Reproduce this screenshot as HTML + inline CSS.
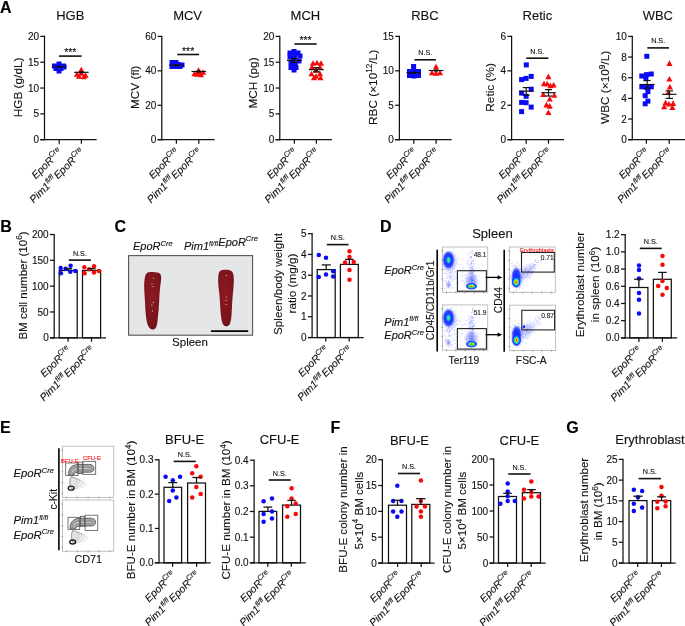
<!DOCTYPE html>
<html><head><meta charset="utf-8"><style>
html,body{margin:0;padding:0;background:#fff;width:685px;height:626px;overflow:hidden}
text{font-family:"Liberation Sans", sans-serif;stroke-width:0.12px}
svg{will-change:transform}
</style></head><body>
<svg width="685" height="626" viewBox="0 0 685 626" style="display:block" font-family='"Liberation Sans", sans-serif'>
<defs>
<radialGradient id="blob" cx="50%" cy="50%" r="50%">
<stop offset="0" stop-color="#e00000"/><stop offset="0.14" stop-color="#ff7000"/><stop offset="0.26" stop-color="#e8e800"/>
<stop offset="0.4" stop-color="#30e050"/><stop offset="0.55" stop-color="#10c8f0"/><stop offset="0.72" stop-color="#1038ff"/>
<stop offset="0.88" stop-color="#2838ff" stop-opacity="0.75"/><stop offset="1" stop-color="#4050ff" stop-opacity="0"/></radialGradient>
<radialGradient id="blobB" cx="50%" cy="50%" r="50%">
<stop offset="0" stop-color="#b8f030"/><stop offset="0.12" stop-color="#30e070"/><stop offset="0.26" stop-color="#10c8f0"/><stop offset="0.42" stop-color="#1038ff"/>
<stop offset="0.75" stop-color="#2030ff" stop-opacity="0.85"/><stop offset="1" stop-color="#4050ff" stop-opacity="0"/></radialGradient>
<radialGradient id="blueblob" cx="50%" cy="50%" r="50%">
<stop offset="0" stop-color="#1030ff"/><stop offset="0.6" stop-color="#1a30ff" stop-opacity="0.95"/><stop offset="0.85" stop-color="#3040ff" stop-opacity="0.55"/><stop offset="1" stop-color="#5060ff" stop-opacity="0"/></radialGradient>
<radialGradient id="haze" cx="50%" cy="50%" r="50%">
<stop offset="0" stop-color="#3040ff" stop-opacity="0.6"/><stop offset="0.6" stop-color="#5060ff" stop-opacity="0.3"/><stop offset="1" stop-color="#7080ff" stop-opacity="0"/></radialGradient>
<radialGradient id="spl" cx="45%" cy="40%" r="70%">
<stop offset="0" stop-color="#8c1a22"/><stop offset="0.7" stop-color="#7c141c"/><stop offset="1" stop-color="#621016"/></radialGradient>
</defs>
<rect width="685" height="626" fill="#fff"/>
<text x="0.00" y="12.80" font-size="16" text-anchor="start" font-weight="bold" font-style="normal" fill="#000" stroke="#000" >A</text>
<line x1="44.50" y1="35.78" x2="44.50" y2="140.32" stroke="#111" stroke-width="1.25"/>
<line x1="40.30" y1="139.70" x2="44.50" y2="139.70" stroke="#111" stroke-width="1.25"/>
<text x="39.00" y="143.28" font-size="10" text-anchor="end" font-weight="normal" font-style="normal" fill="#111" stroke="#111" >0</text>
<line x1="40.30" y1="113.88" x2="44.50" y2="113.88" stroke="#111" stroke-width="1.25"/>
<text x="39.00" y="117.45" font-size="10" text-anchor="end" font-weight="normal" font-style="normal" fill="#111" stroke="#111" >5</text>
<line x1="40.30" y1="88.05" x2="44.50" y2="88.05" stroke="#111" stroke-width="1.25"/>
<text x="39.00" y="91.63" font-size="10" text-anchor="end" font-weight="normal" font-style="normal" fill="#111" stroke="#111" >10</text>
<line x1="40.30" y1="62.22" x2="44.50" y2="62.22" stroke="#111" stroke-width="1.25"/>
<text x="39.00" y="65.80" font-size="10" text-anchor="end" font-weight="normal" font-style="normal" fill="#111" stroke="#111" >15</text>
<line x1="40.30" y1="36.40" x2="44.50" y2="36.40" stroke="#111" stroke-width="1.25"/>
<text x="39.00" y="39.98" font-size="10" text-anchor="end" font-weight="normal" font-style="normal" fill="#111" stroke="#111" >20</text>
<line x1="40.30" y1="139.70" x2="96.70" y2="139.70" stroke="#111" stroke-width="1.25"/>
<line x1="59.20" y1="139.70" x2="59.20" y2="143.70" stroke="#111" stroke-width="1.25"/>
<line x1="81.40" y1="139.70" x2="81.40" y2="143.70" stroke="#111" stroke-width="1.25"/>
<text x="70.30" y="19.70" font-size="13" text-anchor="middle" font-weight="normal" font-style="normal" fill="#111" stroke="#111" >HGB</text>
<text transform="translate(21.60,87.40) rotate(-90)" font-size="11.8" text-anchor="middle" fill="#111" stroke="#111">HGB (g/dL)</text>
<text transform="translate(62.80,152.50) rotate(-45)" font-size="10.5" font-style="italic" text-anchor="end" fill="#111" stroke="#111">EpoR<tspan dy="-4.20" font-size="7.5">Cre</tspan></text>
<text transform="translate(85.00,152.50) rotate(-45)" font-size="10.5" font-style="italic" text-anchor="end" fill="#111" stroke="#111">Pim1<tspan dy="-4.20" font-size="7.0">fl/fl</tspan><tspan dy="4.20" dx="1.2">EpoR</tspan><tspan dy="-4.20" font-size="7.5">Cre</tspan></text>
<line x1="161.80" y1="35.78" x2="161.80" y2="140.32" stroke="#111" stroke-width="1.25"/>
<line x1="157.60" y1="139.70" x2="161.80" y2="139.70" stroke="#111" stroke-width="1.25"/>
<text x="156.30" y="143.28" font-size="10" text-anchor="end" font-weight="normal" font-style="normal" fill="#111" stroke="#111" >0</text>
<line x1="157.60" y1="105.27" x2="161.80" y2="105.27" stroke="#111" stroke-width="1.25"/>
<text x="156.30" y="108.85" font-size="10" text-anchor="end" font-weight="normal" font-style="normal" fill="#111" stroke="#111" >20</text>
<line x1="157.60" y1="70.83" x2="161.80" y2="70.83" stroke="#111" stroke-width="1.25"/>
<text x="156.30" y="74.41" font-size="10" text-anchor="end" font-weight="normal" font-style="normal" fill="#111" stroke="#111" >40</text>
<line x1="157.60" y1="36.40" x2="161.80" y2="36.40" stroke="#111" stroke-width="1.25"/>
<text x="156.30" y="39.98" font-size="10" text-anchor="end" font-weight="normal" font-style="normal" fill="#111" stroke="#111" >60</text>
<line x1="157.60" y1="139.70" x2="214.60" y2="139.70" stroke="#111" stroke-width="1.25"/>
<line x1="176.40" y1="139.70" x2="176.40" y2="143.70" stroke="#111" stroke-width="1.25"/>
<line x1="198.80" y1="139.70" x2="198.80" y2="143.70" stroke="#111" stroke-width="1.25"/>
<text x="187.60" y="19.70" font-size="13" text-anchor="middle" font-weight="normal" font-style="normal" fill="#111" stroke="#111" >MCV</text>
<text transform="translate(138.90,87.40) rotate(-90)" font-size="11.8" text-anchor="middle" fill="#111" stroke="#111">MCV (fl)</text>
<text transform="translate(180.00,152.50) rotate(-45)" font-size="10.5" font-style="italic" text-anchor="end" fill="#111" stroke="#111">EpoR<tspan dy="-4.20" font-size="7.5">Cre</tspan></text>
<text transform="translate(202.40,152.50) rotate(-45)" font-size="10.5" font-style="italic" text-anchor="end" fill="#111" stroke="#111">Pim1<tspan dy="-4.20" font-size="7.0">fl/fl</tspan><tspan dy="4.20" dx="1.2">EpoR</tspan><tspan dy="-4.20" font-size="7.5">Cre</tspan></text>
<line x1="279.80" y1="35.78" x2="279.80" y2="140.32" stroke="#111" stroke-width="1.25"/>
<line x1="275.60" y1="139.70" x2="279.80" y2="139.70" stroke="#111" stroke-width="1.25"/>
<text x="274.30" y="143.28" font-size="10" text-anchor="end" font-weight="normal" font-style="normal" fill="#111" stroke="#111" >0</text>
<line x1="275.60" y1="113.88" x2="279.80" y2="113.88" stroke="#111" stroke-width="1.25"/>
<text x="274.30" y="117.45" font-size="10" text-anchor="end" font-weight="normal" font-style="normal" fill="#111" stroke="#111" >5</text>
<line x1="275.60" y1="88.05" x2="279.80" y2="88.05" stroke="#111" stroke-width="1.25"/>
<text x="274.30" y="91.63" font-size="10" text-anchor="end" font-weight="normal" font-style="normal" fill="#111" stroke="#111" >10</text>
<line x1="275.60" y1="62.22" x2="279.80" y2="62.22" stroke="#111" stroke-width="1.25"/>
<text x="274.30" y="65.80" font-size="10" text-anchor="end" font-weight="normal" font-style="normal" fill="#111" stroke="#111" >15</text>
<line x1="275.60" y1="36.40" x2="279.80" y2="36.40" stroke="#111" stroke-width="1.25"/>
<text x="274.30" y="39.98" font-size="10" text-anchor="end" font-weight="normal" font-style="normal" fill="#111" stroke="#111" >20</text>
<line x1="275.60" y1="139.70" x2="331.90" y2="139.70" stroke="#111" stroke-width="1.25"/>
<line x1="294.40" y1="139.70" x2="294.40" y2="143.70" stroke="#111" stroke-width="1.25"/>
<line x1="316.40" y1="139.70" x2="316.40" y2="143.70" stroke="#111" stroke-width="1.25"/>
<text x="305.40" y="19.70" font-size="13" text-anchor="middle" font-weight="normal" font-style="normal" fill="#111" stroke="#111" >MCH</text>
<text transform="translate(256.90,83.00) rotate(-90)" font-size="11.8" text-anchor="middle" fill="#111" stroke="#111">MCH (pg)</text>
<text transform="translate(298.00,152.50) rotate(-45)" font-size="10.5" font-style="italic" text-anchor="end" fill="#111" stroke="#111">EpoR<tspan dy="-4.20" font-size="7.5">Cre</tspan></text>
<text transform="translate(320.00,152.50) rotate(-45)" font-size="10.5" font-style="italic" text-anchor="end" fill="#111" stroke="#111">Pim1<tspan dy="-4.20" font-size="7.0">fl/fl</tspan><tspan dy="4.20" dx="1.2">EpoR</tspan><tspan dy="-4.20" font-size="7.5">Cre</tspan></text>
<line x1="399.40" y1="35.78" x2="399.40" y2="140.32" stroke="#111" stroke-width="1.25"/>
<line x1="395.20" y1="139.70" x2="399.40" y2="139.70" stroke="#111" stroke-width="1.25"/>
<text x="393.90" y="143.28" font-size="10" text-anchor="end" font-weight="normal" font-style="normal" fill="#111" stroke="#111" >0</text>
<line x1="395.20" y1="105.27" x2="399.40" y2="105.27" stroke="#111" stroke-width="1.25"/>
<text x="393.90" y="108.85" font-size="10" text-anchor="end" font-weight="normal" font-style="normal" fill="#111" stroke="#111" >5</text>
<line x1="395.20" y1="70.83" x2="399.40" y2="70.83" stroke="#111" stroke-width="1.25"/>
<text x="393.90" y="74.41" font-size="10" text-anchor="end" font-weight="normal" font-style="normal" fill="#111" stroke="#111" >10</text>
<line x1="395.20" y1="36.40" x2="399.40" y2="36.40" stroke="#111" stroke-width="1.25"/>
<text x="393.90" y="39.98" font-size="10" text-anchor="end" font-weight="normal" font-style="normal" fill="#111" stroke="#111" >15</text>
<line x1="395.20" y1="139.70" x2="451.60" y2="139.70" stroke="#111" stroke-width="1.25"/>
<line x1="413.80" y1="139.70" x2="413.80" y2="143.70" stroke="#111" stroke-width="1.25"/>
<line x1="436.10" y1="139.70" x2="436.10" y2="143.70" stroke="#111" stroke-width="1.25"/>
<text x="424.95" y="19.70" font-size="13" text-anchor="middle" font-weight="normal" font-style="normal" fill="#111" stroke="#111" >RBC</text>
<text transform="translate(376.50,87.40) rotate(-90)" font-size="11.8" text-anchor="middle" fill="#111" stroke="#111">RBC (×10<tspan dy="-4.2" font-size="8.2">12</tspan><tspan dy="4.2">/L)</tspan></text>
<text transform="translate(417.40,152.50) rotate(-45)" font-size="10.5" font-style="italic" text-anchor="end" fill="#111" stroke="#111">EpoR<tspan dy="-4.20" font-size="7.5">Cre</tspan></text>
<text transform="translate(439.70,152.50) rotate(-45)" font-size="10.5" font-style="italic" text-anchor="end" fill="#111" stroke="#111">Pim1<tspan dy="-4.20" font-size="7.0">fl/fl</tspan><tspan dy="4.20" dx="1.2">EpoR</tspan><tspan dy="-4.20" font-size="7.5">Cre</tspan></text>
<line x1="511.60" y1="35.77" x2="511.60" y2="140.32" stroke="#111" stroke-width="1.25"/>
<line x1="507.40" y1="139.70" x2="511.60" y2="139.70" stroke="#111" stroke-width="1.25"/>
<text x="506.10" y="143.28" font-size="10" text-anchor="end" font-weight="normal" font-style="normal" fill="#111" stroke="#111" >0</text>
<line x1="507.40" y1="105.27" x2="511.60" y2="105.27" stroke="#111" stroke-width="1.25"/>
<text x="506.10" y="108.85" font-size="10" text-anchor="end" font-weight="normal" font-style="normal" fill="#111" stroke="#111" >2</text>
<line x1="507.40" y1="70.83" x2="511.60" y2="70.83" stroke="#111" stroke-width="1.25"/>
<text x="506.10" y="74.41" font-size="10" text-anchor="end" font-weight="normal" font-style="normal" fill="#111" stroke="#111" >4</text>
<line x1="507.40" y1="36.40" x2="511.60" y2="36.40" stroke="#111" stroke-width="1.25"/>
<text x="506.10" y="39.98" font-size="10" text-anchor="end" font-weight="normal" font-style="normal" fill="#111" stroke="#111" >6</text>
<line x1="507.40" y1="139.70" x2="564.00" y2="139.70" stroke="#111" stroke-width="1.25"/>
<line x1="526.20" y1="139.70" x2="526.20" y2="143.70" stroke="#111" stroke-width="1.25"/>
<line x1="548.50" y1="139.70" x2="548.50" y2="143.70" stroke="#111" stroke-width="1.25"/>
<text x="537.35" y="19.70" font-size="13" text-anchor="middle" font-weight="normal" font-style="normal" fill="#111" stroke="#111" >Retic</text>
<text transform="translate(494.30,87.40) rotate(-90)" font-size="11.8" text-anchor="middle" fill="#111" stroke="#111">Retic (%)</text>
<text transform="translate(529.80,152.50) rotate(-45)" font-size="10.5" font-style="italic" text-anchor="end" fill="#111" stroke="#111">EpoR<tspan dy="-4.20" font-size="7.5">Cre</tspan></text>
<text transform="translate(552.10,152.50) rotate(-45)" font-size="10.5" font-style="italic" text-anchor="end" fill="#111" stroke="#111">Pim1<tspan dy="-4.20" font-size="7.0">fl/fl</tspan><tspan dy="4.20" dx="1.2">EpoR</tspan><tspan dy="-4.20" font-size="7.5">Cre</tspan></text>
<line x1="632.30" y1="35.78" x2="632.30" y2="140.32" stroke="#111" stroke-width="1.25"/>
<line x1="628.10" y1="139.70" x2="632.30" y2="139.70" stroke="#111" stroke-width="1.25"/>
<text x="626.80" y="143.28" font-size="10" text-anchor="end" font-weight="normal" font-style="normal" fill="#111" stroke="#111" >0</text>
<line x1="628.10" y1="119.04" x2="632.30" y2="119.04" stroke="#111" stroke-width="1.25"/>
<text x="626.80" y="122.62" font-size="10" text-anchor="end" font-weight="normal" font-style="normal" fill="#111" stroke="#111" >2</text>
<line x1="628.10" y1="98.38" x2="632.30" y2="98.38" stroke="#111" stroke-width="1.25"/>
<text x="626.80" y="101.96" font-size="10" text-anchor="end" font-weight="normal" font-style="normal" fill="#111" stroke="#111" >4</text>
<line x1="628.10" y1="77.72" x2="632.30" y2="77.72" stroke="#111" stroke-width="1.25"/>
<text x="626.80" y="81.30" font-size="10" text-anchor="end" font-weight="normal" font-style="normal" fill="#111" stroke="#111" >6</text>
<line x1="628.10" y1="57.06" x2="632.30" y2="57.06" stroke="#111" stroke-width="1.25"/>
<text x="626.80" y="60.64" font-size="10" text-anchor="end" font-weight="normal" font-style="normal" fill="#111" stroke="#111" >8</text>
<line x1="628.10" y1="36.40" x2="632.30" y2="36.40" stroke="#111" stroke-width="1.25"/>
<text x="626.80" y="39.98" font-size="10" text-anchor="end" font-weight="normal" font-style="normal" fill="#111" stroke="#111" >10</text>
<line x1="628.10" y1="139.70" x2="686.00" y2="139.70" stroke="#111" stroke-width="1.25"/>
<line x1="646.40" y1="139.70" x2="646.40" y2="143.70" stroke="#111" stroke-width="1.25"/>
<line x1="669.20" y1="139.70" x2="669.20" y2="143.70" stroke="#111" stroke-width="1.25"/>
<text x="657.80" y="19.70" font-size="13" text-anchor="middle" font-weight="normal" font-style="normal" fill="#111" stroke="#111" >WBC</text>
<text transform="translate(609.40,87.40) rotate(-90)" font-size="11.8" text-anchor="middle" fill="#111" stroke="#111">WBC (×10<tspan dy="-4.2" font-size="8.2">9</tspan><tspan dy="4.2">/L)</tspan></text>
<text transform="translate(650.00,152.50) rotate(-45)" font-size="10.5" font-style="italic" text-anchor="end" fill="#111" stroke="#111">EpoR<tspan dy="-4.20" font-size="7.5">Cre</tspan></text>
<text transform="translate(672.80,152.50) rotate(-45)" font-size="10.5" font-style="italic" text-anchor="end" fill="#111" stroke="#111">Pim1<tspan dy="-4.20" font-size="7.0">fl/fl</tspan><tspan dy="4.20" dx="1.2">EpoR</tspan><tspan dy="-4.20" font-size="7.5">Cre</tspan></text>
<rect x="52.00" y="63.50" width="5" height="5" fill="#0a0af5"/>
<rect x="56.50" y="61.50" width="5" height="5" fill="#0a0af5"/>
<rect x="61.00" y="63.50" width="5" height="5" fill="#0a0af5"/>
<rect x="53.50" y="66.00" width="5" height="5" fill="#0a0af5"/>
<rect x="58.50" y="66.00" width="5" height="5" fill="#0a0af5"/>
<rect x="61.50" y="64.50" width="5" height="5" fill="#0a0af5"/>
<rect x="56.50" y="68.50" width="5" height="5" fill="#0a0af5"/>
<path d="M77.00 71.20 L80.10 76.80 L73.90 76.80Z" fill="#f50a0a"/>
<path d="M81.30 66.70 L84.40 72.30 L78.20 72.30Z" fill="#f50a0a"/>
<path d="M85.50 72.20 L88.60 77.80 L82.40 77.80Z" fill="#f50a0a"/>
<path d="M79.00 73.20 L82.10 78.80 L75.90 78.80Z" fill="#f50a0a"/>
<path d="M84.00 73.70 L87.10 79.30 L80.90 79.30Z" fill="#f50a0a"/>
<path d="M81.30 70.20 L84.40 75.80 L78.20 75.80Z" fill="#f50a0a"/>
<line x1="51.90" y1="66.80" x2="66.50" y2="66.80" stroke="#111" stroke-width="1.15"/>
<line x1="59.20" y1="66.30" x2="59.20" y2="67.30" stroke="#111" stroke-width="1.15"/>
<line x1="57.20" y1="66.30" x2="61.20" y2="66.30" stroke="#111" stroke-width="1.15"/>
<line x1="57.20" y1="67.30" x2="61.20" y2="67.30" stroke="#111" stroke-width="1.15"/>
<line x1="74.10" y1="72.30" x2="88.70" y2="72.30" stroke="#111" stroke-width="1.15"/>
<line x1="81.40" y1="71.80" x2="81.40" y2="72.80" stroke="#111" stroke-width="1.15"/>
<line x1="79.40" y1="71.80" x2="83.40" y2="71.80" stroke="#111" stroke-width="1.15"/>
<line x1="79.40" y1="72.80" x2="83.40" y2="72.80" stroke="#111" stroke-width="1.15"/>
<line x1="59.00" y1="56.10" x2="81.60" y2="56.10" stroke="#111" stroke-width="1.6"/>
<text x="70.30" y="56.20" font-size="10.5" text-anchor="middle" font-weight="normal" font-style="normal" fill="#111" stroke="#111" >***</text>
<rect x="169.50" y="60.00" width="5" height="5" fill="#0a0af5"/>
<rect x="173.50" y="60.00" width="5" height="5" fill="#0a0af5"/>
<rect x="169.50" y="64.00" width="5" height="5" fill="#0a0af5"/>
<rect x="173.50" y="64.00" width="5" height="5" fill="#0a0af5"/>
<rect x="177.50" y="64.00" width="5" height="5" fill="#0a0af5"/>
<rect x="179.50" y="62.50" width="5" height="5" fill="#0a0af5"/>
<rect x="175.50" y="62.00" width="5" height="5" fill="#0a0af5"/>
<path d="M194.50 70.70 L197.60 76.30 L191.40 76.30Z" fill="#f50a0a"/>
<path d="M198.50 67.20 L201.60 72.80 L195.40 72.80Z" fill="#f50a0a"/>
<path d="M203.00 69.20 L206.10 74.80 L199.90 74.80Z" fill="#f50a0a"/>
<path d="M197.00 71.20 L200.10 76.80 L193.90 76.80Z" fill="#f50a0a"/>
<path d="M201.00 71.70 L204.10 77.30 L197.90 77.30Z" fill="#f50a0a"/>
<path d="M198.50 69.20 L201.60 74.80 L195.40 74.80Z" fill="#f50a0a"/>
<line x1="169.10" y1="65.20" x2="183.70" y2="65.20" stroke="#111" stroke-width="1.15"/>
<line x1="176.40" y1="64.70" x2="176.40" y2="65.70" stroke="#111" stroke-width="1.15"/>
<line x1="174.40" y1="64.70" x2="178.40" y2="64.70" stroke="#111" stroke-width="1.15"/>
<line x1="174.40" y1="65.70" x2="178.40" y2="65.70" stroke="#111" stroke-width="1.15"/>
<line x1="191.50" y1="71.50" x2="206.10" y2="71.50" stroke="#111" stroke-width="1.15"/>
<line x1="198.80" y1="71.00" x2="198.80" y2="72.00" stroke="#111" stroke-width="1.15"/>
<line x1="196.80" y1="71.00" x2="200.80" y2="71.00" stroke="#111" stroke-width="1.15"/>
<line x1="196.80" y1="72.00" x2="200.80" y2="72.00" stroke="#111" stroke-width="1.15"/>
<line x1="177.20" y1="54.50" x2="199.10" y2="54.50" stroke="#111" stroke-width="1.6"/>
<text x="188.15" y="54.60" font-size="10.5" text-anchor="middle" font-weight="normal" font-style="normal" fill="#111" stroke="#111" >***</text>
<rect x="291.50" y="49.00" width="5" height="5" fill="#0a0af5"/>
<rect x="287.50" y="50.50" width="5" height="5" fill="#0a0af5"/>
<rect x="295.50" y="50.50" width="5" height="5" fill="#0a0af5"/>
<rect x="297.50" y="53.50" width="5" height="5" fill="#0a0af5"/>
<rect x="287.50" y="54.50" width="5" height="5" fill="#0a0af5"/>
<rect x="291.50" y="55.50" width="5" height="5" fill="#0a0af5"/>
<rect x="292.50" y="52.50" width="5" height="5" fill="#0a0af5"/>
<rect x="290.50" y="57.50" width="5" height="5" fill="#0a0af5"/>
<rect x="292.50" y="63.50" width="5" height="5" fill="#0a0af5"/>
<rect x="296.50" y="58.50" width="5" height="5" fill="#0a0af5"/>
<rect x="288.50" y="60.50" width="5" height="5" fill="#0a0af5"/>
<rect x="292.50" y="61.50" width="5" height="5" fill="#0a0af5"/>
<rect x="288.50" y="65.00" width="5" height="5" fill="#0a0af5"/>
<rect x="293.50" y="65.00" width="5" height="5" fill="#0a0af5"/>
<rect x="291.50" y="67.50" width="5" height="5" fill="#0a0af5"/>
<path d="M313.00 60.20 L316.10 65.80 L309.90 65.80Z" fill="#f50a0a"/>
<path d="M317.00 59.70 L320.10 65.30 L313.90 65.30Z" fill="#f50a0a"/>
<path d="M321.00 60.20 L324.10 65.80 L317.90 65.80Z" fill="#f50a0a"/>
<path d="M312.00 64.20 L315.10 69.80 L308.90 69.80Z" fill="#f50a0a"/>
<path d="M320.00 64.20 L323.10 69.80 L316.90 69.80Z" fill="#f50a0a"/>
<path d="M316.00 67.20 L319.10 72.80 L312.90 72.80Z" fill="#f50a0a"/>
<path d="M311.50 70.70 L314.60 76.30 L308.40 76.30Z" fill="#f50a0a"/>
<path d="M320.00 70.70 L323.10 76.30 L316.90 76.30Z" fill="#f50a0a"/>
<path d="M314.00 74.70 L317.10 80.30 L310.90 80.30Z" fill="#f50a0a"/>
<path d="M320.50 74.70 L323.60 80.30 L317.40 80.30Z" fill="#f50a0a"/>
<path d="M316.00 73.20 L319.10 78.80 L312.90 78.80Z" fill="#f50a0a"/>
<line x1="286.90" y1="60.40" x2="301.90" y2="60.40" stroke="#111" stroke-width="1.15"/>
<line x1="294.40" y1="58.40" x2="294.40" y2="62.40" stroke="#111" stroke-width="1.15"/>
<line x1="291.10" y1="58.40" x2="297.70" y2="58.40" stroke="#111" stroke-width="1.15"/>
<line x1="291.10" y1="62.40" x2="297.70" y2="62.40" stroke="#111" stroke-width="1.15"/>
<line x1="308.90" y1="69.70" x2="323.90" y2="69.70" stroke="#111" stroke-width="1.15"/>
<line x1="316.40" y1="67.60" x2="316.40" y2="71.80" stroke="#111" stroke-width="1.15"/>
<line x1="313.10" y1="67.60" x2="319.70" y2="67.60" stroke="#111" stroke-width="1.15"/>
<line x1="313.10" y1="71.80" x2="319.70" y2="71.80" stroke="#111" stroke-width="1.15"/>
<line x1="294.40" y1="44.00" x2="316.70" y2="44.00" stroke="#111" stroke-width="1.6"/>
<text x="305.55" y="44.10" font-size="10.5" text-anchor="middle" font-weight="normal" font-style="normal" fill="#111" stroke="#111" >***</text>
<rect x="411.10" y="64.00" width="5" height="5" fill="#0a0af5"/>
<rect x="407.00" y="69.00" width="5" height="5" fill="#0a0af5"/>
<rect x="411.50" y="69.00" width="5" height="5" fill="#0a0af5"/>
<rect x="416.00" y="69.00" width="5" height="5" fill="#0a0af5"/>
<rect x="407.00" y="73.00" width="5" height="5" fill="#0a0af5"/>
<rect x="411.50" y="73.50" width="5" height="5" fill="#0a0af5"/>
<rect x="416.00" y="73.00" width="5" height="5" fill="#0a0af5"/>
<path d="M436.00 63.70 L439.10 69.30 L432.90 69.30Z" fill="#f50a0a"/>
<path d="M432.00 69.70 L435.10 75.30 L428.90 75.30Z" fill="#f50a0a"/>
<path d="M440.00 69.70 L443.10 75.30 L436.90 75.30Z" fill="#f50a0a"/>
<path d="M436.00 70.20 L439.10 75.80 L432.90 75.80Z" fill="#f50a0a"/>
<line x1="406.50" y1="72.70" x2="421.10" y2="72.70" stroke="#111" stroke-width="1.15"/>
<line x1="413.80" y1="72.20" x2="413.80" y2="73.20" stroke="#111" stroke-width="1.15"/>
<line x1="411.80" y1="72.20" x2="415.80" y2="72.20" stroke="#111" stroke-width="1.15"/>
<line x1="411.80" y1="73.20" x2="415.80" y2="73.20" stroke="#111" stroke-width="1.15"/>
<line x1="428.80" y1="70.50" x2="443.40" y2="70.50" stroke="#111" stroke-width="1.15"/>
<line x1="436.10" y1="70.00" x2="436.10" y2="71.00" stroke="#111" stroke-width="1.15"/>
<line x1="434.10" y1="70.00" x2="438.10" y2="70.00" stroke="#111" stroke-width="1.15"/>
<line x1="434.10" y1="71.00" x2="438.10" y2="71.00" stroke="#111" stroke-width="1.15"/>
<line x1="414.50" y1="59.80" x2="435.90" y2="59.80" stroke="#111" stroke-width="1.6"/>
<text x="425.20" y="55.20" font-size="7.2" text-anchor="middle" font-weight="normal" font-style="normal" fill="#111" stroke="#111" >N.S.</text>
<rect x="523.80" y="62.40" width="5" height="5" fill="#0a0af5"/>
<rect x="528.70" y="73.90" width="5" height="5" fill="#0a0af5"/>
<rect x="523.60" y="75.90" width="5" height="5" fill="#0a0af5"/>
<rect x="519.10" y="77.10" width="5" height="5" fill="#0a0af5"/>
<rect x="528.70" y="86.70" width="5" height="5" fill="#0a0af5"/>
<rect x="519.10" y="90.60" width="5" height="5" fill="#0a0af5"/>
<rect x="523.60" y="93.80" width="5" height="5" fill="#0a0af5"/>
<rect x="519.10" y="99.90" width="5" height="5" fill="#0a0af5"/>
<rect x="523.60" y="100.20" width="5" height="5" fill="#0a0af5"/>
<rect x="528.70" y="104.60" width="5" height="5" fill="#0a0af5"/>
<rect x="519.10" y="109.10" width="5" height="5" fill="#0a0af5"/>
<path d="M548.40 73.60 L551.50 79.20 L545.30 79.20Z" fill="#f50a0a"/>
<path d="M544.00 80.70 L547.10 86.30 L540.90 86.30Z" fill="#f50a0a"/>
<path d="M547.20 80.70 L550.30 86.30 L544.10 86.30Z" fill="#f50a0a"/>
<path d="M550.40 82.60 L553.50 88.20 L547.30 88.20Z" fill="#f50a0a"/>
<path d="M553.60 82.00 L556.70 87.60 L550.50 87.60Z" fill="#f50a0a"/>
<path d="M543.30 91.50 L546.40 97.10 L540.20 97.10Z" fill="#f50a0a"/>
<path d="M554.20 92.20 L557.30 97.80 L551.10 97.80Z" fill="#f50a0a"/>
<path d="M549.70 96.00 L552.80 101.60 L546.60 101.60Z" fill="#f50a0a"/>
<path d="M546.50 101.80 L549.60 107.40 L543.40 107.40Z" fill="#f50a0a"/>
<path d="M549.70 103.10 L552.80 108.70 L546.60 108.70Z" fill="#f50a0a"/>
<path d="M548.40 109.50 L551.50 115.10 L545.30 115.10Z" fill="#f50a0a"/>
<line x1="518.90" y1="91.20" x2="533.50" y2="91.20" stroke="#111" stroke-width="1.15"/>
<line x1="526.20" y1="87.60" x2="526.20" y2="95.20" stroke="#111" stroke-width="1.15"/>
<line x1="522.70" y1="87.60" x2="529.70" y2="87.60" stroke="#111" stroke-width="1.15"/>
<line x1="522.70" y1="95.20" x2="529.70" y2="95.20" stroke="#111" stroke-width="1.15"/>
<line x1="541.20" y1="92.70" x2="555.80" y2="92.70" stroke="#111" stroke-width="1.15"/>
<line x1="548.50" y1="89.60" x2="548.50" y2="96.00" stroke="#111" stroke-width="1.15"/>
<line x1="545.00" y1="89.60" x2="552.00" y2="89.60" stroke="#111" stroke-width="1.15"/>
<line x1="545.00" y1="96.00" x2="552.00" y2="96.00" stroke="#111" stroke-width="1.15"/>
<line x1="526.30" y1="58.20" x2="548.40" y2="58.20" stroke="#111" stroke-width="1.6"/>
<text x="537.35" y="53.80" font-size="7.2" text-anchor="middle" font-weight="normal" font-style="normal" fill="#111" stroke="#111" >N.S.</text>
<rect x="644.30" y="53.80" width="5" height="5" fill="#0a0af5"/>
<rect x="648.80" y="71.50" width="5" height="5" fill="#0a0af5"/>
<rect x="644.10" y="72.10" width="5" height="5" fill="#0a0af5"/>
<rect x="639.30" y="73.50" width="5" height="5" fill="#0a0af5"/>
<rect x="643.40" y="76.20" width="5" height="5" fill="#0a0af5"/>
<rect x="639.30" y="84.30" width="5" height="5" fill="#0a0af5"/>
<rect x="648.80" y="84.30" width="5" height="5" fill="#0a0af5"/>
<rect x="644.10" y="85.00" width="5" height="5" fill="#0a0af5"/>
<rect x="645.40" y="89.10" width="5" height="5" fill="#0a0af5"/>
<rect x="642.70" y="93.20" width="5" height="5" fill="#0a0af5"/>
<rect x="645.40" y="98.60" width="5" height="5" fill="#0a0af5"/>
<rect x="642.70" y="101.30" width="5" height="5" fill="#0a0af5"/>
<path d="M669.40 60.30 L672.50 65.90 L666.30 65.90Z" fill="#f50a0a"/>
<path d="M669.40 75.90 L672.50 81.50 L666.30 81.50Z" fill="#f50a0a"/>
<path d="M669.90 84.00 L673.00 89.60 L666.80 89.60Z" fill="#f50a0a"/>
<path d="M668.30 89.50 L671.40 95.10 L665.20 95.10Z" fill="#f50a0a"/>
<path d="M665.60 99.70 L668.70 105.30 L662.50 105.30Z" fill="#f50a0a"/>
<path d="M673.10 100.30 L676.20 105.90 L670.00 105.90Z" fill="#f50a0a"/>
<path d="M669.00 101.00 L672.10 106.60 L665.90 106.60Z" fill="#f50a0a"/>
<path d="M664.20 103.70 L667.30 109.30 L661.10 109.30Z" fill="#f50a0a"/>
<path d="M672.40 104.40 L675.50 110.00 L669.30 110.00Z" fill="#f50a0a"/>
<line x1="639.80" y1="84.50" x2="654.60" y2="84.50" stroke="#111" stroke-width="1.15"/>
<line x1="647.20" y1="80.50" x2="647.20" y2="88.20" stroke="#111" stroke-width="1.15"/>
<line x1="643.80" y1="80.50" x2="650.60" y2="80.50" stroke="#111" stroke-width="1.15"/>
<line x1="643.80" y1="88.20" x2="650.60" y2="88.20" stroke="#111" stroke-width="1.15"/>
<line x1="662.10" y1="94.30" x2="676.50" y2="94.30" stroke="#111" stroke-width="1.15"/>
<line x1="669.30" y1="90.90" x2="669.30" y2="98.40" stroke="#111" stroke-width="1.15"/>
<line x1="665.60" y1="90.90" x2="673.00" y2="90.90" stroke="#111" stroke-width="1.15"/>
<line x1="665.60" y1="98.40" x2="673.00" y2="98.40" stroke="#111" stroke-width="1.15"/>
<line x1="647.30" y1="47.90" x2="669.00" y2="47.90" stroke="#111" stroke-width="1.6"/>
<text x="658.15" y="43.00" font-size="7.2" text-anchor="middle" font-weight="normal" font-style="normal" fill="#111" stroke="#111" >N.S.</text>
<text x="0.30" y="231.90" font-size="16" text-anchor="start" font-weight="bold" font-style="normal" fill="#000" stroke="#000" >B</text>
<rect x="59.20" y="270.50" width="18.00" height="67.30" fill="#fff" stroke="#111" stroke-width="1.25" />
<rect x="82.50" y="270.50" width="18.10" height="67.30" fill="#fff" stroke="#111" stroke-width="1.25" />
<circle cx="60.70" cy="267.90" r="2.25" fill="#0a0af5"/>
<circle cx="65.60" cy="268.80" r="2.25" fill="#0a0af5"/>
<circle cx="70.60" cy="265.80" r="2.25" fill="#0a0af5"/>
<circle cx="70.30" cy="271.70" r="2.25" fill="#0a0af5"/>
<circle cx="75.40" cy="271.10" r="2.25" fill="#0a0af5"/>
<circle cx="60.90" cy="273.20" r="2.25" fill="#0a0af5"/>
<circle cx="84.30" cy="267.30" r="2.25" fill="#f50a0a"/>
<circle cx="89.20" cy="269.30" r="2.25" fill="#f50a0a"/>
<circle cx="94.00" cy="266.20" r="2.25" fill="#f50a0a"/>
<circle cx="94.00" cy="272.60" r="2.25" fill="#f50a0a"/>
<circle cx="99.00" cy="271.10" r="2.25" fill="#f50a0a"/>
<circle cx="84.60" cy="273.20" r="2.25" fill="#f50a0a"/>
<line x1="68.20" y1="268.70" x2="68.20" y2="270.50" stroke="#111" stroke-width="1.25"/>
<line x1="64.20" y1="268.70" x2="72.20" y2="268.70" stroke="#111" stroke-width="1.25"/>
<line x1="91.55" y1="268.70" x2="91.55" y2="270.50" stroke="#111" stroke-width="1.25"/>
<line x1="87.55" y1="268.70" x2="95.55" y2="268.70" stroke="#111" stroke-width="1.25"/>
<line x1="54.20" y1="233.88" x2="54.20" y2="338.43" stroke="#111" stroke-width="1.25"/>
<line x1="50.00" y1="337.80" x2="54.20" y2="337.80" stroke="#111" stroke-width="1.25"/>
<text x="48.70" y="341.38" font-size="10" text-anchor="end" font-weight="normal" font-style="normal" fill="#111" stroke="#111" >0</text>
<line x1="50.00" y1="311.98" x2="54.20" y2="311.98" stroke="#111" stroke-width="1.25"/>
<text x="48.70" y="315.56" font-size="10" text-anchor="end" font-weight="normal" font-style="normal" fill="#111" stroke="#111" >50</text>
<line x1="50.00" y1="286.15" x2="54.20" y2="286.15" stroke="#111" stroke-width="1.25"/>
<text x="48.70" y="289.73" font-size="10" text-anchor="end" font-weight="normal" font-style="normal" fill="#111" stroke="#111" >100</text>
<line x1="50.00" y1="260.32" x2="54.20" y2="260.32" stroke="#111" stroke-width="1.25"/>
<text x="48.70" y="263.90" font-size="10" text-anchor="end" font-weight="normal" font-style="normal" fill="#111" stroke="#111" >150</text>
<line x1="50.00" y1="234.50" x2="54.20" y2="234.50" stroke="#111" stroke-width="1.25"/>
<text x="48.70" y="238.08" font-size="10" text-anchor="end" font-weight="normal" font-style="normal" fill="#111" stroke="#111" >200</text>
<line x1="50.00" y1="337.80" x2="106.00" y2="337.80" stroke="#111" stroke-width="1.25"/>
<line x1="68.10" y1="337.80" x2="68.10" y2="341.80" stroke="#111" stroke-width="1.25"/>
<line x1="91.50" y1="337.80" x2="91.50" y2="341.80" stroke="#111" stroke-width="1.25"/>
<line x1="68.80" y1="260.10" x2="91.00" y2="260.10" stroke="#111" stroke-width="1.6"/>
<text x="79.90" y="256.00" font-size="7.2" text-anchor="middle" font-weight="normal" font-style="normal" fill="#111" stroke="#111" >N.S.</text>
<text transform="translate(71.70,350.60) rotate(-45)" font-size="10.5" font-style="italic" text-anchor="end" fill="#111" stroke="#111">EpoR<tspan dy="-4.20" font-size="7.5">Cre</tspan></text>
<text transform="translate(95.10,350.60) rotate(-45)" font-size="10.5" font-style="italic" text-anchor="end" fill="#111" stroke="#111">Pim1<tspan dy="-4.20" font-size="7.0">fl/fl</tspan><tspan dy="4.20" dx="1.2">EpoR</tspan><tspan dy="-4.20" font-size="7.5">Cre</tspan></text>
<text transform="translate(26.60,285.50) rotate(-90)" font-size="11.5" text-anchor="middle" fill="#111" stroke="#111">BM cell number (10<tspan dy="-4.2" font-size="8.2">6</tspan><tspan dy="4.2">)</tspan></text>
<text x="114.50" y="231.90" font-size="16" text-anchor="start" font-weight="bold" font-style="normal" fill="#000" stroke="#000" >C</text>
<text x="133.00" y="249.70" font-size="11" text-anchor="start" font-weight="normal" font-style="italic" fill="#111" stroke="#111" >EpoR<tspan dy="-4.2" font-size="7.6">Cre</tspan><tspan dy="4.2"></tspan></text>
<text x="184.00" y="249.70" font-size="11" text-anchor="start" font-weight="normal" font-style="italic" fill="#111" stroke="#111" >Pim1<tspan dy="-4.2" font-size="7.0">fl/fl</tspan><tspan dy="4.2"></tspan><tspan dx="0.3">EpoR</tspan><tspan dy="-4.2" font-size="7.6">Cre</tspan><tspan dy="4.2"></tspan></text>
<rect x="128.60" y="255.60" width="124.00" height="79.60" fill="#e5e6e8" stroke="#555" stroke-width="1.1" />
<path d="M146.80 273.20 C147.72 272.38 149.13 272.27 150.50 272.10 C151.87 271.93 153.45 271.97 155.00 272.20 C156.55 272.43 158.77 272.53 159.80 273.50 C160.83 274.47 161.10 276.08 161.20 278.00 C161.30 279.92 160.67 282.50 160.40 285.00 C160.13 287.50 159.80 290.33 159.60 293.00 C159.40 295.67 159.37 298.17 159.20 301.00 C159.03 303.83 158.83 307.17 158.60 310.00 C158.37 312.83 158.07 315.58 157.80 318.00 C157.53 320.42 157.47 322.70 157.00 324.50 C156.53 326.30 155.92 328.00 155.00 328.80 C154.08 329.60 152.58 329.68 151.50 329.30 C150.42 328.92 149.33 328.05 148.50 326.50 C147.67 324.95 147.00 322.58 146.50 320.00 C146.00 317.42 145.75 314.00 145.50 311.00 C145.25 308.00 145.18 305.17 145.00 302.00 C144.82 298.83 144.53 295.00 144.40 292.00 C144.27 289.00 144.10 286.50 144.20 284.00 C144.30 281.50 144.57 278.80 145.00 277.00 C145.43 275.20 145.88 274.02 146.80 273.20 Z" fill="url(#spl)"/>
<path d="M220.80 270.60 C221.78 270.07 223.30 269.85 224.80 269.80 C226.30 269.75 228.43 269.72 229.80 270.30 C231.17 270.88 232.33 271.68 233.00 273.30 C233.67 274.92 233.73 277.55 233.80 280.00 C233.87 282.45 233.60 285.17 233.40 288.00 C233.20 290.83 232.83 294.00 232.60 297.00 C232.37 300.00 232.17 303.17 232.00 306.00 C231.83 308.83 231.80 311.58 231.60 314.00 C231.40 316.42 231.20 318.67 230.80 320.50 C230.40 322.33 230.00 324.03 229.20 325.00 C228.40 325.97 227.00 326.38 226.00 326.30 C225.00 326.22 223.93 325.55 223.20 324.50 C222.47 323.45 222.03 322.08 221.60 320.00 C221.17 317.92 220.87 314.83 220.60 312.00 C220.33 309.17 220.20 306.00 220.00 303.00 C219.80 300.00 219.67 296.83 219.40 294.00 C219.13 291.17 218.60 288.58 218.40 286.00 C218.20 283.42 218.12 280.67 218.20 278.50 C218.28 276.33 218.47 274.32 218.90 273.00 C219.33 271.68 219.82 271.13 220.80 270.60 Z" fill="url(#spl)"/>
<circle cx="153.5" cy="278" r="0.6" fill="#f4d8dc"/>
<circle cx="152" cy="284" r="0.6" fill="#f4d8dc"/>
<circle cx="153" cy="286.5" r="0.6" fill="#f4d8dc"/>
<circle cx="151.8" cy="305" r="0.6" fill="#f4d8dc"/>
<circle cx="153.2" cy="302.5" r="0.6" fill="#f4d8dc"/>
<circle cx="152.5" cy="311" r="0.6" fill="#f4d8dc"/>
<circle cx="226.5" cy="275.5" r="0.6" fill="#f4d8dc"/>
<circle cx="226.5" cy="297" r="0.6" fill="#f4d8dc"/>
<circle cx="226" cy="300.5" r="0.6" fill="#f4d8dc"/>
<circle cx="226.2" cy="304.5" r="0.6" fill="#f4d8dc"/>
<line x1="210.90" y1="331.20" x2="248.20" y2="331.20" stroke="#000" stroke-width="1.7"/>
<text x="190.00" y="345.60" font-size="11.5" text-anchor="middle" font-weight="normal" font-style="normal" fill="#111" stroke="#111" >Spleen</text>
<rect x="317.20" y="269.60" width="18.00" height="67.90" fill="#fff" stroke="#111" stroke-width="1.25" />
<rect x="340.40" y="264.40" width="17.90" height="73.10" fill="#fff" stroke="#111" stroke-width="1.25" />
<circle cx="318.80" cy="255.00" r="2.25" fill="#0a0af5"/>
<circle cx="326.00" cy="257.70" r="2.25" fill="#0a0af5"/>
<circle cx="333.20" cy="271.30" r="2.25" fill="#0a0af5"/>
<circle cx="326.00" cy="274.50" r="2.25" fill="#0a0af5"/>
<circle cx="318.80" cy="277.10" r="2.25" fill="#0a0af5"/>
<circle cx="333.20" cy="276.60" r="2.25" fill="#0a0af5"/>
<circle cx="349.50" cy="251.20" r="2.25" fill="#f50a0a"/>
<circle cx="349.50" cy="256.90" r="2.25" fill="#f50a0a"/>
<circle cx="345.10" cy="262.50" r="2.25" fill="#f50a0a"/>
<circle cx="353.70" cy="262.00" r="2.25" fill="#f50a0a"/>
<circle cx="349.50" cy="270.00" r="2.25" fill="#f50a0a"/>
<circle cx="349.50" cy="279.80" r="2.25" fill="#f50a0a"/>
<line x1="326.20" y1="264.90" x2="326.20" y2="269.60" stroke="#111" stroke-width="1.25"/>
<line x1="321.70" y1="264.90" x2="330.70" y2="264.90" stroke="#111" stroke-width="1.25"/>
<line x1="349.35" y1="259.40" x2="349.35" y2="264.40" stroke="#111" stroke-width="1.25"/>
<line x1="345.15" y1="259.40" x2="353.55" y2="259.40" stroke="#111" stroke-width="1.25"/>
<line x1="312.10" y1="233.07" x2="312.10" y2="338.12" stroke="#111" stroke-width="1.25"/>
<line x1="307.90" y1="337.50" x2="312.10" y2="337.50" stroke="#111" stroke-width="1.25"/>
<text x="306.60" y="341.08" font-size="10" text-anchor="end" font-weight="normal" font-style="normal" fill="#111" stroke="#111" >0</text>
<line x1="307.90" y1="316.74" x2="312.10" y2="316.74" stroke="#111" stroke-width="1.25"/>
<text x="306.60" y="320.32" font-size="10" text-anchor="end" font-weight="normal" font-style="normal" fill="#111" stroke="#111" >1</text>
<line x1="307.90" y1="295.98" x2="312.10" y2="295.98" stroke="#111" stroke-width="1.25"/>
<text x="306.60" y="299.56" font-size="10" text-anchor="end" font-weight="normal" font-style="normal" fill="#111" stroke="#111" >2</text>
<line x1="307.90" y1="275.22" x2="312.10" y2="275.22" stroke="#111" stroke-width="1.25"/>
<text x="306.60" y="278.80" font-size="10" text-anchor="end" font-weight="normal" font-style="normal" fill="#111" stroke="#111" >3</text>
<line x1="307.90" y1="254.46" x2="312.10" y2="254.46" stroke="#111" stroke-width="1.25"/>
<text x="306.60" y="258.04" font-size="10" text-anchor="end" font-weight="normal" font-style="normal" fill="#111" stroke="#111" >4</text>
<line x1="307.90" y1="233.70" x2="312.10" y2="233.70" stroke="#111" stroke-width="1.25"/>
<text x="306.60" y="237.28" font-size="10" text-anchor="end" font-weight="normal" font-style="normal" fill="#111" stroke="#111" >5</text>
<line x1="307.90" y1="337.50" x2="363.60" y2="337.50" stroke="#111" stroke-width="1.25"/>
<line x1="325.80" y1="337.50" x2="325.80" y2="341.50" stroke="#111" stroke-width="1.25"/>
<line x1="349.20" y1="337.50" x2="349.20" y2="341.50" stroke="#111" stroke-width="1.25"/>
<line x1="326.80" y1="244.60" x2="348.60" y2="244.60" stroke="#111" stroke-width="1.6"/>
<text x="337.70" y="240.30" font-size="7.2" text-anchor="middle" font-weight="normal" font-style="normal" fill="#111" stroke="#111" >N.S.</text>
<text transform="translate(329.40,350.30) rotate(-45)" font-size="10.5" font-style="italic" text-anchor="end" fill="#111" stroke="#111">EpoR<tspan dy="-4.20" font-size="7.5">Cre</tspan></text>
<text transform="translate(352.80,350.30) rotate(-45)" font-size="10.5" font-style="italic" text-anchor="end" fill="#111" stroke="#111">Pim1<tspan dy="-4.20" font-size="7.0">fl/fl</tspan><tspan dy="4.20" dx="1.2">EpoR</tspan><tspan dy="-4.20" font-size="7.5">Cre</tspan></text>
<text transform="translate(282.30,284.00) rotate(-90)" font-size="11.7" text-anchor="middle" fill="#111" stroke="#111">Spleen/body weight</text>
<text transform="translate(295.60,283.50) rotate(-90)" font-size="11.7" text-anchor="middle" fill="#111" stroke="#111">ratio (mg/g)</text>
<text x="380.00" y="231.90" font-size="16" text-anchor="start" font-weight="bold" font-style="normal" fill="#000" stroke="#000" >D</text>
<text x="492.40" y="237.60" font-size="13" text-anchor="middle" font-weight="normal" font-style="normal" fill="#111" stroke="#111" >Spleen</text>
<rect x="442.50" y="247.00" width="45.20" height="45.30" fill="#fff" stroke="#b8b8b8" stroke-width="0.9" />
<line x1="441.30" y1="251.00" x2="443.10" y2="251.00" stroke="#777" stroke-width="0.6"/>
<line x1="441.30" y1="260.32" x2="443.10" y2="260.32" stroke="#777" stroke-width="0.6"/>
<line x1="441.30" y1="269.65" x2="443.10" y2="269.65" stroke="#777" stroke-width="0.6"/>
<line x1="441.30" y1="278.98" x2="443.10" y2="278.98" stroke="#777" stroke-width="0.6"/>
<line x1="441.30" y1="288.30" x2="443.10" y2="288.30" stroke="#777" stroke-width="0.6"/>
<line x1="446.50" y1="291.70" x2="446.50" y2="293.50" stroke="#777" stroke-width="0.6"/>
<line x1="455.80" y1="291.70" x2="455.80" y2="293.50" stroke="#777" stroke-width="0.6"/>
<line x1="465.10" y1="291.70" x2="465.10" y2="293.50" stroke="#777" stroke-width="0.6"/>
<line x1="474.40" y1="291.70" x2="474.40" y2="293.50" stroke="#777" stroke-width="0.6"/>
<line x1="483.70" y1="291.70" x2="483.70" y2="293.50" stroke="#777" stroke-width="0.6"/>
<ellipse cx="449.5" cy="261.0" rx="9" ry="12" fill="url(#haze)"/>
<ellipse cx="471.5" cy="281.0" rx="8" ry="10" fill="url(#haze)"/>
<ellipse cx="448.5" cy="285.0" rx="3" ry="4" fill="url(#haze)"/>
<circle cx="448.1" cy="276.6" r="0.45" fill="#3545ff" fill-opacity="0.45"/>
<circle cx="448.2" cy="267.5" r="0.45" fill="#3545ff" fill-opacity="0.45"/>
<circle cx="445.7" cy="268.7" r="0.45" fill="#3545ff" fill-opacity="0.45"/>
<circle cx="452.9" cy="275.7" r="0.45" fill="#3545ff" fill-opacity="0.45"/>
<circle cx="452.6" cy="273.7" r="0.45" fill="#3545ff" fill-opacity="0.45"/>
<circle cx="450.4" cy="273.0" r="0.45" fill="#3545ff" fill-opacity="0.45"/>
<circle cx="443.2" cy="280.4" r="0.45" fill="#3545ff" fill-opacity="0.45"/>
<circle cx="450.8" cy="276.5" r="0.45" fill="#3545ff" fill-opacity="0.45"/>
<circle cx="443.1" cy="251.8" r="0.45" fill="#3545ff" fill-opacity="0.45"/>
<circle cx="445.9" cy="265.8" r="0.45" fill="#3545ff" fill-opacity="0.45"/>
<circle cx="450.1" cy="270.5" r="0.45" fill="#3545ff" fill-opacity="0.45"/>
<circle cx="450.8" cy="263.9" r="0.45" fill="#3545ff" fill-opacity="0.45"/>
<circle cx="450.1" cy="275.3" r="0.45" fill="#3545ff" fill-opacity="0.45"/>
<circle cx="446.7" cy="289.9" r="0.45" fill="#3545ff" fill-opacity="0.45"/>
<circle cx="450.9" cy="284.2" r="0.45" fill="#3545ff" fill-opacity="0.45"/>
<circle cx="446.8" cy="262.9" r="0.45" fill="#3545ff" fill-opacity="0.45"/>
<circle cx="447.8" cy="269.8" r="0.45" fill="#3545ff" fill-opacity="0.45"/>
<circle cx="451.2" cy="273.7" r="0.45" fill="#3545ff" fill-opacity="0.45"/>
<circle cx="447.4" cy="260.5" r="0.45" fill="#3545ff" fill-opacity="0.45"/>
<circle cx="447.2" cy="284.4" r="0.45" fill="#3545ff" fill-opacity="0.45"/>
<circle cx="446.2" cy="273.7" r="0.45" fill="#3545ff" fill-opacity="0.45"/>
<circle cx="450.5" cy="254.6" r="0.45" fill="#3545ff" fill-opacity="0.45"/>
<circle cx="449.2" cy="285.4" r="0.45" fill="#3545ff" fill-opacity="0.45"/>
<circle cx="448.6" cy="262.0" r="0.45" fill="#3545ff" fill-opacity="0.45"/>
<circle cx="450.7" cy="270.3" r="0.45" fill="#3545ff" fill-opacity="0.45"/>
<circle cx="443.9" cy="280.1" r="0.45" fill="#3545ff" fill-opacity="0.45"/>
<circle cx="451.3" cy="281.4" r="0.45" fill="#3545ff" fill-opacity="0.45"/>
<circle cx="454.0" cy="275.0" r="0.45" fill="#3545ff" fill-opacity="0.45"/>
<circle cx="449.4" cy="256.7" r="0.45" fill="#3545ff" fill-opacity="0.45"/>
<circle cx="451.2" cy="264.3" r="0.45" fill="#3545ff" fill-opacity="0.45"/>
<circle cx="447.4" cy="257.1" r="0.45" fill="#3545ff" fill-opacity="0.45"/>
<circle cx="445.6" cy="265.2" r="0.45" fill="#3545ff" fill-opacity="0.45"/>
<circle cx="453.5" cy="248.7" r="0.45" fill="#3545ff" fill-opacity="0.45"/>
<circle cx="443.9" cy="273.6" r="0.45" fill="#3545ff" fill-opacity="0.45"/>
<circle cx="454.1" cy="277.4" r="0.45" fill="#3545ff" fill-opacity="0.45"/>
<circle cx="450.3" cy="262.9" r="0.45" fill="#3545ff" fill-opacity="0.45"/>
<circle cx="445.1" cy="281.8" r="0.45" fill="#3545ff" fill-opacity="0.45"/>
<circle cx="452.9" cy="272.7" r="0.45" fill="#3545ff" fill-opacity="0.45"/>
<circle cx="449.9" cy="275.8" r="0.45" fill="#3545ff" fill-opacity="0.45"/>
<circle cx="454.6" cy="277.8" r="0.45" fill="#3545ff" fill-opacity="0.45"/>
<circle cx="450.8" cy="277.0" r="0.45" fill="#3545ff" fill-opacity="0.45"/>
<circle cx="443.5" cy="285.1" r="0.45" fill="#3545ff" fill-opacity="0.45"/>
<circle cx="452.3" cy="276.8" r="0.45" fill="#3545ff" fill-opacity="0.45"/>
<circle cx="451.9" cy="251.1" r="0.45" fill="#3545ff" fill-opacity="0.45"/>
<circle cx="448.4" cy="282.2" r="0.45" fill="#3545ff" fill-opacity="0.45"/>
<circle cx="444.4" cy="288.7" r="0.45" fill="#3545ff" fill-opacity="0.45"/>
<circle cx="450.9" cy="269.3" r="0.45" fill="#3545ff" fill-opacity="0.45"/>
<circle cx="450.1" cy="278.1" r="0.45" fill="#3545ff" fill-opacity="0.45"/>
<circle cx="449.4" cy="283.6" r="0.45" fill="#3545ff" fill-opacity="0.45"/>
<circle cx="446.7" cy="266.4" r="0.45" fill="#3545ff" fill-opacity="0.45"/>
<circle cx="452.6" cy="271.3" r="0.45" fill="#3545ff" fill-opacity="0.45"/>
<circle cx="445.9" cy="281.4" r="0.45" fill="#3545ff" fill-opacity="0.45"/>
<circle cx="454.1" cy="266.1" r="0.45" fill="#3545ff" fill-opacity="0.45"/>
<circle cx="444.2" cy="269.5" r="0.45" fill="#3545ff" fill-opacity="0.45"/>
<circle cx="448.5" cy="267.7" r="0.45" fill="#3545ff" fill-opacity="0.45"/>
<circle cx="453.9" cy="259.7" r="0.45" fill="#3545ff" fill-opacity="0.45"/>
<circle cx="453.4" cy="257.0" r="0.45" fill="#3545ff" fill-opacity="0.45"/>
<circle cx="446.2" cy="277.9" r="0.45" fill="#3545ff" fill-opacity="0.45"/>
<circle cx="453.0" cy="280.4" r="0.45" fill="#3545ff" fill-opacity="0.45"/>
<circle cx="450.2" cy="272.6" r="0.45" fill="#3545ff" fill-opacity="0.45"/>
<circle cx="449.5" cy="277.3" r="0.45" fill="#3545ff" fill-opacity="0.45"/>
<circle cx="448.4" cy="274.1" r="0.45" fill="#3545ff" fill-opacity="0.45"/>
<circle cx="451.0" cy="271.0" r="0.45" fill="#3545ff" fill-opacity="0.45"/>
<circle cx="451.7" cy="277.2" r="0.45" fill="#3545ff" fill-opacity="0.45"/>
<circle cx="456.0" cy="274.6" r="0.45" fill="#3545ff" fill-opacity="0.45"/>
<circle cx="447.5" cy="266.9" r="0.45" fill="#3545ff" fill-opacity="0.45"/>
<circle cx="449.0" cy="281.2" r="0.45" fill="#3545ff" fill-opacity="0.45"/>
<circle cx="447.8" cy="275.2" r="0.45" fill="#3545ff" fill-opacity="0.45"/>
<circle cx="445.1" cy="273.7" r="0.45" fill="#3545ff" fill-opacity="0.45"/>
<circle cx="450.4" cy="273.6" r="0.45" fill="#3545ff" fill-opacity="0.45"/>
<circle cx="447.5" cy="278.2" r="0.45" fill="#3545ff" fill-opacity="0.45"/>
<circle cx="450.0" cy="265.3" r="0.45" fill="#3545ff" fill-opacity="0.45"/>
<circle cx="457.5" cy="274.9" r="0.45" fill="#3545ff" fill-opacity="0.45"/>
<circle cx="447.1" cy="269.9" r="0.45" fill="#3545ff" fill-opacity="0.45"/>
<circle cx="448.2" cy="270.3" r="0.45" fill="#3545ff" fill-opacity="0.45"/>
<circle cx="452.5" cy="258.1" r="0.45" fill="#3545ff" fill-opacity="0.45"/>
<circle cx="448.8" cy="281.5" r="0.45" fill="#3545ff" fill-opacity="0.45"/>
<circle cx="452.0" cy="287.4" r="0.45" fill="#3545ff" fill-opacity="0.45"/>
<circle cx="443.0" cy="267.1" r="0.45" fill="#3545ff" fill-opacity="0.45"/>
<circle cx="447.8" cy="277.9" r="0.45" fill="#3545ff" fill-opacity="0.45"/>
<circle cx="452.8" cy="255.1" r="0.45" fill="#3545ff" fill-opacity="0.45"/>
<circle cx="451.4" cy="254.6" r="0.45" fill="#3545ff" fill-opacity="0.45"/>
<circle cx="449.6" cy="284.1" r="0.45" fill="#3545ff" fill-opacity="0.45"/>
<circle cx="448.5" cy="273.1" r="0.45" fill="#3545ff" fill-opacity="0.45"/>
<circle cx="451.8" cy="272.6" r="0.45" fill="#3545ff" fill-opacity="0.45"/>
<circle cx="448.7" cy="287.9" r="0.45" fill="#3545ff" fill-opacity="0.45"/>
<circle cx="452.7" cy="267.8" r="0.45" fill="#3545ff" fill-opacity="0.45"/>
<circle cx="458.6" cy="258.4" r="0.45" fill="#3545ff" fill-opacity="0.45"/>
<circle cx="452.2" cy="268.1" r="0.45" fill="#3545ff" fill-opacity="0.45"/>
<circle cx="449.5" cy="278.8" r="0.45" fill="#3545ff" fill-opacity="0.45"/>
<circle cx="449.8" cy="278.0" r="0.45" fill="#3545ff" fill-opacity="0.45"/>
<circle cx="443.7" cy="254.4" r="0.45" fill="#3545ff" fill-opacity="0.45"/>
<circle cx="451.2" cy="260.4" r="0.45" fill="#3545ff" fill-opacity="0.45"/>
<circle cx="445.4" cy="254.8" r="0.45" fill="#3545ff" fill-opacity="0.45"/>
<circle cx="453.4" cy="279.2" r="0.45" fill="#3545ff" fill-opacity="0.45"/>
<circle cx="454.2" cy="260.7" r="0.45" fill="#3545ff" fill-opacity="0.45"/>
<circle cx="449.0" cy="258.5" r="0.45" fill="#3545ff" fill-opacity="0.45"/>
<circle cx="451.7" cy="288.5" r="0.45" fill="#3545ff" fill-opacity="0.45"/>
<circle cx="445.9" cy="288.2" r="0.45" fill="#3545ff" fill-opacity="0.45"/>
<circle cx="452.5" cy="269.0" r="0.45" fill="#3545ff" fill-opacity="0.45"/>
<circle cx="448.7" cy="264.4" r="0.45" fill="#3545ff" fill-opacity="0.45"/>
<circle cx="450.4" cy="275.5" r="0.45" fill="#3545ff" fill-opacity="0.45"/>
<circle cx="454.2" cy="259.8" r="0.45" fill="#3545ff" fill-opacity="0.45"/>
<circle cx="453.0" cy="287.4" r="0.45" fill="#3545ff" fill-opacity="0.45"/>
<circle cx="454.1" cy="269.0" r="0.45" fill="#3545ff" fill-opacity="0.45"/>
<circle cx="446.4" cy="282.2" r="0.45" fill="#3545ff" fill-opacity="0.45"/>
<circle cx="449.4" cy="272.4" r="0.45" fill="#3545ff" fill-opacity="0.45"/>
<circle cx="454.0" cy="268.1" r="0.45" fill="#3545ff" fill-opacity="0.45"/>
<circle cx="450.1" cy="264.3" r="0.45" fill="#3545ff" fill-opacity="0.45"/>
<circle cx="449.0" cy="280.2" r="0.45" fill="#3545ff" fill-opacity="0.45"/>
<circle cx="449.3" cy="285.6" r="0.45" fill="#3545ff" fill-opacity="0.45"/>
<circle cx="448.8" cy="282.4" r="0.45" fill="#3545ff" fill-opacity="0.45"/>
<circle cx="454.2" cy="288.7" r="0.45" fill="#3545ff" fill-opacity="0.45"/>
<circle cx="446.6" cy="280.7" r="0.45" fill="#3545ff" fill-opacity="0.45"/>
<circle cx="444.7" cy="270.9" r="0.45" fill="#3545ff" fill-opacity="0.45"/>
<circle cx="448.3" cy="270.7" r="0.45" fill="#3545ff" fill-opacity="0.45"/>
<circle cx="446.9" cy="273.6" r="0.45" fill="#3545ff" fill-opacity="0.45"/>
<circle cx="455.3" cy="271.5" r="0.45" fill="#3545ff" fill-opacity="0.45"/>
<circle cx="450.9" cy="282.0" r="0.45" fill="#3545ff" fill-opacity="0.45"/>
<circle cx="448.3" cy="257.1" r="0.45" fill="#3545ff" fill-opacity="0.45"/>
<circle cx="447.1" cy="282.8" r="0.45" fill="#3545ff" fill-opacity="0.45"/>
<circle cx="443.2" cy="264.4" r="0.45" fill="#3545ff" fill-opacity="0.45"/>
<circle cx="452.5" cy="279.7" r="0.45" fill="#3545ff" fill-opacity="0.45"/>
<circle cx="449.0" cy="279.9" r="0.45" fill="#3545ff" fill-opacity="0.45"/>
<circle cx="449.6" cy="258.0" r="0.45" fill="#3545ff" fill-opacity="0.45"/>
<circle cx="443.5" cy="264.0" r="0.45" fill="#3545ff" fill-opacity="0.45"/>
<circle cx="452.2" cy="264.8" r="0.45" fill="#3545ff" fill-opacity="0.45"/>
<circle cx="445.8" cy="262.5" r="0.45" fill="#3545ff" fill-opacity="0.45"/>
<circle cx="443.6" cy="269.7" r="0.45" fill="#3545ff" fill-opacity="0.45"/>
<circle cx="469.4" cy="274.6" r="0.45" fill="#3545ff" fill-opacity="0.45"/>
<circle cx="467.3" cy="274.3" r="0.45" fill="#3545ff" fill-opacity="0.45"/>
<circle cx="470.3" cy="251.6" r="0.45" fill="#3545ff" fill-opacity="0.45"/>
<circle cx="472.8" cy="268.2" r="0.45" fill="#3545ff" fill-opacity="0.45"/>
<circle cx="467.5" cy="262.2" r="0.45" fill="#3545ff" fill-opacity="0.45"/>
<circle cx="472.0" cy="266.4" r="0.45" fill="#3545ff" fill-opacity="0.45"/>
<circle cx="472.9" cy="278.5" r="0.45" fill="#3545ff" fill-opacity="0.45"/>
<circle cx="472.7" cy="274.3" r="0.45" fill="#3545ff" fill-opacity="0.45"/>
<circle cx="473.9" cy="277.6" r="0.45" fill="#3545ff" fill-opacity="0.45"/>
<circle cx="472.3" cy="250.2" r="0.45" fill="#3545ff" fill-opacity="0.45"/>
<circle cx="473.1" cy="284.1" r="0.45" fill="#3545ff" fill-opacity="0.45"/>
<circle cx="471.0" cy="266.3" r="0.45" fill="#3545ff" fill-opacity="0.45"/>
<circle cx="475.0" cy="253.4" r="0.45" fill="#3545ff" fill-opacity="0.45"/>
<circle cx="469.8" cy="277.9" r="0.45" fill="#3545ff" fill-opacity="0.45"/>
<circle cx="474.9" cy="269.8" r="0.45" fill="#3545ff" fill-opacity="0.45"/>
<circle cx="472.5" cy="280.0" r="0.45" fill="#3545ff" fill-opacity="0.45"/>
<circle cx="469.9" cy="270.1" r="0.45" fill="#3545ff" fill-opacity="0.45"/>
<circle cx="472.0" cy="279.3" r="0.45" fill="#3545ff" fill-opacity="0.45"/>
<circle cx="471.4" cy="269.0" r="0.45" fill="#3545ff" fill-opacity="0.45"/>
<circle cx="469.7" cy="267.4" r="0.45" fill="#3545ff" fill-opacity="0.45"/>
<circle cx="473.1" cy="272.0" r="0.45" fill="#3545ff" fill-opacity="0.45"/>
<circle cx="470.0" cy="262.6" r="0.45" fill="#3545ff" fill-opacity="0.45"/>
<circle cx="476.3" cy="282.4" r="0.45" fill="#3545ff" fill-opacity="0.45"/>
<circle cx="472.6" cy="275.8" r="0.45" fill="#3545ff" fill-opacity="0.45"/>
<circle cx="474.5" cy="275.3" r="0.45" fill="#3545ff" fill-opacity="0.45"/>
<circle cx="471.4" cy="276.2" r="0.45" fill="#3545ff" fill-opacity="0.45"/>
<circle cx="468.0" cy="281.3" r="0.45" fill="#3545ff" fill-opacity="0.45"/>
<circle cx="472.1" cy="264.0" r="0.45" fill="#3545ff" fill-opacity="0.45"/>
<circle cx="473.9" cy="289.1" r="0.45" fill="#3545ff" fill-opacity="0.45"/>
<circle cx="469.0" cy="264.3" r="0.45" fill="#3545ff" fill-opacity="0.45"/>
<circle cx="472.0" cy="272.8" r="0.45" fill="#3545ff" fill-opacity="0.45"/>
<circle cx="470.8" cy="261.3" r="0.45" fill="#3545ff" fill-opacity="0.45"/>
<circle cx="475.3" cy="281.4" r="0.45" fill="#3545ff" fill-opacity="0.45"/>
<circle cx="469.4" cy="257.5" r="0.45" fill="#3545ff" fill-opacity="0.45"/>
<circle cx="474.6" cy="280.9" r="0.45" fill="#3545ff" fill-opacity="0.45"/>
<circle cx="474.8" cy="279.1" r="0.45" fill="#3545ff" fill-opacity="0.45"/>
<circle cx="469.9" cy="273.6" r="0.45" fill="#3545ff" fill-opacity="0.45"/>
<circle cx="467.6" cy="263.5" r="0.45" fill="#3545ff" fill-opacity="0.45"/>
<circle cx="471.4" cy="276.2" r="0.45" fill="#3545ff" fill-opacity="0.45"/>
<circle cx="470.2" cy="269.8" r="0.45" fill="#3545ff" fill-opacity="0.45"/>
<circle cx="472.3" cy="274.8" r="0.45" fill="#3545ff" fill-opacity="0.45"/>
<circle cx="472.6" cy="273.1" r="0.45" fill="#3545ff" fill-opacity="0.45"/>
<circle cx="470.9" cy="278.9" r="0.45" fill="#3545ff" fill-opacity="0.45"/>
<circle cx="471.6" cy="262.7" r="0.45" fill="#3545ff" fill-opacity="0.45"/>
<circle cx="470.4" cy="271.0" r="0.45" fill="#3545ff" fill-opacity="0.45"/>
<circle cx="471.3" cy="272.6" r="0.45" fill="#3545ff" fill-opacity="0.45"/>
<circle cx="471.5" cy="272.8" r="0.45" fill="#3545ff" fill-opacity="0.45"/>
<circle cx="471.3" cy="258.4" r="0.45" fill="#3545ff" fill-opacity="0.45"/>
<circle cx="472.3" cy="281.5" r="0.45" fill="#3545ff" fill-opacity="0.45"/>
<circle cx="472.3" cy="269.1" r="0.45" fill="#3545ff" fill-opacity="0.45"/>
<circle cx="472.3" cy="261.3" r="0.45" fill="#3545ff" fill-opacity="0.45"/>
<circle cx="468.1" cy="271.6" r="0.45" fill="#3545ff" fill-opacity="0.45"/>
<circle cx="469.8" cy="278.4" r="0.45" fill="#3545ff" fill-opacity="0.45"/>
<circle cx="469.6" cy="286.8" r="0.45" fill="#3545ff" fill-opacity="0.45"/>
<circle cx="470.8" cy="257.3" r="0.45" fill="#3545ff" fill-opacity="0.45"/>
<circle cx="470.1" cy="276.2" r="0.45" fill="#3545ff" fill-opacity="0.45"/>
<circle cx="472.4" cy="272.8" r="0.45" fill="#3545ff" fill-opacity="0.45"/>
<circle cx="474.2" cy="278.1" r="0.45" fill="#3545ff" fill-opacity="0.45"/>
<circle cx="471.5" cy="277.0" r="0.45" fill="#3545ff" fill-opacity="0.45"/>
<circle cx="474.5" cy="280.7" r="0.45" fill="#3545ff" fill-opacity="0.45"/>
<circle cx="473.3" cy="260.2" r="0.45" fill="#3545ff" fill-opacity="0.45"/>
<circle cx="471.2" cy="278.3" r="0.45" fill="#3545ff" fill-opacity="0.45"/>
<circle cx="471.0" cy="281.7" r="0.45" fill="#3545ff" fill-opacity="0.45"/>
<circle cx="472.6" cy="280.1" r="0.45" fill="#3545ff" fill-opacity="0.45"/>
<circle cx="473.7" cy="268.8" r="0.45" fill="#3545ff" fill-opacity="0.45"/>
<circle cx="470.9" cy="279.7" r="0.45" fill="#3545ff" fill-opacity="0.45"/>
<circle cx="473.3" cy="271.1" r="0.45" fill="#3545ff" fill-opacity="0.45"/>
<circle cx="469.4" cy="272.9" r="0.45" fill="#3545ff" fill-opacity="0.45"/>
<circle cx="472.1" cy="282.3" r="0.45" fill="#3545ff" fill-opacity="0.45"/>
<circle cx="472.9" cy="271.2" r="0.45" fill="#3545ff" fill-opacity="0.45"/>
<circle cx="473.0" cy="276.4" r="0.45" fill="#3545ff" fill-opacity="0.45"/>
<circle cx="471.9" cy="271.6" r="0.45" fill="#3545ff" fill-opacity="0.45"/>
<circle cx="471.1" cy="277.9" r="0.45" fill="#3545ff" fill-opacity="0.45"/>
<circle cx="469.6" cy="264.7" r="0.45" fill="#3545ff" fill-opacity="0.45"/>
<circle cx="471.5" cy="256.4" r="0.45" fill="#3545ff" fill-opacity="0.45"/>
<circle cx="470.7" cy="250.9" r="0.45" fill="#3545ff" fill-opacity="0.45"/>
<circle cx="470.3" cy="276.7" r="0.45" fill="#3545ff" fill-opacity="0.45"/>
<circle cx="472.5" cy="270.5" r="0.45" fill="#3545ff" fill-opacity="0.45"/>
<circle cx="471.1" cy="256.8" r="0.45" fill="#3545ff" fill-opacity="0.45"/>
<circle cx="474.8" cy="276.2" r="0.45" fill="#3545ff" fill-opacity="0.45"/>
<circle cx="473.5" cy="262.2" r="0.45" fill="#3545ff" fill-opacity="0.45"/>
<circle cx="471.2" cy="252.8" r="0.45" fill="#3545ff" fill-opacity="0.45"/>
<circle cx="472.9" cy="280.4" r="0.45" fill="#3545ff" fill-opacity="0.45"/>
<circle cx="468.1" cy="270.5" r="0.45" fill="#3545ff" fill-opacity="0.45"/>
<circle cx="472.6" cy="253.4" r="0.45" fill="#3545ff" fill-opacity="0.45"/>
<circle cx="468.2" cy="260.3" r="0.45" fill="#3545ff" fill-opacity="0.45"/>
<circle cx="470.4" cy="257.0" r="0.45" fill="#3545ff" fill-opacity="0.45"/>
<circle cx="471.6" cy="273.5" r="0.45" fill="#3545ff" fill-opacity="0.45"/>
<circle cx="472.6" cy="278.0" r="0.45" fill="#3545ff" fill-opacity="0.45"/>
<circle cx="474.2" cy="282.6" r="0.45" fill="#3545ff" fill-opacity="0.45"/>
<circle cx="469.1" cy="265.9" r="0.45" fill="#3545ff" fill-opacity="0.45"/>
<circle cx="469.6" cy="260.2" r="0.45" fill="#3545ff" fill-opacity="0.45"/>
<circle cx="471.4" cy="271.1" r="0.45" fill="#3545ff" fill-opacity="0.45"/>
<circle cx="472.4" cy="255.1" r="0.45" fill="#3545ff" fill-opacity="0.45"/>
<circle cx="469.3" cy="270.8" r="0.45" fill="#3545ff" fill-opacity="0.45"/>
<circle cx="471.1" cy="267.9" r="0.45" fill="#3545ff" fill-opacity="0.45"/>
<circle cx="471.4" cy="263.4" r="0.45" fill="#3545ff" fill-opacity="0.45"/>
<circle cx="472.8" cy="274.5" r="0.45" fill="#3545ff" fill-opacity="0.45"/>
<circle cx="471.3" cy="264.3" r="0.45" fill="#3545ff" fill-opacity="0.45"/>
<circle cx="469.7" cy="271.4" r="0.45" fill="#3545ff" fill-opacity="0.45"/>
<circle cx="468.8" cy="273.0" r="0.45" fill="#3545ff" fill-opacity="0.45"/>
<circle cx="471.8" cy="257.2" r="0.45" fill="#3545ff" fill-opacity="0.45"/>
<circle cx="471.0" cy="267.9" r="0.45" fill="#3545ff" fill-opacity="0.45"/>
<circle cx="472.3" cy="277.1" r="0.45" fill="#3545ff" fill-opacity="0.45"/>
<circle cx="471.4" cy="262.5" r="0.45" fill="#3545ff" fill-opacity="0.45"/>
<circle cx="471.2" cy="270.3" r="0.45" fill="#3545ff" fill-opacity="0.45"/>
<circle cx="472.8" cy="273.9" r="0.45" fill="#3545ff" fill-opacity="0.45"/>
<circle cx="470.2" cy="257.5" r="0.45" fill="#3545ff" fill-opacity="0.45"/>
<circle cx="470.8" cy="263.6" r="0.45" fill="#3545ff" fill-opacity="0.45"/>
<circle cx="469.5" cy="269.8" r="0.45" fill="#3545ff" fill-opacity="0.45"/>
<circle cx="470.6" cy="272.1" r="0.45" fill="#3545ff" fill-opacity="0.45"/>
<circle cx="472.4" cy="266.9" r="0.45" fill="#3545ff" fill-opacity="0.45"/>
<circle cx="475.7" cy="267.8" r="0.45" fill="#3545ff" fill-opacity="0.45"/>
<circle cx="473.5" cy="272.2" r="0.45" fill="#3545ff" fill-opacity="0.45"/>
<circle cx="470.1" cy="273.5" r="0.45" fill="#3545ff" fill-opacity="0.45"/>
<circle cx="472.1" cy="283.8" r="0.45" fill="#3545ff" fill-opacity="0.45"/>
<circle cx="472.9" cy="280.5" r="0.45" fill="#3545ff" fill-opacity="0.45"/>
<circle cx="472.4" cy="269.4" r="0.45" fill="#3545ff" fill-opacity="0.45"/>
<circle cx="472.4" cy="260.2" r="0.45" fill="#3545ff" fill-opacity="0.45"/>
<circle cx="473.6" cy="260.8" r="0.45" fill="#3545ff" fill-opacity="0.45"/>
<circle cx="471.1" cy="271.2" r="0.45" fill="#3545ff" fill-opacity="0.45"/>
<circle cx="473.6" cy="271.3" r="0.45" fill="#3545ff" fill-opacity="0.45"/>
<circle cx="470.0" cy="273.6" r="0.45" fill="#3545ff" fill-opacity="0.45"/>
<circle cx="472.5" cy="278.1" r="0.45" fill="#3545ff" fill-opacity="0.45"/>
<circle cx="470.1" cy="288.5" r="0.45" fill="#3545ff" fill-opacity="0.45"/>
<circle cx="474.5" cy="271.2" r="0.45" fill="#3545ff" fill-opacity="0.45"/>
<circle cx="472.0" cy="266.7" r="0.45" fill="#3545ff" fill-opacity="0.45"/>
<circle cx="474.0" cy="264.0" r="0.45" fill="#3545ff" fill-opacity="0.45"/>
<circle cx="472.7" cy="266.2" r="0.45" fill="#3545ff" fill-opacity="0.45"/>
<circle cx="470.3" cy="278.2" r="0.45" fill="#3545ff" fill-opacity="0.45"/>
<circle cx="473.9" cy="270.9" r="0.45" fill="#3545ff" fill-opacity="0.45"/>
<circle cx="470.3" cy="279.1" r="0.45" fill="#3545ff" fill-opacity="0.45"/>
<circle cx="471.4" cy="274.1" r="0.45" fill="#3545ff" fill-opacity="0.45"/>
<circle cx="474.2" cy="282.3" r="0.45" fill="#3545ff" fill-opacity="0.45"/>
<circle cx="471.5" cy="278.9" r="0.45" fill="#3545ff" fill-opacity="0.45"/>
<circle cx="470.3" cy="270.6" r="0.45" fill="#3545ff" fill-opacity="0.45"/>
<circle cx="468.4" cy="288.9" r="0.45" fill="#3545ff" fill-opacity="0.45"/>
<circle cx="474.0" cy="258.8" r="0.45" fill="#3545ff" fill-opacity="0.45"/>
<circle cx="468.8" cy="254.8" r="0.45" fill="#3545ff" fill-opacity="0.45"/>
<circle cx="473.6" cy="266.4" r="0.45" fill="#3545ff" fill-opacity="0.45"/>
<circle cx="471.4" cy="267.9" r="0.45" fill="#3545ff" fill-opacity="0.45"/>
<circle cx="471.3" cy="260.1" r="0.45" fill="#3545ff" fill-opacity="0.45"/>
<circle cx="471.5" cy="256.6" r="0.45" fill="#3545ff" fill-opacity="0.45"/>
<circle cx="471.4" cy="274.1" r="0.45" fill="#3545ff" fill-opacity="0.45"/>
<circle cx="472.3" cy="268.7" r="0.45" fill="#3545ff" fill-opacity="0.45"/>
<circle cx="469.9" cy="272.6" r="0.45" fill="#3545ff" fill-opacity="0.45"/>
<circle cx="470.6" cy="286.7" r="0.45" fill="#3545ff" fill-opacity="0.45"/>
<circle cx="472.9" cy="269.8" r="0.45" fill="#3545ff" fill-opacity="0.45"/>
<circle cx="470.7" cy="264.0" r="0.45" fill="#3545ff" fill-opacity="0.45"/>
<circle cx="469.8" cy="267.5" r="0.45" fill="#3545ff" fill-opacity="0.45"/>
<circle cx="465.7" cy="278.2" r="0.45" fill="#3545ff" fill-opacity="0.3"/>
<circle cx="454.7" cy="272.2" r="0.45" fill="#3545ff" fill-opacity="0.3"/>
<circle cx="456.8" cy="274.0" r="0.45" fill="#3545ff" fill-opacity="0.3"/>
<circle cx="464.2" cy="276.9" r="0.45" fill="#3545ff" fill-opacity="0.3"/>
<circle cx="459.9" cy="276.4" r="0.45" fill="#3545ff" fill-opacity="0.3"/>
<circle cx="463.1" cy="281.3" r="0.45" fill="#3545ff" fill-opacity="0.3"/>
<circle cx="462.5" cy="259.6" r="0.45" fill="#3545ff" fill-opacity="0.3"/>
<circle cx="451.0" cy="279.5" r="0.45" fill="#3545ff" fill-opacity="0.3"/>
<circle cx="455.4" cy="279.6" r="0.45" fill="#3545ff" fill-opacity="0.3"/>
<circle cx="470.7" cy="275.7" r="0.45" fill="#3545ff" fill-opacity="0.3"/>
<circle cx="468.1" cy="270.7" r="0.45" fill="#3545ff" fill-opacity="0.3"/>
<circle cx="447.0" cy="271.6" r="0.45" fill="#3545ff" fill-opacity="0.3"/>
<circle cx="467.5" cy="265.6" r="0.45" fill="#3545ff" fill-opacity="0.3"/>
<circle cx="461.4" cy="281.0" r="0.45" fill="#3545ff" fill-opacity="0.3"/>
<circle cx="452.8" cy="279.7" r="0.45" fill="#3545ff" fill-opacity="0.3"/>
<circle cx="483.0" cy="265.3" r="0.45" fill="#3545ff" fill-opacity="0.3"/>
<circle cx="464.1" cy="270.2" r="0.45" fill="#3545ff" fill-opacity="0.3"/>
<circle cx="479.4" cy="275.8" r="0.45" fill="#3545ff" fill-opacity="0.3"/>
<circle cx="472.4" cy="263.7" r="0.45" fill="#3545ff" fill-opacity="0.3"/>
<circle cx="462.3" cy="271.9" r="0.45" fill="#3545ff" fill-opacity="0.3"/>
<circle cx="472.4" cy="251.0" r="0.45" fill="#3545ff" fill-opacity="0.3"/>
<circle cx="470.7" cy="270.4" r="0.45" fill="#3545ff" fill-opacity="0.3"/>
<circle cx="467.4" cy="276.4" r="0.45" fill="#3545ff" fill-opacity="0.3"/>
<circle cx="446.0" cy="269.5" r="0.45" fill="#3545ff" fill-opacity="0.3"/>
<circle cx="478.9" cy="265.1" r="0.45" fill="#3545ff" fill-opacity="0.3"/>
<circle cx="451.2" cy="255.7" r="0.45" fill="#3545ff" fill-opacity="0.3"/>
<circle cx="449.1" cy="276.0" r="0.45" fill="#3545ff" fill-opacity="0.3"/>
<circle cx="481.1" cy="277.2" r="0.45" fill="#3545ff" fill-opacity="0.3"/>
<circle cx="456.8" cy="263.9" r="0.45" fill="#3545ff" fill-opacity="0.3"/>
<circle cx="468.3" cy="278.6" r="0.45" fill="#3545ff" fill-opacity="0.3"/>
<circle cx="451.3" cy="258.0" r="0.45" fill="#3545ff" fill-opacity="0.3"/>
<circle cx="465.7" cy="275.0" r="0.45" fill="#3545ff" fill-opacity="0.3"/>
<circle cx="448.1" cy="269.6" r="0.45" fill="#3545ff" fill-opacity="0.3"/>
<circle cx="456.5" cy="277.5" r="0.45" fill="#3545ff" fill-opacity="0.3"/>
<circle cx="461.2" cy="271.0" r="0.45" fill="#3545ff" fill-opacity="0.3"/>
<circle cx="458.6" cy="284.6" r="0.45" fill="#3545ff" fill-opacity="0.3"/>
<circle cx="477.8" cy="267.6" r="0.45" fill="#3545ff" fill-opacity="0.3"/>
<circle cx="471.8" cy="262.9" r="0.45" fill="#3545ff" fill-opacity="0.3"/>
<circle cx="463.3" cy="281.0" r="0.45" fill="#3545ff" fill-opacity="0.3"/>
<circle cx="479.2" cy="267.4" r="0.45" fill="#3545ff" fill-opacity="0.3"/>
<circle cx="461.7" cy="274.4" r="0.45" fill="#3545ff" fill-opacity="0.3"/>
<circle cx="446.0" cy="272.2" r="0.45" fill="#3545ff" fill-opacity="0.3"/>
<circle cx="455.1" cy="276.5" r="0.45" fill="#3545ff" fill-opacity="0.3"/>
<circle cx="450.1" cy="248.3" r="0.45" fill="#3545ff" fill-opacity="0.3"/>
<circle cx="462.9" cy="275.1" r="0.45" fill="#3545ff" fill-opacity="0.3"/>
<circle cx="456.5" cy="282.7" r="0.45" fill="#3545ff" fill-opacity="0.3"/>
<circle cx="459.5" cy="264.7" r="0.45" fill="#3545ff" fill-opacity="0.3"/>
<circle cx="467.8" cy="253.2" r="0.45" fill="#3545ff" fill-opacity="0.3"/>
<circle cx="455.0" cy="271.8" r="0.45" fill="#3545ff" fill-opacity="0.3"/>
<circle cx="471.8" cy="270.0" r="0.45" fill="#3545ff" fill-opacity="0.3"/>
<circle cx="465.9" cy="264.1" r="0.45" fill="#3545ff" fill-opacity="0.3"/>
<circle cx="455.4" cy="272.2" r="0.45" fill="#3545ff" fill-opacity="0.3"/>
<circle cx="464.4" cy="284.3" r="0.45" fill="#3545ff" fill-opacity="0.3"/>
<circle cx="469.2" cy="281.5" r="0.45" fill="#3545ff" fill-opacity="0.3"/>
<circle cx="464.8" cy="275.0" r="0.45" fill="#3545ff" fill-opacity="0.3"/>
<circle cx="472.7" cy="276.4" r="0.45" fill="#3545ff" fill-opacity="0.3"/>
<circle cx="480.8" cy="257.1" r="0.45" fill="#3545ff" fill-opacity="0.3"/>
<circle cx="471.4" cy="267.5" r="0.45" fill="#3545ff" fill-opacity="0.3"/>
<circle cx="462.4" cy="268.9" r="0.45" fill="#3545ff" fill-opacity="0.3"/>
<circle cx="457.0" cy="261.9" r="0.45" fill="#3545ff" fill-opacity="0.3"/>
<circle cx="455.6" cy="279.7" r="0.45" fill="#3545ff" fill-opacity="0.3"/>
<circle cx="462.9" cy="272.8" r="0.45" fill="#3545ff" fill-opacity="0.3"/>
<circle cx="460.6" cy="283.0" r="0.45" fill="#3545ff" fill-opacity="0.3"/>
<circle cx="467.9" cy="270.3" r="0.45" fill="#3545ff" fill-opacity="0.3"/>
<circle cx="469.8" cy="270.2" r="0.45" fill="#3545ff" fill-opacity="0.3"/>
<circle cx="449.8" cy="289.5" r="0.45" fill="#3545ff" fill-opacity="0.3"/>
<circle cx="467.6" cy="260.5" r="0.45" fill="#3545ff" fill-opacity="0.3"/>
<circle cx="474.4" cy="276.1" r="0.45" fill="#3545ff" fill-opacity="0.3"/>
<circle cx="445.3" cy="291.3" r="0.45" fill="#3545ff" fill-opacity="0.3"/>
<circle cx="466.2" cy="282.7" r="0.45" fill="#3545ff" fill-opacity="0.3"/>
<circle cx="464.7" cy="270.2" r="0.45" fill="#3545ff" fill-opacity="0.3"/>
<circle cx="445.5" cy="283.7" r="0.45" fill="#3545ff" fill-opacity="0.3"/>
<circle cx="462.8" cy="268.6" r="0.45" fill="#3545ff" fill-opacity="0.3"/>
<circle cx="466.4" cy="272.9" r="0.45" fill="#3545ff" fill-opacity="0.3"/>
<circle cx="469.9" cy="267.5" r="0.45" fill="#3545ff" fill-opacity="0.3"/>
<circle cx="457.8" cy="280.1" r="0.45" fill="#3545ff" fill-opacity="0.3"/>
<circle cx="477.2" cy="267.6" r="0.45" fill="#3545ff" fill-opacity="0.3"/>
<circle cx="461.2" cy="291.0" r="0.45" fill="#3545ff" fill-opacity="0.3"/>
<circle cx="458.9" cy="280.8" r="0.45" fill="#3545ff" fill-opacity="0.3"/>
<circle cx="481.0" cy="272.5" r="0.45" fill="#3545ff" fill-opacity="0.3"/>
<circle cx="476.0" cy="263.5" r="0.45" fill="#3545ff" fill-opacity="0.3"/>
<circle cx="464.8" cy="271.1" r="0.45" fill="#3545ff" fill-opacity="0.3"/>
<circle cx="463.8" cy="285.6" r="0.45" fill="#3545ff" fill-opacity="0.3"/>
<circle cx="456.2" cy="278.0" r="0.45" fill="#3545ff" fill-opacity="0.3"/>
<circle cx="450.9" cy="278.0" r="0.45" fill="#3545ff" fill-opacity="0.3"/>
<circle cx="468.8" cy="268.7" r="0.45" fill="#3545ff" fill-opacity="0.3"/>
<circle cx="468.3" cy="253.4" r="0.45" fill="#3545ff" fill-opacity="0.3"/>
<circle cx="470.9" cy="253.5" r="0.45" fill="#3545ff" fill-opacity="0.3"/>
<circle cx="454.8" cy="265.3" r="0.45" fill="#3545ff" fill-opacity="0.3"/>
<circle cx="458.1" cy="282.3" r="0.45" fill="#3545ff" fill-opacity="0.3"/>
<circle cx="463.4" cy="267.2" r="0.45" fill="#3545ff" fill-opacity="0.3"/>
<circle cx="468.5" cy="291.0" r="0.45" fill="#3545ff" fill-opacity="0.3"/>
<circle cx="462.6" cy="276.4" r="0.45" fill="#3545ff" fill-opacity="0.3"/>
<circle cx="476.1" cy="275.2" r="0.45" fill="#3545ff" fill-opacity="0.3"/>
<circle cx="486.8" cy="248.2" r="0.45" fill="#3545ff" fill-opacity="0.3"/>
<circle cx="462.1" cy="277.0" r="0.45" fill="#3545ff" fill-opacity="0.3"/>
<circle cx="473.1" cy="280.0" r="0.45" fill="#3545ff" fill-opacity="0.3"/>
<circle cx="459.5" cy="259.4" r="0.45" fill="#3545ff" fill-opacity="0.3"/>
<circle cx="463.6" cy="284.4" r="0.45" fill="#3545ff" fill-opacity="0.3"/>
<circle cx="450.5" cy="259.7" r="0.45" fill="#3545ff" fill-opacity="0.3"/>
<circle cx="462.2" cy="248.8" r="0.45" fill="#3545ff" fill-opacity="0.3"/>
<circle cx="459.6" cy="266.8" r="0.45" fill="#3545ff" fill-opacity="0.3"/>
<circle cx="467.5" cy="263.6" r="0.45" fill="#3545ff" fill-opacity="0.3"/>
<circle cx="452.8" cy="267.3" r="0.45" fill="#3545ff" fill-opacity="0.3"/>
<circle cx="462.0" cy="264.0" r="0.45" fill="#3545ff" fill-opacity="0.3"/>
<circle cx="462.6" cy="281.0" r="0.45" fill="#3545ff" fill-opacity="0.3"/>
<ellipse cx="448.5" cy="260.0" rx="6.2" ry="9.5" fill="url(#blobB)"/>
<ellipse cx="471.5" cy="286.2" rx="6.0" ry="3.6" fill="url(#blob)"/>
<rect x="457.40" y="270.70" width="29.00" height="20.50" fill="none" stroke="#222" stroke-width="1.1" />
<text x="486.50" y="257.00" font-size="6.6" text-anchor="end" font-weight="normal" font-style="normal" fill="#222" stroke="#222" >48.1</text>
<rect x="509.40" y="247.00" width="45.90" height="45.30" fill="#fff" stroke="#b8b8b8" stroke-width="0.9" />
<line x1="508.20" y1="251.00" x2="510.00" y2="251.00" stroke="#777" stroke-width="0.6"/>
<line x1="508.20" y1="260.32" x2="510.00" y2="260.32" stroke="#777" stroke-width="0.6"/>
<line x1="508.20" y1="269.65" x2="510.00" y2="269.65" stroke="#777" stroke-width="0.6"/>
<line x1="508.20" y1="278.98" x2="510.00" y2="278.98" stroke="#777" stroke-width="0.6"/>
<line x1="508.20" y1="288.30" x2="510.00" y2="288.30" stroke="#777" stroke-width="0.6"/>
<line x1="513.40" y1="291.70" x2="513.40" y2="293.50" stroke="#777" stroke-width="0.6"/>
<line x1="522.88" y1="291.70" x2="522.88" y2="293.50" stroke="#777" stroke-width="0.6"/>
<line x1="532.35" y1="291.70" x2="532.35" y2="293.50" stroke="#777" stroke-width="0.6"/>
<line x1="541.82" y1="291.70" x2="541.82" y2="293.50" stroke="#777" stroke-width="0.6"/>
<line x1="551.30" y1="291.70" x2="551.30" y2="293.50" stroke="#777" stroke-width="0.6"/>
<ellipse cx="516.9" cy="278.0" rx="7.5" ry="12" fill="url(#haze)"/>
<ellipse cx="526.4" cy="272.0" rx="12" ry="8" fill="url(#haze)" fill-opacity="0.6" transform="rotate(-40 526.4 272.0)"/>
<circle cx="519.3" cy="287.2" r="0.45" fill="#3545ff" fill-opacity="0.45"/>
<circle cx="514.2" cy="274.5" r="0.45" fill="#3545ff" fill-opacity="0.45"/>
<circle cx="514.3" cy="276.8" r="0.45" fill="#3545ff" fill-opacity="0.45"/>
<circle cx="517.6" cy="268.8" r="0.45" fill="#3545ff" fill-opacity="0.45"/>
<circle cx="517.4" cy="276.8" r="0.45" fill="#3545ff" fill-opacity="0.45"/>
<circle cx="511.5" cy="278.8" r="0.45" fill="#3545ff" fill-opacity="0.45"/>
<circle cx="519.3" cy="265.8" r="0.45" fill="#3545ff" fill-opacity="0.45"/>
<circle cx="518.3" cy="278.3" r="0.45" fill="#3545ff" fill-opacity="0.45"/>
<circle cx="517.4" cy="279.6" r="0.45" fill="#3545ff" fill-opacity="0.45"/>
<circle cx="519.6" cy="275.7" r="0.45" fill="#3545ff" fill-opacity="0.45"/>
<circle cx="518.5" cy="274.5" r="0.45" fill="#3545ff" fill-opacity="0.45"/>
<circle cx="518.1" cy="272.1" r="0.45" fill="#3545ff" fill-opacity="0.45"/>
<circle cx="515.9" cy="287.4" r="0.45" fill="#3545ff" fill-opacity="0.45"/>
<circle cx="517.4" cy="276.1" r="0.45" fill="#3545ff" fill-opacity="0.45"/>
<circle cx="513.2" cy="272.3" r="0.45" fill="#3545ff" fill-opacity="0.45"/>
<circle cx="516.7" cy="282.6" r="0.45" fill="#3545ff" fill-opacity="0.45"/>
<circle cx="517.3" cy="280.1" r="0.45" fill="#3545ff" fill-opacity="0.45"/>
<circle cx="516.1" cy="285.1" r="0.45" fill="#3545ff" fill-opacity="0.45"/>
<circle cx="515.2" cy="273.7" r="0.45" fill="#3545ff" fill-opacity="0.45"/>
<circle cx="518.5" cy="277.4" r="0.45" fill="#3545ff" fill-opacity="0.45"/>
<circle cx="515.5" cy="273.5" r="0.45" fill="#3545ff" fill-opacity="0.45"/>
<circle cx="515.5" cy="280.7" r="0.45" fill="#3545ff" fill-opacity="0.45"/>
<circle cx="517.1" cy="269.7" r="0.45" fill="#3545ff" fill-opacity="0.45"/>
<circle cx="517.3" cy="278.1" r="0.45" fill="#3545ff" fill-opacity="0.45"/>
<circle cx="513.6" cy="281.6" r="0.45" fill="#3545ff" fill-opacity="0.45"/>
<circle cx="515.5" cy="275.0" r="0.45" fill="#3545ff" fill-opacity="0.45"/>
<circle cx="518.3" cy="284.9" r="0.45" fill="#3545ff" fill-opacity="0.45"/>
<circle cx="514.4" cy="279.6" r="0.45" fill="#3545ff" fill-opacity="0.45"/>
<circle cx="513.9" cy="290.9" r="0.45" fill="#3545ff" fill-opacity="0.45"/>
<circle cx="514.9" cy="284.2" r="0.45" fill="#3545ff" fill-opacity="0.45"/>
<circle cx="514.5" cy="281.9" r="0.45" fill="#3545ff" fill-opacity="0.45"/>
<circle cx="522.0" cy="261.8" r="0.45" fill="#3545ff" fill-opacity="0.45"/>
<circle cx="515.1" cy="280.0" r="0.45" fill="#3545ff" fill-opacity="0.45"/>
<circle cx="516.0" cy="273.0" r="0.45" fill="#3545ff" fill-opacity="0.45"/>
<circle cx="521.8" cy="277.5" r="0.45" fill="#3545ff" fill-opacity="0.45"/>
<circle cx="511.9" cy="282.1" r="0.45" fill="#3545ff" fill-opacity="0.45"/>
<circle cx="511.7" cy="283.9" r="0.45" fill="#3545ff" fill-opacity="0.45"/>
<circle cx="514.7" cy="277.9" r="0.45" fill="#3545ff" fill-opacity="0.45"/>
<circle cx="519.5" cy="277.7" r="0.45" fill="#3545ff" fill-opacity="0.45"/>
<circle cx="512.6" cy="266.8" r="0.45" fill="#3545ff" fill-opacity="0.45"/>
<circle cx="519.3" cy="281.4" r="0.45" fill="#3545ff" fill-opacity="0.45"/>
<circle cx="514.1" cy="282.2" r="0.45" fill="#3545ff" fill-opacity="0.45"/>
<circle cx="517.5" cy="280.9" r="0.45" fill="#3545ff" fill-opacity="0.45"/>
<circle cx="510.3" cy="275.2" r="0.45" fill="#3545ff" fill-opacity="0.45"/>
<circle cx="518.5" cy="281.4" r="0.45" fill="#3545ff" fill-opacity="0.45"/>
<circle cx="518.5" cy="262.3" r="0.45" fill="#3545ff" fill-opacity="0.45"/>
<circle cx="516.6" cy="280.0" r="0.45" fill="#3545ff" fill-opacity="0.45"/>
<circle cx="522.8" cy="271.3" r="0.45" fill="#3545ff" fill-opacity="0.45"/>
<circle cx="515.3" cy="277.2" r="0.45" fill="#3545ff" fill-opacity="0.45"/>
<circle cx="518.5" cy="274.3" r="0.45" fill="#3545ff" fill-opacity="0.45"/>
<circle cx="519.2" cy="272.3" r="0.45" fill="#3545ff" fill-opacity="0.45"/>
<circle cx="516.9" cy="273.8" r="0.45" fill="#3545ff" fill-opacity="0.45"/>
<circle cx="516.6" cy="272.9" r="0.45" fill="#3545ff" fill-opacity="0.45"/>
<circle cx="512.0" cy="283.6" r="0.45" fill="#3545ff" fill-opacity="0.45"/>
<circle cx="517.0" cy="273.6" r="0.45" fill="#3545ff" fill-opacity="0.45"/>
<circle cx="516.7" cy="282.9" r="0.45" fill="#3545ff" fill-opacity="0.45"/>
<circle cx="513.7" cy="276.3" r="0.45" fill="#3545ff" fill-opacity="0.45"/>
<circle cx="517.6" cy="280.2" r="0.45" fill="#3545ff" fill-opacity="0.45"/>
<circle cx="515.3" cy="264.4" r="0.45" fill="#3545ff" fill-opacity="0.45"/>
<circle cx="519.4" cy="279.0" r="0.45" fill="#3545ff" fill-opacity="0.45"/>
<circle cx="516.2" cy="275.3" r="0.45" fill="#3545ff" fill-opacity="0.45"/>
<circle cx="516.9" cy="274.4" r="0.45" fill="#3545ff" fill-opacity="0.45"/>
<circle cx="513.5" cy="272.6" r="0.45" fill="#3545ff" fill-opacity="0.45"/>
<circle cx="514.6" cy="273.3" r="0.45" fill="#3545ff" fill-opacity="0.45"/>
<circle cx="513.2" cy="280.8" r="0.45" fill="#3545ff" fill-opacity="0.45"/>
<circle cx="512.8" cy="281.0" r="0.45" fill="#3545ff" fill-opacity="0.45"/>
<circle cx="513.6" cy="279.1" r="0.45" fill="#3545ff" fill-opacity="0.45"/>
<circle cx="519.8" cy="278.2" r="0.45" fill="#3545ff" fill-opacity="0.45"/>
<circle cx="514.3" cy="277.3" r="0.45" fill="#3545ff" fill-opacity="0.45"/>
<circle cx="516.6" cy="266.6" r="0.45" fill="#3545ff" fill-opacity="0.45"/>
<circle cx="514.6" cy="278.0" r="0.45" fill="#3545ff" fill-opacity="0.45"/>
<circle cx="515.0" cy="277.5" r="0.45" fill="#3545ff" fill-opacity="0.45"/>
<circle cx="518.1" cy="281.6" r="0.45" fill="#3545ff" fill-opacity="0.45"/>
<circle cx="518.6" cy="280.5" r="0.45" fill="#3545ff" fill-opacity="0.45"/>
<circle cx="515.5" cy="276.9" r="0.45" fill="#3545ff" fill-opacity="0.45"/>
<circle cx="515.5" cy="275.1" r="0.45" fill="#3545ff" fill-opacity="0.45"/>
<circle cx="515.7" cy="266.7" r="0.45" fill="#3545ff" fill-opacity="0.45"/>
<circle cx="515.3" cy="276.9" r="0.45" fill="#3545ff" fill-opacity="0.45"/>
<circle cx="513.7" cy="276.9" r="0.45" fill="#3545ff" fill-opacity="0.45"/>
<circle cx="517.5" cy="276.0" r="0.45" fill="#3545ff" fill-opacity="0.45"/>
<circle cx="521.6" cy="261.4" r="0.45" fill="#3545ff" fill-opacity="0.45"/>
<circle cx="515.7" cy="266.0" r="0.45" fill="#3545ff" fill-opacity="0.45"/>
<circle cx="517.5" cy="275.2" r="0.45" fill="#3545ff" fill-opacity="0.45"/>
<circle cx="517.6" cy="263.5" r="0.45" fill="#3545ff" fill-opacity="0.45"/>
<circle cx="518.4" cy="279.2" r="0.45" fill="#3545ff" fill-opacity="0.45"/>
<circle cx="516.3" cy="273.5" r="0.45" fill="#3545ff" fill-opacity="0.45"/>
<circle cx="517.9" cy="274.1" r="0.45" fill="#3545ff" fill-opacity="0.45"/>
<circle cx="516.8" cy="273.9" r="0.45" fill="#3545ff" fill-opacity="0.45"/>
<circle cx="510.4" cy="276.8" r="0.45" fill="#3545ff" fill-opacity="0.45"/>
<circle cx="516.7" cy="281.5" r="0.45" fill="#3545ff" fill-opacity="0.45"/>
<circle cx="513.9" cy="276.8" r="0.45" fill="#3545ff" fill-opacity="0.45"/>
<circle cx="517.8" cy="277.9" r="0.45" fill="#3545ff" fill-opacity="0.45"/>
<circle cx="519.4" cy="288.9" r="0.45" fill="#3545ff" fill-opacity="0.45"/>
<circle cx="513.8" cy="265.5" r="0.45" fill="#3545ff" fill-opacity="0.45"/>
<circle cx="518.4" cy="286.2" r="0.45" fill="#3545ff" fill-opacity="0.45"/>
<circle cx="518.6" cy="281.9" r="0.45" fill="#3545ff" fill-opacity="0.45"/>
<circle cx="514.6" cy="272.7" r="0.45" fill="#3545ff" fill-opacity="0.45"/>
<circle cx="518.5" cy="271.5" r="0.45" fill="#3545ff" fill-opacity="0.45"/>
<circle cx="511.5" cy="271.0" r="0.45" fill="#3545ff" fill-opacity="0.45"/>
<circle cx="522.7" cy="288.5" r="0.45" fill="#3545ff" fill-opacity="0.45"/>
<circle cx="514.4" cy="272.6" r="0.45" fill="#3545ff" fill-opacity="0.45"/>
<circle cx="516.8" cy="272.5" r="0.45" fill="#3545ff" fill-opacity="0.45"/>
<circle cx="519.6" cy="276.5" r="0.45" fill="#3545ff" fill-opacity="0.45"/>
<circle cx="513.4" cy="284.9" r="0.45" fill="#3545ff" fill-opacity="0.45"/>
<circle cx="514.7" cy="278.3" r="0.45" fill="#3545ff" fill-opacity="0.45"/>
<circle cx="516.2" cy="275.1" r="0.45" fill="#3545ff" fill-opacity="0.45"/>
<circle cx="517.0" cy="272.8" r="0.45" fill="#3545ff" fill-opacity="0.45"/>
<circle cx="511.4" cy="263.8" r="0.45" fill="#3545ff" fill-opacity="0.45"/>
<circle cx="512.9" cy="272.4" r="0.45" fill="#3545ff" fill-opacity="0.45"/>
<circle cx="516.1" cy="277.3" r="0.45" fill="#3545ff" fill-opacity="0.45"/>
<circle cx="517.6" cy="277.7" r="0.45" fill="#3545ff" fill-opacity="0.45"/>
<circle cx="514.1" cy="272.7" r="0.45" fill="#3545ff" fill-opacity="0.45"/>
<circle cx="510.7" cy="276.0" r="0.45" fill="#3545ff" fill-opacity="0.45"/>
<circle cx="517.5" cy="280.2" r="0.45" fill="#3545ff" fill-opacity="0.45"/>
<circle cx="515.9" cy="276.0" r="0.45" fill="#3545ff" fill-opacity="0.45"/>
<circle cx="518.6" cy="277.1" r="0.45" fill="#3545ff" fill-opacity="0.45"/>
<circle cx="518.1" cy="280.5" r="0.45" fill="#3545ff" fill-opacity="0.45"/>
<circle cx="516.8" cy="284.8" r="0.45" fill="#3545ff" fill-opacity="0.45"/>
<circle cx="514.7" cy="274.8" r="0.45" fill="#3545ff" fill-opacity="0.45"/>
<circle cx="514.1" cy="272.2" r="0.45" fill="#3545ff" fill-opacity="0.45"/>
<circle cx="520.2" cy="287.6" r="0.45" fill="#3545ff" fill-opacity="0.45"/>
<circle cx="516.3" cy="280.4" r="0.45" fill="#3545ff" fill-opacity="0.45"/>
<circle cx="519.3" cy="281.8" r="0.45" fill="#3545ff" fill-opacity="0.45"/>
<circle cx="519.3" cy="269.4" r="0.45" fill="#3545ff" fill-opacity="0.45"/>
<circle cx="514.5" cy="279.7" r="0.45" fill="#3545ff" fill-opacity="0.45"/>
<circle cx="519.9" cy="277.6" r="0.45" fill="#3545ff" fill-opacity="0.45"/>
<circle cx="514.0" cy="274.9" r="0.45" fill="#3545ff" fill-opacity="0.45"/>
<circle cx="514.5" cy="271.9" r="0.45" fill="#3545ff" fill-opacity="0.45"/>
<circle cx="520.1" cy="273.2" r="0.45" fill="#3545ff" fill-opacity="0.45"/>
<circle cx="516.3" cy="290.0" r="0.45" fill="#3545ff" fill-opacity="0.45"/>
<circle cx="519.3" cy="279.0" r="0.45" fill="#3545ff" fill-opacity="0.45"/>
<circle cx="514.6" cy="279.5" r="0.45" fill="#3545ff" fill-opacity="0.45"/>
<circle cx="520.4" cy="280.7" r="0.45" fill="#3545ff" fill-opacity="0.45"/>
<circle cx="519.5" cy="277.6" r="0.45" fill="#3545ff" fill-opacity="0.45"/>
<circle cx="517.5" cy="275.8" r="0.45" fill="#3545ff" fill-opacity="0.45"/>
<circle cx="517.3" cy="284.8" r="0.45" fill="#3545ff" fill-opacity="0.45"/>
<circle cx="512.5" cy="276.6" r="0.45" fill="#3545ff" fill-opacity="0.45"/>
<circle cx="516.8" cy="273.6" r="0.45" fill="#3545ff" fill-opacity="0.45"/>
<circle cx="515.4" cy="281.7" r="0.45" fill="#3545ff" fill-opacity="0.45"/>
<circle cx="521.4" cy="280.8" r="0.45" fill="#3545ff" fill-opacity="0.45"/>
<circle cx="517.0" cy="267.7" r="0.45" fill="#3545ff" fill-opacity="0.45"/>
<circle cx="521.2" cy="277.5" r="0.45" fill="#3545ff" fill-opacity="0.45"/>
<circle cx="516.1" cy="270.3" r="0.45" fill="#3545ff" fill-opacity="0.45"/>
<circle cx="516.1" cy="270.4" r="0.45" fill="#3545ff" fill-opacity="0.45"/>
<circle cx="516.4" cy="279.8" r="0.45" fill="#3545ff" fill-opacity="0.45"/>
<circle cx="516.3" cy="278.7" r="0.45" fill="#3545ff" fill-opacity="0.45"/>
<circle cx="514.0" cy="285.6" r="0.45" fill="#3545ff" fill-opacity="0.45"/>
<circle cx="514.5" cy="266.1" r="0.45" fill="#3545ff" fill-opacity="0.45"/>
<circle cx="515.7" cy="272.4" r="0.45" fill="#3545ff" fill-opacity="0.45"/>
<circle cx="513.6" cy="274.9" r="0.45" fill="#3545ff" fill-opacity="0.45"/>
<circle cx="517.0" cy="269.9" r="0.45" fill="#3545ff" fill-opacity="0.45"/>
<circle cx="515.8" cy="285.6" r="0.45" fill="#3545ff" fill-opacity="0.45"/>
<circle cx="518.0" cy="276.1" r="0.45" fill="#3545ff" fill-opacity="0.45"/>
<circle cx="516.5" cy="276.3" r="0.45" fill="#3545ff" fill-opacity="0.45"/>
<circle cx="516.1" cy="281.4" r="0.45" fill="#3545ff" fill-opacity="0.45"/>
<circle cx="516.0" cy="262.6" r="0.45" fill="#3545ff" fill-opacity="0.45"/>
<circle cx="516.1" cy="271.7" r="0.45" fill="#3545ff" fill-opacity="0.45"/>
<circle cx="517.9" cy="273.3" r="0.45" fill="#3545ff" fill-opacity="0.45"/>
<circle cx="516.6" cy="290.1" r="0.45" fill="#3545ff" fill-opacity="0.45"/>
<circle cx="513.5" cy="270.3" r="0.45" fill="#3545ff" fill-opacity="0.45"/>
<circle cx="512.5" cy="262.6" r="0.45" fill="#3545ff" fill-opacity="0.45"/>
<circle cx="511.3" cy="279.2" r="0.45" fill="#3545ff" fill-opacity="0.45"/>
<circle cx="514.5" cy="265.8" r="0.45" fill="#3545ff" fill-opacity="0.45"/>
<circle cx="512.3" cy="280.7" r="0.45" fill="#3545ff" fill-opacity="0.45"/>
<circle cx="514.2" cy="274.8" r="0.45" fill="#3545ff" fill-opacity="0.45"/>
<circle cx="517.1" cy="285.1" r="0.45" fill="#3545ff" fill-opacity="0.45"/>
<circle cx="521.2" cy="283.2" r="0.45" fill="#3545ff" fill-opacity="0.45"/>
<circle cx="516.6" cy="278.1" r="0.45" fill="#3545ff" fill-opacity="0.45"/>
<circle cx="520.9" cy="285.6" r="0.45" fill="#3545ff" fill-opacity="0.45"/>
<circle cx="515.4" cy="279.7" r="0.45" fill="#3545ff" fill-opacity="0.45"/>
<circle cx="516.9" cy="277.3" r="0.45" fill="#3545ff" fill-opacity="0.45"/>
<circle cx="514.9" cy="269.0" r="0.45" fill="#3545ff" fill-opacity="0.45"/>
<circle cx="514.8" cy="267.7" r="0.45" fill="#3545ff" fill-opacity="0.45"/>
<circle cx="519.4" cy="280.2" r="0.45" fill="#3545ff" fill-opacity="0.45"/>
<circle cx="513.1" cy="285.4" r="0.45" fill="#3545ff" fill-opacity="0.45"/>
<circle cx="518.5" cy="265.5" r="0.45" fill="#3545ff" fill-opacity="0.45"/>
<circle cx="521.0" cy="281.9" r="0.45" fill="#3545ff" fill-opacity="0.45"/>
<circle cx="521.6" cy="269.6" r="0.45" fill="#3545ff" fill-opacity="0.45"/>
<circle cx="517.6" cy="279.5" r="0.45" fill="#3545ff" fill-opacity="0.45"/>
<circle cx="516.7" cy="278.0" r="0.45" fill="#3545ff" fill-opacity="0.45"/>
<circle cx="518.9" cy="268.0" r="0.45" fill="#3545ff" fill-opacity="0.45"/>
<circle cx="513.0" cy="268.6" r="0.45" fill="#3545ff" fill-opacity="0.45"/>
<circle cx="514.8" cy="273.4" r="0.45" fill="#3545ff" fill-opacity="0.45"/>
<circle cx="517.2" cy="278.6" r="0.45" fill="#3545ff" fill-opacity="0.45"/>
<circle cx="516.3" cy="272.9" r="0.45" fill="#3545ff" fill-opacity="0.45"/>
<circle cx="515.1" cy="282.7" r="0.45" fill="#3545ff" fill-opacity="0.45"/>
<circle cx="518.2" cy="277.6" r="0.45" fill="#3545ff" fill-opacity="0.45"/>
<circle cx="515.4" cy="286.3" r="0.45" fill="#3545ff" fill-opacity="0.45"/>
<circle cx="514.7" cy="280.9" r="0.45" fill="#3545ff" fill-opacity="0.45"/>
<circle cx="519.2" cy="275.4" r="0.45" fill="#3545ff" fill-opacity="0.45"/>
<circle cx="518.3" cy="270.3" r="0.45" fill="#3545ff" fill-opacity="0.45"/>
<circle cx="518.8" cy="278.2" r="0.45" fill="#3545ff" fill-opacity="0.45"/>
<circle cx="512.1" cy="281.0" r="0.45" fill="#3545ff" fill-opacity="0.45"/>
<circle cx="513.9" cy="284.7" r="0.45" fill="#3545ff" fill-opacity="0.45"/>
<circle cx="514.4" cy="276.0" r="0.45" fill="#3545ff" fill-opacity="0.45"/>
<circle cx="516.9" cy="275.0" r="0.45" fill="#3545ff" fill-opacity="0.45"/>
<circle cx="516.9" cy="273.7" r="0.45" fill="#3545ff" fill-opacity="0.45"/>
<circle cx="520.7" cy="285.0" r="0.45" fill="#3545ff" fill-opacity="0.4"/>
<circle cx="543.8" cy="259.6" r="0.45" fill="#3545ff" fill-opacity="0.4"/>
<circle cx="530.7" cy="268.7" r="0.45" fill="#3545ff" fill-opacity="0.4"/>
<circle cx="527.6" cy="274.0" r="0.45" fill="#3545ff" fill-opacity="0.4"/>
<circle cx="527.0" cy="274.6" r="0.45" fill="#3545ff" fill-opacity="0.4"/>
<circle cx="523.2" cy="273.5" r="0.45" fill="#3545ff" fill-opacity="0.4"/>
<circle cx="521.1" cy="277.8" r="0.45" fill="#3545ff" fill-opacity="0.4"/>
<circle cx="535.3" cy="259.5" r="0.45" fill="#3545ff" fill-opacity="0.4"/>
<circle cx="531.7" cy="269.2" r="0.45" fill="#3545ff" fill-opacity="0.4"/>
<circle cx="528.9" cy="271.6" r="0.45" fill="#3545ff" fill-opacity="0.4"/>
<circle cx="540.6" cy="261.7" r="0.45" fill="#3545ff" fill-opacity="0.4"/>
<circle cx="527.6" cy="273.5" r="0.45" fill="#3545ff" fill-opacity="0.4"/>
<circle cx="529.1" cy="271.4" r="0.45" fill="#3545ff" fill-opacity="0.4"/>
<circle cx="525.4" cy="270.0" r="0.45" fill="#3545ff" fill-opacity="0.4"/>
<circle cx="534.6" cy="262.6" r="0.45" fill="#3545ff" fill-opacity="0.4"/>
<circle cx="529.3" cy="277.8" r="0.45" fill="#3545ff" fill-opacity="0.4"/>
<circle cx="533.9" cy="264.9" r="0.45" fill="#3545ff" fill-opacity="0.4"/>
<circle cx="529.5" cy="268.1" r="0.45" fill="#3545ff" fill-opacity="0.4"/>
<circle cx="517.1" cy="279.5" r="0.45" fill="#3545ff" fill-opacity="0.4"/>
<circle cx="525.4" cy="277.7" r="0.45" fill="#3545ff" fill-opacity="0.4"/>
<circle cx="535.7" cy="264.3" r="0.45" fill="#3545ff" fill-opacity="0.4"/>
<circle cx="522.9" cy="279.8" r="0.45" fill="#3545ff" fill-opacity="0.4"/>
<circle cx="532.1" cy="271.4" r="0.45" fill="#3545ff" fill-opacity="0.4"/>
<circle cx="527.6" cy="276.2" r="0.45" fill="#3545ff" fill-opacity="0.4"/>
<circle cx="522.8" cy="278.5" r="0.45" fill="#3545ff" fill-opacity="0.4"/>
<circle cx="532.3" cy="272.1" r="0.45" fill="#3545ff" fill-opacity="0.4"/>
<circle cx="534.0" cy="265.5" r="0.45" fill="#3545ff" fill-opacity="0.4"/>
<circle cx="534.8" cy="268.0" r="0.45" fill="#3545ff" fill-opacity="0.4"/>
<circle cx="530.4" cy="273.0" r="0.45" fill="#3545ff" fill-opacity="0.4"/>
<circle cx="535.8" cy="260.8" r="0.45" fill="#3545ff" fill-opacity="0.4"/>
<circle cx="532.0" cy="267.4" r="0.45" fill="#3545ff" fill-opacity="0.4"/>
<circle cx="529.3" cy="270.0" r="0.45" fill="#3545ff" fill-opacity="0.4"/>
<circle cx="536.4" cy="262.4" r="0.45" fill="#3545ff" fill-opacity="0.4"/>
<circle cx="534.3" cy="265.4" r="0.45" fill="#3545ff" fill-opacity="0.4"/>
<circle cx="538.4" cy="262.2" r="0.45" fill="#3545ff" fill-opacity="0.4"/>
<circle cx="537.1" cy="262.6" r="0.45" fill="#3545ff" fill-opacity="0.4"/>
<circle cx="531.4" cy="267.5" r="0.45" fill="#3545ff" fill-opacity="0.4"/>
<circle cx="535.4" cy="268.7" r="0.45" fill="#3545ff" fill-opacity="0.4"/>
<circle cx="535.8" cy="260.4" r="0.45" fill="#3545ff" fill-opacity="0.4"/>
<circle cx="522.5" cy="276.8" r="0.45" fill="#3545ff" fill-opacity="0.4"/>
<circle cx="529.9" cy="269.3" r="0.45" fill="#3545ff" fill-opacity="0.4"/>
<circle cx="541.4" cy="263.9" r="0.45" fill="#3545ff" fill-opacity="0.4"/>
<circle cx="534.3" cy="265.7" r="0.45" fill="#3545ff" fill-opacity="0.4"/>
<circle cx="543.9" cy="260.3" r="0.45" fill="#3545ff" fill-opacity="0.4"/>
<circle cx="524.1" cy="271.6" r="0.45" fill="#3545ff" fill-opacity="0.4"/>
<circle cx="533.5" cy="271.5" r="0.45" fill="#3545ff" fill-opacity="0.4"/>
<circle cx="530.7" cy="266.2" r="0.45" fill="#3545ff" fill-opacity="0.4"/>
<circle cx="534.9" cy="264.3" r="0.45" fill="#3545ff" fill-opacity="0.4"/>
<circle cx="530.1" cy="271.4" r="0.45" fill="#3545ff" fill-opacity="0.4"/>
<circle cx="531.1" cy="268.6" r="0.45" fill="#3545ff" fill-opacity="0.4"/>
<circle cx="524.4" cy="278.1" r="0.45" fill="#3545ff" fill-opacity="0.4"/>
<circle cx="520.3" cy="282.3" r="0.45" fill="#3545ff" fill-opacity="0.4"/>
<circle cx="517.4" cy="282.0" r="0.45" fill="#3545ff" fill-opacity="0.4"/>
<circle cx="533.6" cy="267.2" r="0.45" fill="#3545ff" fill-opacity="0.4"/>
<circle cx="524.0" cy="270.1" r="0.45" fill="#3545ff" fill-opacity="0.4"/>
<circle cx="531.9" cy="273.8" r="0.45" fill="#3545ff" fill-opacity="0.4"/>
<circle cx="528.3" cy="273.7" r="0.45" fill="#3545ff" fill-opacity="0.4"/>
<circle cx="537.8" cy="260.6" r="0.45" fill="#3545ff" fill-opacity="0.4"/>
<circle cx="528.1" cy="270.0" r="0.45" fill="#3545ff" fill-opacity="0.4"/>
<circle cx="538.5" cy="262.6" r="0.45" fill="#3545ff" fill-opacity="0.4"/>
<circle cx="538.5" cy="260.4" r="0.45" fill="#3545ff" fill-opacity="0.4"/>
<circle cx="524.6" cy="274.1" r="0.45" fill="#3545ff" fill-opacity="0.4"/>
<circle cx="534.8" cy="266.5" r="0.45" fill="#3545ff" fill-opacity="0.4"/>
<circle cx="523.9" cy="276.5" r="0.45" fill="#3545ff" fill-opacity="0.4"/>
<circle cx="528.8" cy="271.8" r="0.45" fill="#3545ff" fill-opacity="0.4"/>
<circle cx="534.9" cy="267.0" r="0.45" fill="#3545ff" fill-opacity="0.4"/>
<circle cx="523.4" cy="274.7" r="0.45" fill="#3545ff" fill-opacity="0.4"/>
<circle cx="532.1" cy="265.0" r="0.45" fill="#3545ff" fill-opacity="0.4"/>
<circle cx="540.4" cy="259.9" r="0.45" fill="#3545ff" fill-opacity="0.4"/>
<circle cx="541.2" cy="260.3" r="0.45" fill="#3545ff" fill-opacity="0.4"/>
<circle cx="524.2" cy="274.8" r="0.45" fill="#3545ff" fill-opacity="0.4"/>
<circle cx="525.9" cy="281.1" r="0.45" fill="#3545ff" fill-opacity="0.4"/>
<circle cx="533.8" cy="267.7" r="0.45" fill="#3545ff" fill-opacity="0.4"/>
<circle cx="523.0" cy="282.2" r="0.45" fill="#3545ff" fill-opacity="0.4"/>
<circle cx="530.1" cy="277.8" r="0.45" fill="#3545ff" fill-opacity="0.4"/>
<circle cx="539.4" cy="268.2" r="0.45" fill="#3545ff" fill-opacity="0.4"/>
<circle cx="533.5" cy="264.0" r="0.45" fill="#3545ff" fill-opacity="0.4"/>
<circle cx="540.2" cy="256.7" r="0.45" fill="#3545ff" fill-opacity="0.4"/>
<circle cx="522.7" cy="273.8" r="0.45" fill="#3545ff" fill-opacity="0.4"/>
<circle cx="530.9" cy="266.6" r="0.45" fill="#3545ff" fill-opacity="0.4"/>
<circle cx="531.4" cy="270.6" r="0.45" fill="#3545ff" fill-opacity="0.4"/>
<circle cx="521.6" cy="278.0" r="0.45" fill="#3545ff" fill-opacity="0.4"/>
<circle cx="531.5" cy="273.0" r="0.45" fill="#3545ff" fill-opacity="0.4"/>
<circle cx="525.5" cy="268.8" r="0.45" fill="#3545ff" fill-opacity="0.4"/>
<circle cx="521.1" cy="278.5" r="0.45" fill="#3545ff" fill-opacity="0.4"/>
<circle cx="529.3" cy="264.5" r="0.45" fill="#3545ff" fill-opacity="0.4"/>
<circle cx="522.1" cy="275.9" r="0.45" fill="#3545ff" fill-opacity="0.4"/>
<circle cx="518.7" cy="276.6" r="0.45" fill="#3545ff" fill-opacity="0.4"/>
<circle cx="517.1" cy="278.0" r="0.45" fill="#3545ff" fill-opacity="0.4"/>
<circle cx="536.5" cy="266.7" r="0.45" fill="#3545ff" fill-opacity="0.4"/>
<circle cx="525.3" cy="270.3" r="0.45" fill="#3545ff" fill-opacity="0.4"/>
<circle cx="519.5" cy="276.8" r="0.45" fill="#3545ff" fill-opacity="0.4"/>
<circle cx="528.4" cy="271.7" r="0.45" fill="#3545ff" fill-opacity="0.4"/>
<circle cx="525.6" cy="269.9" r="0.45" fill="#3545ff" fill-opacity="0.4"/>
<circle cx="521.6" cy="277.4" r="0.45" fill="#3545ff" fill-opacity="0.4"/>
<circle cx="532.6" cy="267.0" r="0.45" fill="#3545ff" fill-opacity="0.4"/>
<circle cx="535.2" cy="264.5" r="0.45" fill="#3545ff" fill-opacity="0.4"/>
<circle cx="518.6" cy="274.7" r="0.45" fill="#3545ff" fill-opacity="0.4"/>
<circle cx="534.4" cy="264.4" r="0.45" fill="#3545ff" fill-opacity="0.4"/>
<circle cx="525.4" cy="277.2" r="0.45" fill="#3545ff" fill-opacity="0.4"/>
<circle cx="533.5" cy="266.3" r="0.45" fill="#3545ff" fill-opacity="0.4"/>
<circle cx="537.7" cy="263.0" r="0.45" fill="#3545ff" fill-opacity="0.4"/>
<circle cx="520.4" cy="280.2" r="0.45" fill="#3545ff" fill-opacity="0.4"/>
<circle cx="526.6" cy="275.2" r="0.45" fill="#3545ff" fill-opacity="0.4"/>
<circle cx="535.2" cy="261.2" r="0.45" fill="#3545ff" fill-opacity="0.4"/>
<circle cx="530.3" cy="265.2" r="0.45" fill="#3545ff" fill-opacity="0.4"/>
<circle cx="531.6" cy="263.5" r="0.45" fill="#3545ff" fill-opacity="0.4"/>
<circle cx="522.7" cy="273.9" r="0.45" fill="#3545ff" fill-opacity="0.4"/>
<circle cx="537.5" cy="265.2" r="0.45" fill="#3545ff" fill-opacity="0.4"/>
<circle cx="521.1" cy="274.7" r="0.45" fill="#3545ff" fill-opacity="0.4"/>
<ellipse cx="516.3" cy="277.0" rx="5.0" ry="10.0" fill="url(#blueblob)"/>
<ellipse cx="516.2" cy="282.0" rx="4.7" ry="6.0" fill="url(#blob)"/>
<rect x="521.50" y="252.50" width="32.80" height="19.60" fill="none" stroke="#222" stroke-width="1.1" />
<text x="536.90" y="251.60" font-size="5.8" text-anchor="middle" font-weight="normal" font-style="normal" fill="#f01818" stroke="#f01818" >Erythroblasts</text>
<text x="553.70" y="260.10" font-size="6.6" text-anchor="end" font-weight="normal" font-style="normal" fill="#222" stroke="#222" >0.71</text>
<rect x="442.50" y="304.90" width="45.20" height="45.30" fill="#fff" stroke="#b8b8b8" stroke-width="0.9" />
<line x1="441.30" y1="308.90" x2="443.10" y2="308.90" stroke="#777" stroke-width="0.6"/>
<line x1="441.30" y1="318.22" x2="443.10" y2="318.22" stroke="#777" stroke-width="0.6"/>
<line x1="441.30" y1="327.55" x2="443.10" y2="327.55" stroke="#777" stroke-width="0.6"/>
<line x1="441.30" y1="336.88" x2="443.10" y2="336.88" stroke="#777" stroke-width="0.6"/>
<line x1="441.30" y1="346.20" x2="443.10" y2="346.20" stroke="#777" stroke-width="0.6"/>
<line x1="446.50" y1="349.60" x2="446.50" y2="351.40" stroke="#777" stroke-width="0.6"/>
<line x1="455.80" y1="349.60" x2="455.80" y2="351.40" stroke="#777" stroke-width="0.6"/>
<line x1="465.10" y1="349.60" x2="465.10" y2="351.40" stroke="#777" stroke-width="0.6"/>
<line x1="474.40" y1="349.60" x2="474.40" y2="351.40" stroke="#777" stroke-width="0.6"/>
<line x1="483.70" y1="349.60" x2="483.70" y2="351.40" stroke="#777" stroke-width="0.6"/>
<ellipse cx="449.5" cy="318.9" rx="9" ry="12" fill="url(#haze)"/>
<ellipse cx="471.5" cy="338.9" rx="8" ry="10" fill="url(#haze)"/>
<ellipse cx="448.5" cy="342.9" rx="3" ry="4" fill="url(#haze)"/>
<circle cx="447.1" cy="320.1" r="0.45" fill="#3545ff" fill-opacity="0.45"/>
<circle cx="451.7" cy="311.5" r="0.45" fill="#3545ff" fill-opacity="0.45"/>
<circle cx="446.5" cy="325.7" r="0.45" fill="#3545ff" fill-opacity="0.45"/>
<circle cx="447.8" cy="339.8" r="0.45" fill="#3545ff" fill-opacity="0.45"/>
<circle cx="447.5" cy="339.5" r="0.45" fill="#3545ff" fill-opacity="0.45"/>
<circle cx="443.9" cy="309.0" r="0.45" fill="#3545ff" fill-opacity="0.45"/>
<circle cx="453.3" cy="333.7" r="0.45" fill="#3545ff" fill-opacity="0.45"/>
<circle cx="450.7" cy="330.3" r="0.45" fill="#3545ff" fill-opacity="0.45"/>
<circle cx="450.7" cy="315.5" r="0.45" fill="#3545ff" fill-opacity="0.45"/>
<circle cx="452.3" cy="323.0" r="0.45" fill="#3545ff" fill-opacity="0.45"/>
<circle cx="452.4" cy="329.9" r="0.45" fill="#3545ff" fill-opacity="0.45"/>
<circle cx="452.9" cy="327.4" r="0.45" fill="#3545ff" fill-opacity="0.45"/>
<circle cx="447.6" cy="331.6" r="0.45" fill="#3545ff" fill-opacity="0.45"/>
<circle cx="447.5" cy="322.9" r="0.45" fill="#3545ff" fill-opacity="0.45"/>
<circle cx="449.4" cy="330.5" r="0.45" fill="#3545ff" fill-opacity="0.45"/>
<circle cx="454.3" cy="329.4" r="0.45" fill="#3545ff" fill-opacity="0.45"/>
<circle cx="455.6" cy="348.7" r="0.45" fill="#3545ff" fill-opacity="0.45"/>
<circle cx="455.0" cy="340.6" r="0.45" fill="#3545ff" fill-opacity="0.45"/>
<circle cx="449.5" cy="330.4" r="0.45" fill="#3545ff" fill-opacity="0.45"/>
<circle cx="448.5" cy="320.9" r="0.45" fill="#3545ff" fill-opacity="0.45"/>
<circle cx="448.8" cy="321.9" r="0.45" fill="#3545ff" fill-opacity="0.45"/>
<circle cx="454.7" cy="334.8" r="0.45" fill="#3545ff" fill-opacity="0.45"/>
<circle cx="447.4" cy="307.8" r="0.45" fill="#3545ff" fill-opacity="0.45"/>
<circle cx="448.8" cy="324.3" r="0.45" fill="#3545ff" fill-opacity="0.45"/>
<circle cx="445.2" cy="316.4" r="0.45" fill="#3545ff" fill-opacity="0.45"/>
<circle cx="448.9" cy="327.3" r="0.45" fill="#3545ff" fill-opacity="0.45"/>
<circle cx="454.1" cy="330.4" r="0.45" fill="#3545ff" fill-opacity="0.45"/>
<circle cx="449.6" cy="324.8" r="0.45" fill="#3545ff" fill-opacity="0.45"/>
<circle cx="446.9" cy="345.4" r="0.45" fill="#3545ff" fill-opacity="0.45"/>
<circle cx="452.5" cy="347.8" r="0.45" fill="#3545ff" fill-opacity="0.45"/>
<circle cx="447.8" cy="329.2" r="0.45" fill="#3545ff" fill-opacity="0.45"/>
<circle cx="445.9" cy="339.5" r="0.45" fill="#3545ff" fill-opacity="0.45"/>
<circle cx="444.1" cy="335.1" r="0.45" fill="#3545ff" fill-opacity="0.45"/>
<circle cx="452.8" cy="344.4" r="0.45" fill="#3545ff" fill-opacity="0.45"/>
<circle cx="445.7" cy="340.9" r="0.45" fill="#3545ff" fill-opacity="0.45"/>
<circle cx="446.5" cy="320.6" r="0.45" fill="#3545ff" fill-opacity="0.45"/>
<circle cx="444.4" cy="341.6" r="0.45" fill="#3545ff" fill-opacity="0.45"/>
<circle cx="454.8" cy="322.4" r="0.45" fill="#3545ff" fill-opacity="0.45"/>
<circle cx="446.3" cy="325.2" r="0.45" fill="#3545ff" fill-opacity="0.45"/>
<circle cx="457.8" cy="339.9" r="0.45" fill="#3545ff" fill-opacity="0.45"/>
<circle cx="447.1" cy="309.2" r="0.45" fill="#3545ff" fill-opacity="0.45"/>
<circle cx="446.6" cy="342.0" r="0.45" fill="#3545ff" fill-opacity="0.45"/>
<circle cx="455.5" cy="326.0" r="0.45" fill="#3545ff" fill-opacity="0.45"/>
<circle cx="446.6" cy="323.3" r="0.45" fill="#3545ff" fill-opacity="0.45"/>
<circle cx="445.2" cy="340.6" r="0.45" fill="#3545ff" fill-opacity="0.45"/>
<circle cx="443.0" cy="314.9" r="0.45" fill="#3545ff" fill-opacity="0.45"/>
<circle cx="450.0" cy="320.5" r="0.45" fill="#3545ff" fill-opacity="0.45"/>
<circle cx="451.7" cy="329.0" r="0.45" fill="#3545ff" fill-opacity="0.45"/>
<circle cx="444.9" cy="335.7" r="0.45" fill="#3545ff" fill-opacity="0.45"/>
<circle cx="451.9" cy="307.9" r="0.45" fill="#3545ff" fill-opacity="0.45"/>
<circle cx="455.4" cy="334.4" r="0.45" fill="#3545ff" fill-opacity="0.45"/>
<circle cx="451.7" cy="308.4" r="0.45" fill="#3545ff" fill-opacity="0.45"/>
<circle cx="446.5" cy="325.1" r="0.45" fill="#3545ff" fill-opacity="0.45"/>
<circle cx="452.8" cy="312.8" r="0.45" fill="#3545ff" fill-opacity="0.45"/>
<circle cx="445.9" cy="306.6" r="0.45" fill="#3545ff" fill-opacity="0.45"/>
<circle cx="448.2" cy="332.7" r="0.45" fill="#3545ff" fill-opacity="0.45"/>
<circle cx="443.1" cy="322.4" r="0.45" fill="#3545ff" fill-opacity="0.45"/>
<circle cx="450.8" cy="346.3" r="0.45" fill="#3545ff" fill-opacity="0.45"/>
<circle cx="451.3" cy="325.6" r="0.45" fill="#3545ff" fill-opacity="0.45"/>
<circle cx="444.9" cy="318.6" r="0.45" fill="#3545ff" fill-opacity="0.45"/>
<circle cx="446.7" cy="330.5" r="0.45" fill="#3545ff" fill-opacity="0.45"/>
<circle cx="448.8" cy="347.2" r="0.45" fill="#3545ff" fill-opacity="0.45"/>
<circle cx="450.0" cy="317.1" r="0.45" fill="#3545ff" fill-opacity="0.45"/>
<circle cx="454.4" cy="339.3" r="0.45" fill="#3545ff" fill-opacity="0.45"/>
<circle cx="449.4" cy="321.0" r="0.45" fill="#3545ff" fill-opacity="0.45"/>
<circle cx="452.2" cy="320.1" r="0.45" fill="#3545ff" fill-opacity="0.45"/>
<circle cx="444.4" cy="331.1" r="0.45" fill="#3545ff" fill-opacity="0.45"/>
<circle cx="449.9" cy="335.6" r="0.45" fill="#3545ff" fill-opacity="0.45"/>
<circle cx="451.3" cy="344.4" r="0.45" fill="#3545ff" fill-opacity="0.45"/>
<circle cx="446.1" cy="339.7" r="0.45" fill="#3545ff" fill-opacity="0.45"/>
<circle cx="445.5" cy="336.5" r="0.45" fill="#3545ff" fill-opacity="0.45"/>
<circle cx="449.6" cy="331.6" r="0.45" fill="#3545ff" fill-opacity="0.45"/>
<circle cx="452.4" cy="328.7" r="0.45" fill="#3545ff" fill-opacity="0.45"/>
<circle cx="452.9" cy="338.5" r="0.45" fill="#3545ff" fill-opacity="0.45"/>
<circle cx="449.5" cy="322.7" r="0.45" fill="#3545ff" fill-opacity="0.45"/>
<circle cx="446.4" cy="323.1" r="0.45" fill="#3545ff" fill-opacity="0.45"/>
<circle cx="448.3" cy="328.6" r="0.45" fill="#3545ff" fill-opacity="0.45"/>
<circle cx="459.4" cy="335.9" r="0.45" fill="#3545ff" fill-opacity="0.45"/>
<circle cx="451.7" cy="319.4" r="0.45" fill="#3545ff" fill-opacity="0.45"/>
<circle cx="446.5" cy="325.4" r="0.45" fill="#3545ff" fill-opacity="0.45"/>
<circle cx="449.7" cy="317.5" r="0.45" fill="#3545ff" fill-opacity="0.45"/>
<circle cx="454.6" cy="322.7" r="0.45" fill="#3545ff" fill-opacity="0.45"/>
<circle cx="449.0" cy="332.0" r="0.45" fill="#3545ff" fill-opacity="0.45"/>
<circle cx="449.7" cy="335.5" r="0.45" fill="#3545ff" fill-opacity="0.45"/>
<circle cx="450.0" cy="330.7" r="0.45" fill="#3545ff" fill-opacity="0.45"/>
<circle cx="450.1" cy="326.8" r="0.45" fill="#3545ff" fill-opacity="0.45"/>
<circle cx="446.1" cy="322.5" r="0.45" fill="#3545ff" fill-opacity="0.45"/>
<circle cx="455.5" cy="347.9" r="0.45" fill="#3545ff" fill-opacity="0.45"/>
<circle cx="448.8" cy="343.1" r="0.45" fill="#3545ff" fill-opacity="0.45"/>
<circle cx="443.4" cy="307.6" r="0.45" fill="#3545ff" fill-opacity="0.45"/>
<circle cx="447.3" cy="319.3" r="0.45" fill="#3545ff" fill-opacity="0.45"/>
<circle cx="447.0" cy="331.0" r="0.45" fill="#3545ff" fill-opacity="0.45"/>
<circle cx="459.6" cy="321.6" r="0.45" fill="#3545ff" fill-opacity="0.45"/>
<circle cx="449.2" cy="331.9" r="0.45" fill="#3545ff" fill-opacity="0.45"/>
<circle cx="448.9" cy="339.1" r="0.45" fill="#3545ff" fill-opacity="0.45"/>
<circle cx="455.2" cy="315.2" r="0.45" fill="#3545ff" fill-opacity="0.45"/>
<circle cx="449.6" cy="326.0" r="0.45" fill="#3545ff" fill-opacity="0.45"/>
<circle cx="450.2" cy="312.1" r="0.45" fill="#3545ff" fill-opacity="0.45"/>
<circle cx="450.8" cy="331.0" r="0.45" fill="#3545ff" fill-opacity="0.45"/>
<circle cx="447.7" cy="320.6" r="0.45" fill="#3545ff" fill-opacity="0.45"/>
<circle cx="444.1" cy="318.8" r="0.45" fill="#3545ff" fill-opacity="0.45"/>
<circle cx="451.4" cy="334.9" r="0.45" fill="#3545ff" fill-opacity="0.45"/>
<circle cx="448.9" cy="334.6" r="0.45" fill="#3545ff" fill-opacity="0.45"/>
<circle cx="446.9" cy="329.7" r="0.45" fill="#3545ff" fill-opacity="0.45"/>
<circle cx="449.1" cy="335.0" r="0.45" fill="#3545ff" fill-opacity="0.45"/>
<circle cx="448.8" cy="327.3" r="0.45" fill="#3545ff" fill-opacity="0.45"/>
<circle cx="448.5" cy="321.8" r="0.45" fill="#3545ff" fill-opacity="0.45"/>
<circle cx="456.8" cy="334.6" r="0.45" fill="#3545ff" fill-opacity="0.45"/>
<circle cx="453.9" cy="311.8" r="0.45" fill="#3545ff" fill-opacity="0.45"/>
<circle cx="451.4" cy="338.1" r="0.45" fill="#3545ff" fill-opacity="0.45"/>
<circle cx="455.6" cy="343.4" r="0.45" fill="#3545ff" fill-opacity="0.45"/>
<circle cx="451.7" cy="316.0" r="0.45" fill="#3545ff" fill-opacity="0.45"/>
<circle cx="446.0" cy="331.9" r="0.45" fill="#3545ff" fill-opacity="0.45"/>
<circle cx="450.8" cy="317.7" r="0.45" fill="#3545ff" fill-opacity="0.45"/>
<circle cx="447.7" cy="324.5" r="0.45" fill="#3545ff" fill-opacity="0.45"/>
<circle cx="449.2" cy="332.6" r="0.45" fill="#3545ff" fill-opacity="0.45"/>
<circle cx="448.0" cy="315.3" r="0.45" fill="#3545ff" fill-opacity="0.45"/>
<circle cx="453.3" cy="346.5" r="0.45" fill="#3545ff" fill-opacity="0.45"/>
<circle cx="448.6" cy="340.2" r="0.45" fill="#3545ff" fill-opacity="0.45"/>
<circle cx="450.6" cy="336.2" r="0.45" fill="#3545ff" fill-opacity="0.45"/>
<circle cx="450.7" cy="320.5" r="0.45" fill="#3545ff" fill-opacity="0.45"/>
<circle cx="451.0" cy="340.0" r="0.45" fill="#3545ff" fill-opacity="0.45"/>
<circle cx="456.3" cy="349.0" r="0.45" fill="#3545ff" fill-opacity="0.45"/>
<circle cx="456.0" cy="337.1" r="0.45" fill="#3545ff" fill-opacity="0.45"/>
<circle cx="447.8" cy="322.3" r="0.45" fill="#3545ff" fill-opacity="0.45"/>
<circle cx="446.2" cy="330.2" r="0.45" fill="#3545ff" fill-opacity="0.45"/>
<circle cx="448.9" cy="336.3" r="0.45" fill="#3545ff" fill-opacity="0.45"/>
<circle cx="475.6" cy="328.6" r="0.45" fill="#3545ff" fill-opacity="0.45"/>
<circle cx="472.7" cy="333.7" r="0.45" fill="#3545ff" fill-opacity="0.45"/>
<circle cx="472.0" cy="326.8" r="0.45" fill="#3545ff" fill-opacity="0.45"/>
<circle cx="471.3" cy="320.7" r="0.45" fill="#3545ff" fill-opacity="0.45"/>
<circle cx="471.8" cy="328.7" r="0.45" fill="#3545ff" fill-opacity="0.45"/>
<circle cx="472.1" cy="320.3" r="0.45" fill="#3545ff" fill-opacity="0.45"/>
<circle cx="471.6" cy="329.4" r="0.45" fill="#3545ff" fill-opacity="0.45"/>
<circle cx="472.6" cy="318.3" r="0.45" fill="#3545ff" fill-opacity="0.45"/>
<circle cx="472.3" cy="338.7" r="0.45" fill="#3545ff" fill-opacity="0.45"/>
<circle cx="472.6" cy="325.2" r="0.45" fill="#3545ff" fill-opacity="0.45"/>
<circle cx="470.6" cy="326.5" r="0.45" fill="#3545ff" fill-opacity="0.45"/>
<circle cx="472.8" cy="344.4" r="0.45" fill="#3545ff" fill-opacity="0.45"/>
<circle cx="471.2" cy="322.5" r="0.45" fill="#3545ff" fill-opacity="0.45"/>
<circle cx="472.2" cy="330.9" r="0.45" fill="#3545ff" fill-opacity="0.45"/>
<circle cx="469.9" cy="321.5" r="0.45" fill="#3545ff" fill-opacity="0.45"/>
<circle cx="471.3" cy="335.6" r="0.45" fill="#3545ff" fill-opacity="0.45"/>
<circle cx="469.4" cy="318.7" r="0.45" fill="#3545ff" fill-opacity="0.45"/>
<circle cx="472.4" cy="316.7" r="0.45" fill="#3545ff" fill-opacity="0.45"/>
<circle cx="471.7" cy="332.4" r="0.45" fill="#3545ff" fill-opacity="0.45"/>
<circle cx="471.3" cy="318.7" r="0.45" fill="#3545ff" fill-opacity="0.45"/>
<circle cx="471.4" cy="325.6" r="0.45" fill="#3545ff" fill-opacity="0.45"/>
<circle cx="472.1" cy="320.5" r="0.45" fill="#3545ff" fill-opacity="0.45"/>
<circle cx="473.5" cy="312.1" r="0.45" fill="#3545ff" fill-opacity="0.45"/>
<circle cx="471.2" cy="329.0" r="0.45" fill="#3545ff" fill-opacity="0.45"/>
<circle cx="473.2" cy="322.8" r="0.45" fill="#3545ff" fill-opacity="0.45"/>
<circle cx="472.5" cy="323.2" r="0.45" fill="#3545ff" fill-opacity="0.45"/>
<circle cx="472.8" cy="346.3" r="0.45" fill="#3545ff" fill-opacity="0.45"/>
<circle cx="470.8" cy="333.3" r="0.45" fill="#3545ff" fill-opacity="0.45"/>
<circle cx="469.8" cy="338.6" r="0.45" fill="#3545ff" fill-opacity="0.45"/>
<circle cx="473.7" cy="329.3" r="0.45" fill="#3545ff" fill-opacity="0.45"/>
<circle cx="469.5" cy="332.9" r="0.45" fill="#3545ff" fill-opacity="0.45"/>
<circle cx="473.6" cy="339.8" r="0.45" fill="#3545ff" fill-opacity="0.45"/>
<circle cx="473.0" cy="310.6" r="0.45" fill="#3545ff" fill-opacity="0.45"/>
<circle cx="470.3" cy="343.1" r="0.45" fill="#3545ff" fill-opacity="0.45"/>
<circle cx="469.3" cy="340.2" r="0.45" fill="#3545ff" fill-opacity="0.45"/>
<circle cx="474.9" cy="336.5" r="0.45" fill="#3545ff" fill-opacity="0.45"/>
<circle cx="473.5" cy="325.6" r="0.45" fill="#3545ff" fill-opacity="0.45"/>
<circle cx="469.3" cy="327.9" r="0.45" fill="#3545ff" fill-opacity="0.45"/>
<circle cx="471.1" cy="328.4" r="0.45" fill="#3545ff" fill-opacity="0.45"/>
<circle cx="472.8" cy="327.5" r="0.45" fill="#3545ff" fill-opacity="0.45"/>
<circle cx="471.8" cy="333.1" r="0.45" fill="#3545ff" fill-opacity="0.45"/>
<circle cx="471.5" cy="347.3" r="0.45" fill="#3545ff" fill-opacity="0.45"/>
<circle cx="472.3" cy="329.7" r="0.45" fill="#3545ff" fill-opacity="0.45"/>
<circle cx="471.1" cy="322.6" r="0.45" fill="#3545ff" fill-opacity="0.45"/>
<circle cx="473.9" cy="330.4" r="0.45" fill="#3545ff" fill-opacity="0.45"/>
<circle cx="469.6" cy="323.3" r="0.45" fill="#3545ff" fill-opacity="0.45"/>
<circle cx="471.3" cy="324.4" r="0.45" fill="#3545ff" fill-opacity="0.45"/>
<circle cx="473.5" cy="317.3" r="0.45" fill="#3545ff" fill-opacity="0.45"/>
<circle cx="472.4" cy="330.3" r="0.45" fill="#3545ff" fill-opacity="0.45"/>
<circle cx="469.4" cy="329.4" r="0.45" fill="#3545ff" fill-opacity="0.45"/>
<circle cx="471.3" cy="333.9" r="0.45" fill="#3545ff" fill-opacity="0.45"/>
<circle cx="470.7" cy="331.9" r="0.45" fill="#3545ff" fill-opacity="0.45"/>
<circle cx="468.5" cy="318.1" r="0.45" fill="#3545ff" fill-opacity="0.45"/>
<circle cx="472.9" cy="339.3" r="0.45" fill="#3545ff" fill-opacity="0.45"/>
<circle cx="471.5" cy="322.9" r="0.45" fill="#3545ff" fill-opacity="0.45"/>
<circle cx="473.4" cy="308.0" r="0.45" fill="#3545ff" fill-opacity="0.45"/>
<circle cx="470.1" cy="335.6" r="0.45" fill="#3545ff" fill-opacity="0.45"/>
<circle cx="472.7" cy="318.6" r="0.45" fill="#3545ff" fill-opacity="0.45"/>
<circle cx="468.1" cy="343.4" r="0.45" fill="#3545ff" fill-opacity="0.45"/>
<circle cx="471.8" cy="319.9" r="0.45" fill="#3545ff" fill-opacity="0.45"/>
<circle cx="471.6" cy="337.9" r="0.45" fill="#3545ff" fill-opacity="0.45"/>
<circle cx="466.8" cy="340.0" r="0.45" fill="#3545ff" fill-opacity="0.45"/>
<circle cx="472.8" cy="308.1" r="0.45" fill="#3545ff" fill-opacity="0.45"/>
<circle cx="472.9" cy="311.1" r="0.45" fill="#3545ff" fill-opacity="0.45"/>
<circle cx="473.6" cy="332.9" r="0.45" fill="#3545ff" fill-opacity="0.45"/>
<circle cx="475.6" cy="322.8" r="0.45" fill="#3545ff" fill-opacity="0.45"/>
<circle cx="471.5" cy="339.4" r="0.45" fill="#3545ff" fill-opacity="0.45"/>
<circle cx="470.3" cy="321.9" r="0.45" fill="#3545ff" fill-opacity="0.45"/>
<circle cx="470.8" cy="328.2" r="0.45" fill="#3545ff" fill-opacity="0.45"/>
<circle cx="469.6" cy="333.7" r="0.45" fill="#3545ff" fill-opacity="0.45"/>
<circle cx="472.5" cy="329.6" r="0.45" fill="#3545ff" fill-opacity="0.45"/>
<circle cx="474.6" cy="325.6" r="0.45" fill="#3545ff" fill-opacity="0.45"/>
<circle cx="473.9" cy="323.4" r="0.45" fill="#3545ff" fill-opacity="0.45"/>
<circle cx="472.9" cy="309.6" r="0.45" fill="#3545ff" fill-opacity="0.45"/>
<circle cx="471.9" cy="327.1" r="0.45" fill="#3545ff" fill-opacity="0.45"/>
<circle cx="470.6" cy="322.8" r="0.45" fill="#3545ff" fill-opacity="0.45"/>
<circle cx="470.9" cy="321.7" r="0.45" fill="#3545ff" fill-opacity="0.45"/>
<circle cx="467.6" cy="322.9" r="0.45" fill="#3545ff" fill-opacity="0.45"/>
<circle cx="470.5" cy="323.7" r="0.45" fill="#3545ff" fill-opacity="0.45"/>
<circle cx="469.6" cy="327.5" r="0.45" fill="#3545ff" fill-opacity="0.45"/>
<circle cx="472.9" cy="326.4" r="0.45" fill="#3545ff" fill-opacity="0.45"/>
<circle cx="470.6" cy="342.5" r="0.45" fill="#3545ff" fill-opacity="0.45"/>
<circle cx="473.3" cy="338.1" r="0.45" fill="#3545ff" fill-opacity="0.45"/>
<circle cx="473.6" cy="325.6" r="0.45" fill="#3545ff" fill-opacity="0.45"/>
<circle cx="471.3" cy="340.0" r="0.45" fill="#3545ff" fill-opacity="0.45"/>
<circle cx="470.5" cy="327.7" r="0.45" fill="#3545ff" fill-opacity="0.45"/>
<circle cx="472.2" cy="332.6" r="0.45" fill="#3545ff" fill-opacity="0.45"/>
<circle cx="471.0" cy="338.7" r="0.45" fill="#3545ff" fill-opacity="0.45"/>
<circle cx="471.2" cy="336.2" r="0.45" fill="#3545ff" fill-opacity="0.45"/>
<circle cx="473.4" cy="335.5" r="0.45" fill="#3545ff" fill-opacity="0.45"/>
<circle cx="472.8" cy="317.3" r="0.45" fill="#3545ff" fill-opacity="0.45"/>
<circle cx="469.1" cy="322.7" r="0.45" fill="#3545ff" fill-opacity="0.45"/>
<circle cx="472.4" cy="343.9" r="0.45" fill="#3545ff" fill-opacity="0.45"/>
<circle cx="469.3" cy="332.0" r="0.45" fill="#3545ff" fill-opacity="0.45"/>
<circle cx="470.0" cy="321.6" r="0.45" fill="#3545ff" fill-opacity="0.45"/>
<circle cx="471.0" cy="335.8" r="0.45" fill="#3545ff" fill-opacity="0.45"/>
<circle cx="471.9" cy="340.7" r="0.45" fill="#3545ff" fill-opacity="0.45"/>
<circle cx="469.7" cy="337.8" r="0.45" fill="#3545ff" fill-opacity="0.45"/>
<circle cx="473.2" cy="329.6" r="0.45" fill="#3545ff" fill-opacity="0.45"/>
<circle cx="472.4" cy="323.3" r="0.45" fill="#3545ff" fill-opacity="0.45"/>
<circle cx="469.5" cy="324.8" r="0.45" fill="#3545ff" fill-opacity="0.45"/>
<circle cx="470.6" cy="345.4" r="0.45" fill="#3545ff" fill-opacity="0.45"/>
<circle cx="471.9" cy="332.0" r="0.45" fill="#3545ff" fill-opacity="0.45"/>
<circle cx="472.8" cy="321.1" r="0.45" fill="#3545ff" fill-opacity="0.45"/>
<circle cx="473.1" cy="332.7" r="0.45" fill="#3545ff" fill-opacity="0.45"/>
<circle cx="468.8" cy="334.9" r="0.45" fill="#3545ff" fill-opacity="0.45"/>
<circle cx="472.5" cy="333.4" r="0.45" fill="#3545ff" fill-opacity="0.45"/>
<circle cx="474.4" cy="324.8" r="0.45" fill="#3545ff" fill-opacity="0.45"/>
<circle cx="472.4" cy="336.4" r="0.45" fill="#3545ff" fill-opacity="0.45"/>
<circle cx="469.9" cy="340.9" r="0.45" fill="#3545ff" fill-opacity="0.45"/>
<circle cx="468.9" cy="315.9" r="0.45" fill="#3545ff" fill-opacity="0.45"/>
<circle cx="472.4" cy="318.0" r="0.45" fill="#3545ff" fill-opacity="0.45"/>
<circle cx="471.3" cy="312.5" r="0.45" fill="#3545ff" fill-opacity="0.45"/>
<circle cx="471.6" cy="317.6" r="0.45" fill="#3545ff" fill-opacity="0.45"/>
<circle cx="472.1" cy="313.6" r="0.45" fill="#3545ff" fill-opacity="0.45"/>
<circle cx="472.3" cy="326.2" r="0.45" fill="#3545ff" fill-opacity="0.45"/>
<circle cx="471.6" cy="328.2" r="0.45" fill="#3545ff" fill-opacity="0.45"/>
<circle cx="471.7" cy="315.7" r="0.45" fill="#3545ff" fill-opacity="0.45"/>
<circle cx="466.9" cy="329.2" r="0.45" fill="#3545ff" fill-opacity="0.45"/>
<circle cx="469.8" cy="324.4" r="0.45" fill="#3545ff" fill-opacity="0.45"/>
<circle cx="472.3" cy="309.0" r="0.45" fill="#3545ff" fill-opacity="0.45"/>
<circle cx="470.1" cy="322.8" r="0.45" fill="#3545ff" fill-opacity="0.45"/>
<circle cx="469.6" cy="332.2" r="0.45" fill="#3545ff" fill-opacity="0.45"/>
<circle cx="471.2" cy="320.7" r="0.45" fill="#3545ff" fill-opacity="0.45"/>
<circle cx="469.7" cy="337.0" r="0.45" fill="#3545ff" fill-opacity="0.45"/>
<circle cx="470.3" cy="334.8" r="0.45" fill="#3545ff" fill-opacity="0.45"/>
<circle cx="472.3" cy="310.0" r="0.45" fill="#3545ff" fill-opacity="0.45"/>
<circle cx="469.5" cy="328.9" r="0.45" fill="#3545ff" fill-opacity="0.45"/>
<circle cx="472.1" cy="336.7" r="0.45" fill="#3545ff" fill-opacity="0.45"/>
<circle cx="472.9" cy="339.2" r="0.45" fill="#3545ff" fill-opacity="0.45"/>
<circle cx="470.8" cy="326.8" r="0.45" fill="#3545ff" fill-opacity="0.45"/>
<circle cx="472.9" cy="324.6" r="0.45" fill="#3545ff" fill-opacity="0.45"/>
<circle cx="473.4" cy="313.0" r="0.45" fill="#3545ff" fill-opacity="0.45"/>
<circle cx="472.7" cy="327.2" r="0.45" fill="#3545ff" fill-opacity="0.45"/>
<circle cx="468.0" cy="338.7" r="0.45" fill="#3545ff" fill-opacity="0.45"/>
<circle cx="472.1" cy="329.1" r="0.45" fill="#3545ff" fill-opacity="0.45"/>
<circle cx="469.6" cy="324.2" r="0.45" fill="#3545ff" fill-opacity="0.45"/>
<circle cx="474.2" cy="320.6" r="0.45" fill="#3545ff" fill-opacity="0.45"/>
<circle cx="465.3" cy="320.3" r="0.45" fill="#3545ff" fill-opacity="0.45"/>
<circle cx="469.3" cy="327.6" r="0.45" fill="#3545ff" fill-opacity="0.45"/>
<circle cx="470.8" cy="319.8" r="0.45" fill="#3545ff" fill-opacity="0.45"/>
<circle cx="470.0" cy="339.4" r="0.45" fill="#3545ff" fill-opacity="0.45"/>
<circle cx="468.9" cy="348.5" r="0.45" fill="#3545ff" fill-opacity="0.45"/>
<circle cx="470.5" cy="318.0" r="0.45" fill="#3545ff" fill-opacity="0.45"/>
<circle cx="472.9" cy="334.5" r="0.45" fill="#3545ff" fill-opacity="0.45"/>
<circle cx="469.6" cy="336.4" r="0.45" fill="#3545ff" fill-opacity="0.45"/>
<circle cx="468.2" cy="319.7" r="0.45" fill="#3545ff" fill-opacity="0.45"/>
<circle cx="473.5" cy="326.3" r="0.45" fill="#3545ff" fill-opacity="0.45"/>
<circle cx="469.2" cy="334.0" r="0.45" fill="#3545ff" fill-opacity="0.45"/>
<circle cx="473.2" cy="328.7" r="0.45" fill="#3545ff" fill-opacity="0.45"/>
<circle cx="468.2" cy="325.4" r="0.45" fill="#3545ff" fill-opacity="0.45"/>
<circle cx="472.3" cy="336.6" r="0.45" fill="#3545ff" fill-opacity="0.45"/>
<circle cx="474.8" cy="326.4" r="0.45" fill="#3545ff" fill-opacity="0.45"/>
<circle cx="470.6" cy="328.5" r="0.45" fill="#3545ff" fill-opacity="0.45"/>
<circle cx="473.7" cy="319.5" r="0.45" fill="#3545ff" fill-opacity="0.45"/>
<circle cx="472.9" cy="322.1" r="0.45" fill="#3545ff" fill-opacity="0.45"/>
<circle cx="472.3" cy="335.8" r="0.45" fill="#3545ff" fill-opacity="0.45"/>
<circle cx="469.4" cy="328.0" r="0.45" fill="#3545ff" fill-opacity="0.45"/>
<circle cx="465.1" cy="336.9" r="0.45" fill="#3545ff" fill-opacity="0.3"/>
<circle cx="452.3" cy="318.0" r="0.45" fill="#3545ff" fill-opacity="0.3"/>
<circle cx="460.4" cy="327.2" r="0.45" fill="#3545ff" fill-opacity="0.3"/>
<circle cx="446.1" cy="341.1" r="0.45" fill="#3545ff" fill-opacity="0.3"/>
<circle cx="456.6" cy="347.1" r="0.45" fill="#3545ff" fill-opacity="0.3"/>
<circle cx="471.9" cy="330.2" r="0.45" fill="#3545ff" fill-opacity="0.3"/>
<circle cx="470.5" cy="316.6" r="0.45" fill="#3545ff" fill-opacity="0.3"/>
<circle cx="458.9" cy="323.0" r="0.45" fill="#3545ff" fill-opacity="0.3"/>
<circle cx="448.5" cy="330.1" r="0.45" fill="#3545ff" fill-opacity="0.3"/>
<circle cx="460.9" cy="347.1" r="0.45" fill="#3545ff" fill-opacity="0.3"/>
<circle cx="452.4" cy="324.3" r="0.45" fill="#3545ff" fill-opacity="0.3"/>
<circle cx="467.1" cy="334.7" r="0.45" fill="#3545ff" fill-opacity="0.3"/>
<circle cx="462.8" cy="324.2" r="0.45" fill="#3545ff" fill-opacity="0.3"/>
<circle cx="467.9" cy="334.2" r="0.45" fill="#3545ff" fill-opacity="0.3"/>
<circle cx="447.4" cy="315.7" r="0.45" fill="#3545ff" fill-opacity="0.3"/>
<circle cx="464.1" cy="330.6" r="0.45" fill="#3545ff" fill-opacity="0.3"/>
<circle cx="463.8" cy="319.4" r="0.45" fill="#3545ff" fill-opacity="0.3"/>
<circle cx="460.3" cy="318.9" r="0.45" fill="#3545ff" fill-opacity="0.3"/>
<circle cx="466.7" cy="338.2" r="0.45" fill="#3545ff" fill-opacity="0.3"/>
<circle cx="481.8" cy="345.1" r="0.45" fill="#3545ff" fill-opacity="0.3"/>
<circle cx="453.6" cy="324.4" r="0.45" fill="#3545ff" fill-opacity="0.3"/>
<circle cx="452.2" cy="333.6" r="0.45" fill="#3545ff" fill-opacity="0.3"/>
<circle cx="484.3" cy="338.4" r="0.45" fill="#3545ff" fill-opacity="0.3"/>
<circle cx="448.3" cy="336.1" r="0.45" fill="#3545ff" fill-opacity="0.3"/>
<circle cx="462.5" cy="333.5" r="0.45" fill="#3545ff" fill-opacity="0.3"/>
<circle cx="482.1" cy="320.0" r="0.45" fill="#3545ff" fill-opacity="0.3"/>
<circle cx="466.3" cy="320.6" r="0.45" fill="#3545ff" fill-opacity="0.3"/>
<circle cx="463.0" cy="341.8" r="0.45" fill="#3545ff" fill-opacity="0.3"/>
<circle cx="461.0" cy="321.6" r="0.45" fill="#3545ff" fill-opacity="0.3"/>
<circle cx="443.1" cy="332.0" r="0.45" fill="#3545ff" fill-opacity="0.3"/>
<circle cx="462.8" cy="337.3" r="0.45" fill="#3545ff" fill-opacity="0.3"/>
<circle cx="458.0" cy="335.9" r="0.45" fill="#3545ff" fill-opacity="0.3"/>
<circle cx="471.5" cy="328.1" r="0.45" fill="#3545ff" fill-opacity="0.3"/>
<circle cx="457.5" cy="327.7" r="0.45" fill="#3545ff" fill-opacity="0.3"/>
<circle cx="451.9" cy="327.4" r="0.45" fill="#3545ff" fill-opacity="0.3"/>
<circle cx="459.2" cy="332.4" r="0.45" fill="#3545ff" fill-opacity="0.3"/>
<circle cx="477.2" cy="345.6" r="0.45" fill="#3545ff" fill-opacity="0.3"/>
<circle cx="457.6" cy="337.1" r="0.45" fill="#3545ff" fill-opacity="0.3"/>
<circle cx="465.7" cy="339.0" r="0.45" fill="#3545ff" fill-opacity="0.3"/>
<circle cx="462.7" cy="333.1" r="0.45" fill="#3545ff" fill-opacity="0.3"/>
<circle cx="457.3" cy="320.5" r="0.45" fill="#3545ff" fill-opacity="0.3"/>
<circle cx="472.1" cy="345.5" r="0.45" fill="#3545ff" fill-opacity="0.3"/>
<circle cx="469.8" cy="335.1" r="0.45" fill="#3545ff" fill-opacity="0.3"/>
<circle cx="465.4" cy="324.5" r="0.45" fill="#3545ff" fill-opacity="0.3"/>
<circle cx="464.7" cy="323.2" r="0.45" fill="#3545ff" fill-opacity="0.3"/>
<circle cx="451.9" cy="345.2" r="0.45" fill="#3545ff" fill-opacity="0.3"/>
<circle cx="454.6" cy="329.6" r="0.45" fill="#3545ff" fill-opacity="0.3"/>
<circle cx="456.9" cy="331.8" r="0.45" fill="#3545ff" fill-opacity="0.3"/>
<circle cx="460.2" cy="320.9" r="0.45" fill="#3545ff" fill-opacity="0.3"/>
<circle cx="474.3" cy="320.5" r="0.45" fill="#3545ff" fill-opacity="0.3"/>
<circle cx="456.9" cy="336.6" r="0.45" fill="#3545ff" fill-opacity="0.3"/>
<circle cx="456.6" cy="324.7" r="0.45" fill="#3545ff" fill-opacity="0.3"/>
<circle cx="466.4" cy="325.5" r="0.45" fill="#3545ff" fill-opacity="0.3"/>
<circle cx="448.8" cy="328.7" r="0.45" fill="#3545ff" fill-opacity="0.3"/>
<circle cx="450.4" cy="341.5" r="0.45" fill="#3545ff" fill-opacity="0.3"/>
<circle cx="453.9" cy="325.6" r="0.45" fill="#3545ff" fill-opacity="0.3"/>
<circle cx="458.9" cy="333.1" r="0.45" fill="#3545ff" fill-opacity="0.3"/>
<circle cx="455.5" cy="345.9" r="0.45" fill="#3545ff" fill-opacity="0.3"/>
<circle cx="473.4" cy="339.7" r="0.45" fill="#3545ff" fill-opacity="0.3"/>
<circle cx="454.1" cy="340.7" r="0.45" fill="#3545ff" fill-opacity="0.3"/>
<circle cx="461.3" cy="334.1" r="0.45" fill="#3545ff" fill-opacity="0.3"/>
<circle cx="459.5" cy="337.9" r="0.45" fill="#3545ff" fill-opacity="0.3"/>
<circle cx="474.8" cy="343.5" r="0.45" fill="#3545ff" fill-opacity="0.3"/>
<circle cx="460.2" cy="341.8" r="0.45" fill="#3545ff" fill-opacity="0.3"/>
<circle cx="478.5" cy="318.7" r="0.45" fill="#3545ff" fill-opacity="0.3"/>
<circle cx="478.7" cy="313.9" r="0.45" fill="#3545ff" fill-opacity="0.3"/>
<circle cx="468.5" cy="337.0" r="0.45" fill="#3545ff" fill-opacity="0.3"/>
<circle cx="478.8" cy="333.2" r="0.45" fill="#3545ff" fill-opacity="0.3"/>
<circle cx="457.2" cy="320.3" r="0.45" fill="#3545ff" fill-opacity="0.3"/>
<circle cx="448.7" cy="339.1" r="0.45" fill="#3545ff" fill-opacity="0.3"/>
<circle cx="459.9" cy="321.3" r="0.45" fill="#3545ff" fill-opacity="0.3"/>
<circle cx="468.4" cy="320.7" r="0.45" fill="#3545ff" fill-opacity="0.3"/>
<circle cx="457.7" cy="324.4" r="0.45" fill="#3545ff" fill-opacity="0.3"/>
<circle cx="480.7" cy="347.5" r="0.45" fill="#3545ff" fill-opacity="0.3"/>
<circle cx="460.8" cy="311.0" r="0.45" fill="#3545ff" fill-opacity="0.3"/>
<circle cx="465.5" cy="330.8" r="0.45" fill="#3545ff" fill-opacity="0.3"/>
<circle cx="466.3" cy="336.7" r="0.45" fill="#3545ff" fill-opacity="0.3"/>
<circle cx="459.0" cy="341.0" r="0.45" fill="#3545ff" fill-opacity="0.3"/>
<circle cx="471.7" cy="332.4" r="0.45" fill="#3545ff" fill-opacity="0.3"/>
<circle cx="458.0" cy="324.1" r="0.45" fill="#3545ff" fill-opacity="0.3"/>
<circle cx="470.1" cy="316.7" r="0.45" fill="#3545ff" fill-opacity="0.3"/>
<circle cx="460.7" cy="320.9" r="0.45" fill="#3545ff" fill-opacity="0.3"/>
<circle cx="447.2" cy="337.1" r="0.45" fill="#3545ff" fill-opacity="0.3"/>
<circle cx="462.2" cy="330.3" r="0.45" fill="#3545ff" fill-opacity="0.3"/>
<circle cx="472.1" cy="312.0" r="0.45" fill="#3545ff" fill-opacity="0.3"/>
<circle cx="461.8" cy="333.4" r="0.45" fill="#3545ff" fill-opacity="0.3"/>
<circle cx="471.7" cy="316.9" r="0.45" fill="#3545ff" fill-opacity="0.3"/>
<circle cx="470.4" cy="332.5" r="0.45" fill="#3545ff" fill-opacity="0.3"/>
<circle cx="477.4" cy="343.6" r="0.45" fill="#3545ff" fill-opacity="0.3"/>
<circle cx="462.5" cy="324.8" r="0.45" fill="#3545ff" fill-opacity="0.3"/>
<circle cx="458.8" cy="318.6" r="0.45" fill="#3545ff" fill-opacity="0.3"/>
<circle cx="462.2" cy="307.4" r="0.45" fill="#3545ff" fill-opacity="0.3"/>
<circle cx="461.6" cy="335.0" r="0.45" fill="#3545ff" fill-opacity="0.3"/>
<circle cx="473.4" cy="325.7" r="0.45" fill="#3545ff" fill-opacity="0.3"/>
<circle cx="477.8" cy="322.1" r="0.45" fill="#3545ff" fill-opacity="0.3"/>
<circle cx="461.0" cy="307.4" r="0.45" fill="#3545ff" fill-opacity="0.3"/>
<circle cx="454.1" cy="320.4" r="0.45" fill="#3545ff" fill-opacity="0.3"/>
<circle cx="478.5" cy="336.1" r="0.45" fill="#3545ff" fill-opacity="0.3"/>
<circle cx="450.6" cy="336.2" r="0.45" fill="#3545ff" fill-opacity="0.3"/>
<circle cx="467.7" cy="327.2" r="0.45" fill="#3545ff" fill-opacity="0.3"/>
<circle cx="462.7" cy="326.3" r="0.45" fill="#3545ff" fill-opacity="0.3"/>
<circle cx="456.7" cy="309.1" r="0.45" fill="#3545ff" fill-opacity="0.3"/>
<circle cx="461.5" cy="345.0" r="0.45" fill="#3545ff" fill-opacity="0.3"/>
<circle cx="477.9" cy="326.6" r="0.45" fill="#3545ff" fill-opacity="0.3"/>
<circle cx="454.5" cy="327.4" r="0.45" fill="#3545ff" fill-opacity="0.3"/>
<circle cx="472.1" cy="334.0" r="0.45" fill="#3545ff" fill-opacity="0.3"/>
<ellipse cx="448.5" cy="317.9" rx="6.2" ry="9.5" fill="url(#blobB)"/>
<ellipse cx="471.5" cy="344.1" rx="6.0" ry="3.6" fill="url(#blob)"/>
<rect x="457.40" y="328.60" width="29.00" height="20.50" fill="none" stroke="#222" stroke-width="1.1" />
<text x="486.50" y="314.90" font-size="6.6" text-anchor="end" font-weight="normal" font-style="normal" fill="#222" stroke="#222" >51.9</text>
<rect x="509.70" y="305.20" width="45.90" height="45.30" fill="#fff" stroke="#b8b8b8" stroke-width="0.9" />
<line x1="508.50" y1="309.20" x2="510.30" y2="309.20" stroke="#777" stroke-width="0.6"/>
<line x1="508.50" y1="318.52" x2="510.30" y2="318.52" stroke="#777" stroke-width="0.6"/>
<line x1="508.50" y1="327.85" x2="510.30" y2="327.85" stroke="#777" stroke-width="0.6"/>
<line x1="508.50" y1="337.18" x2="510.30" y2="337.18" stroke="#777" stroke-width="0.6"/>
<line x1="508.50" y1="346.50" x2="510.30" y2="346.50" stroke="#777" stroke-width="0.6"/>
<line x1="513.70" y1="349.90" x2="513.70" y2="351.70" stroke="#777" stroke-width="0.6"/>
<line x1="523.18" y1="349.90" x2="523.18" y2="351.70" stroke="#777" stroke-width="0.6"/>
<line x1="532.65" y1="349.90" x2="532.65" y2="351.70" stroke="#777" stroke-width="0.6"/>
<line x1="542.13" y1="349.90" x2="542.13" y2="351.70" stroke="#777" stroke-width="0.6"/>
<line x1="551.60" y1="349.90" x2="551.60" y2="351.70" stroke="#777" stroke-width="0.6"/>
<ellipse cx="517.2" cy="336.2" rx="7.5" ry="12" fill="url(#haze)"/>
<ellipse cx="526.7" cy="330.2" rx="12" ry="8" fill="url(#haze)" fill-opacity="0.6" transform="rotate(-40 526.7 330.2)"/>
<circle cx="515.0" cy="337.3" r="0.45" fill="#3545ff" fill-opacity="0.45"/>
<circle cx="516.0" cy="338.2" r="0.45" fill="#3545ff" fill-opacity="0.45"/>
<circle cx="515.5" cy="326.6" r="0.45" fill="#3545ff" fill-opacity="0.45"/>
<circle cx="516.6" cy="339.7" r="0.45" fill="#3545ff" fill-opacity="0.45"/>
<circle cx="513.7" cy="334.6" r="0.45" fill="#3545ff" fill-opacity="0.45"/>
<circle cx="518.7" cy="333.0" r="0.45" fill="#3545ff" fill-opacity="0.45"/>
<circle cx="514.9" cy="347.1" r="0.45" fill="#3545ff" fill-opacity="0.45"/>
<circle cx="518.6" cy="341.2" r="0.45" fill="#3545ff" fill-opacity="0.45"/>
<circle cx="514.1" cy="344.7" r="0.45" fill="#3545ff" fill-opacity="0.45"/>
<circle cx="512.3" cy="332.2" r="0.45" fill="#3545ff" fill-opacity="0.45"/>
<circle cx="518.4" cy="343.0" r="0.45" fill="#3545ff" fill-opacity="0.45"/>
<circle cx="514.1" cy="331.3" r="0.45" fill="#3545ff" fill-opacity="0.45"/>
<circle cx="517.0" cy="323.9" r="0.45" fill="#3545ff" fill-opacity="0.45"/>
<circle cx="518.1" cy="338.5" r="0.45" fill="#3545ff" fill-opacity="0.45"/>
<circle cx="515.4" cy="338.3" r="0.45" fill="#3545ff" fill-opacity="0.45"/>
<circle cx="518.5" cy="337.0" r="0.45" fill="#3545ff" fill-opacity="0.45"/>
<circle cx="517.8" cy="344.0" r="0.45" fill="#3545ff" fill-opacity="0.45"/>
<circle cx="515.3" cy="336.1" r="0.45" fill="#3545ff" fill-opacity="0.45"/>
<circle cx="515.2" cy="341.2" r="0.45" fill="#3545ff" fill-opacity="0.45"/>
<circle cx="515.5" cy="338.0" r="0.45" fill="#3545ff" fill-opacity="0.45"/>
<circle cx="516.8" cy="335.6" r="0.45" fill="#3545ff" fill-opacity="0.45"/>
<circle cx="520.8" cy="334.7" r="0.45" fill="#3545ff" fill-opacity="0.45"/>
<circle cx="520.1" cy="340.0" r="0.45" fill="#3545ff" fill-opacity="0.45"/>
<circle cx="519.8" cy="334.2" r="0.45" fill="#3545ff" fill-opacity="0.45"/>
<circle cx="518.8" cy="339.6" r="0.45" fill="#3545ff" fill-opacity="0.45"/>
<circle cx="515.0" cy="336.8" r="0.45" fill="#3545ff" fill-opacity="0.45"/>
<circle cx="516.2" cy="335.0" r="0.45" fill="#3545ff" fill-opacity="0.45"/>
<circle cx="519.8" cy="331.0" r="0.45" fill="#3545ff" fill-opacity="0.45"/>
<circle cx="512.3" cy="325.1" r="0.45" fill="#3545ff" fill-opacity="0.45"/>
<circle cx="515.4" cy="331.5" r="0.45" fill="#3545ff" fill-opacity="0.45"/>
<circle cx="516.5" cy="338.5" r="0.45" fill="#3545ff" fill-opacity="0.45"/>
<circle cx="520.9" cy="337.0" r="0.45" fill="#3545ff" fill-opacity="0.45"/>
<circle cx="517.7" cy="330.9" r="0.45" fill="#3545ff" fill-opacity="0.45"/>
<circle cx="518.0" cy="343.1" r="0.45" fill="#3545ff" fill-opacity="0.45"/>
<circle cx="519.9" cy="323.9" r="0.45" fill="#3545ff" fill-opacity="0.45"/>
<circle cx="518.7" cy="344.4" r="0.45" fill="#3545ff" fill-opacity="0.45"/>
<circle cx="518.6" cy="326.6" r="0.45" fill="#3545ff" fill-opacity="0.45"/>
<circle cx="515.7" cy="338.6" r="0.45" fill="#3545ff" fill-opacity="0.45"/>
<circle cx="517.5" cy="330.5" r="0.45" fill="#3545ff" fill-opacity="0.45"/>
<circle cx="514.3" cy="340.8" r="0.45" fill="#3545ff" fill-opacity="0.45"/>
<circle cx="513.2" cy="343.5" r="0.45" fill="#3545ff" fill-opacity="0.45"/>
<circle cx="516.6" cy="336.9" r="0.45" fill="#3545ff" fill-opacity="0.45"/>
<circle cx="513.2" cy="331.8" r="0.45" fill="#3545ff" fill-opacity="0.45"/>
<circle cx="518.2" cy="326.7" r="0.45" fill="#3545ff" fill-opacity="0.45"/>
<circle cx="521.7" cy="327.1" r="0.45" fill="#3545ff" fill-opacity="0.45"/>
<circle cx="513.4" cy="335.4" r="0.45" fill="#3545ff" fill-opacity="0.45"/>
<circle cx="517.7" cy="339.4" r="0.45" fill="#3545ff" fill-opacity="0.45"/>
<circle cx="515.6" cy="334.0" r="0.45" fill="#3545ff" fill-opacity="0.45"/>
<circle cx="515.9" cy="331.9" r="0.45" fill="#3545ff" fill-opacity="0.45"/>
<circle cx="517.1" cy="336.1" r="0.45" fill="#3545ff" fill-opacity="0.45"/>
<circle cx="514.9" cy="336.6" r="0.45" fill="#3545ff" fill-opacity="0.45"/>
<circle cx="516.5" cy="334.8" r="0.45" fill="#3545ff" fill-opacity="0.45"/>
<circle cx="519.3" cy="325.3" r="0.45" fill="#3545ff" fill-opacity="0.45"/>
<circle cx="517.1" cy="329.1" r="0.45" fill="#3545ff" fill-opacity="0.45"/>
<circle cx="515.7" cy="343.8" r="0.45" fill="#3545ff" fill-opacity="0.45"/>
<circle cx="513.8" cy="334.6" r="0.45" fill="#3545ff" fill-opacity="0.45"/>
<circle cx="515.0" cy="340.7" r="0.45" fill="#3545ff" fill-opacity="0.45"/>
<circle cx="514.1" cy="325.5" r="0.45" fill="#3545ff" fill-opacity="0.45"/>
<circle cx="517.8" cy="333.2" r="0.45" fill="#3545ff" fill-opacity="0.45"/>
<circle cx="515.7" cy="341.4" r="0.45" fill="#3545ff" fill-opacity="0.45"/>
<circle cx="514.3" cy="333.0" r="0.45" fill="#3545ff" fill-opacity="0.45"/>
<circle cx="516.9" cy="337.6" r="0.45" fill="#3545ff" fill-opacity="0.45"/>
<circle cx="515.2" cy="341.2" r="0.45" fill="#3545ff" fill-opacity="0.45"/>
<circle cx="522.1" cy="332.8" r="0.45" fill="#3545ff" fill-opacity="0.45"/>
<circle cx="521.2" cy="323.0" r="0.45" fill="#3545ff" fill-opacity="0.45"/>
<circle cx="520.0" cy="333.2" r="0.45" fill="#3545ff" fill-opacity="0.45"/>
<circle cx="516.8" cy="333.2" r="0.45" fill="#3545ff" fill-opacity="0.45"/>
<circle cx="514.9" cy="327.8" r="0.45" fill="#3545ff" fill-opacity="0.45"/>
<circle cx="515.5" cy="342.7" r="0.45" fill="#3545ff" fill-opacity="0.45"/>
<circle cx="519.3" cy="333.2" r="0.45" fill="#3545ff" fill-opacity="0.45"/>
<circle cx="515.2" cy="331.2" r="0.45" fill="#3545ff" fill-opacity="0.45"/>
<circle cx="513.5" cy="345.6" r="0.45" fill="#3545ff" fill-opacity="0.45"/>
<circle cx="518.2" cy="335.9" r="0.45" fill="#3545ff" fill-opacity="0.45"/>
<circle cx="515.3" cy="329.3" r="0.45" fill="#3545ff" fill-opacity="0.45"/>
<circle cx="519.8" cy="339.7" r="0.45" fill="#3545ff" fill-opacity="0.45"/>
<circle cx="514.1" cy="340.9" r="0.45" fill="#3545ff" fill-opacity="0.45"/>
<circle cx="513.7" cy="338.9" r="0.45" fill="#3545ff" fill-opacity="0.45"/>
<circle cx="514.1" cy="332.8" r="0.45" fill="#3545ff" fill-opacity="0.45"/>
<circle cx="517.7" cy="337.7" r="0.45" fill="#3545ff" fill-opacity="0.45"/>
<circle cx="519.0" cy="330.4" r="0.45" fill="#3545ff" fill-opacity="0.45"/>
<circle cx="520.4" cy="342.9" r="0.45" fill="#3545ff" fill-opacity="0.45"/>
<circle cx="516.5" cy="337.9" r="0.45" fill="#3545ff" fill-opacity="0.45"/>
<circle cx="514.6" cy="334.3" r="0.45" fill="#3545ff" fill-opacity="0.45"/>
<circle cx="513.2" cy="335.7" r="0.45" fill="#3545ff" fill-opacity="0.45"/>
<circle cx="517.0" cy="342.9" r="0.45" fill="#3545ff" fill-opacity="0.45"/>
<circle cx="518.9" cy="339.9" r="0.45" fill="#3545ff" fill-opacity="0.45"/>
<circle cx="515.6" cy="333.9" r="0.45" fill="#3545ff" fill-opacity="0.45"/>
<circle cx="515.6" cy="336.5" r="0.45" fill="#3545ff" fill-opacity="0.45"/>
<circle cx="511.7" cy="339.6" r="0.45" fill="#3545ff" fill-opacity="0.45"/>
<circle cx="512.6" cy="332.2" r="0.45" fill="#3545ff" fill-opacity="0.45"/>
<circle cx="516.6" cy="332.2" r="0.45" fill="#3545ff" fill-opacity="0.45"/>
<circle cx="520.7" cy="334.6" r="0.45" fill="#3545ff" fill-opacity="0.45"/>
<circle cx="520.4" cy="342.0" r="0.45" fill="#3545ff" fill-opacity="0.45"/>
<circle cx="515.3" cy="337.5" r="0.45" fill="#3545ff" fill-opacity="0.45"/>
<circle cx="519.7" cy="333.3" r="0.45" fill="#3545ff" fill-opacity="0.45"/>
<circle cx="516.7" cy="332.0" r="0.45" fill="#3545ff" fill-opacity="0.45"/>
<circle cx="516.6" cy="333.2" r="0.45" fill="#3545ff" fill-opacity="0.45"/>
<circle cx="516.7" cy="341.0" r="0.45" fill="#3545ff" fill-opacity="0.45"/>
<circle cx="520.0" cy="336.0" r="0.45" fill="#3545ff" fill-opacity="0.45"/>
<circle cx="517.0" cy="340.1" r="0.45" fill="#3545ff" fill-opacity="0.45"/>
<circle cx="515.8" cy="329.1" r="0.45" fill="#3545ff" fill-opacity="0.45"/>
<circle cx="519.3" cy="329.8" r="0.45" fill="#3545ff" fill-opacity="0.45"/>
<circle cx="518.8" cy="329.6" r="0.45" fill="#3545ff" fill-opacity="0.45"/>
<circle cx="521.1" cy="329.2" r="0.45" fill="#3545ff" fill-opacity="0.45"/>
<circle cx="518.6" cy="343.8" r="0.45" fill="#3545ff" fill-opacity="0.45"/>
<circle cx="514.1" cy="343.8" r="0.45" fill="#3545ff" fill-opacity="0.45"/>
<circle cx="514.4" cy="325.0" r="0.45" fill="#3545ff" fill-opacity="0.45"/>
<circle cx="518.3" cy="339.2" r="0.45" fill="#3545ff" fill-opacity="0.45"/>
<circle cx="516.0" cy="320.7" r="0.45" fill="#3545ff" fill-opacity="0.45"/>
<circle cx="516.4" cy="333.4" r="0.45" fill="#3545ff" fill-opacity="0.45"/>
<circle cx="515.6" cy="333.5" r="0.45" fill="#3545ff" fill-opacity="0.45"/>
<circle cx="512.0" cy="331.9" r="0.45" fill="#3545ff" fill-opacity="0.45"/>
<circle cx="521.0" cy="344.1" r="0.45" fill="#3545ff" fill-opacity="0.45"/>
<circle cx="515.6" cy="331.1" r="0.45" fill="#3545ff" fill-opacity="0.45"/>
<circle cx="517.5" cy="341.3" r="0.45" fill="#3545ff" fill-opacity="0.45"/>
<circle cx="518.3" cy="328.5" r="0.45" fill="#3545ff" fill-opacity="0.45"/>
<circle cx="516.9" cy="336.0" r="0.45" fill="#3545ff" fill-opacity="0.45"/>
<circle cx="520.1" cy="342.1" r="0.45" fill="#3545ff" fill-opacity="0.45"/>
<circle cx="517.8" cy="342.2" r="0.45" fill="#3545ff" fill-opacity="0.45"/>
<circle cx="515.5" cy="344.1" r="0.45" fill="#3545ff" fill-opacity="0.45"/>
<circle cx="515.4" cy="337.5" r="0.45" fill="#3545ff" fill-opacity="0.45"/>
<circle cx="518.8" cy="329.9" r="0.45" fill="#3545ff" fill-opacity="0.45"/>
<circle cx="514.7" cy="325.1" r="0.45" fill="#3545ff" fill-opacity="0.45"/>
<circle cx="516.9" cy="334.9" r="0.45" fill="#3545ff" fill-opacity="0.45"/>
<circle cx="515.7" cy="338.1" r="0.45" fill="#3545ff" fill-opacity="0.45"/>
<circle cx="511.2" cy="335.1" r="0.45" fill="#3545ff" fill-opacity="0.45"/>
<circle cx="516.7" cy="333.7" r="0.45" fill="#3545ff" fill-opacity="0.45"/>
<circle cx="518.5" cy="345.3" r="0.45" fill="#3545ff" fill-opacity="0.45"/>
<circle cx="515.4" cy="329.8" r="0.45" fill="#3545ff" fill-opacity="0.45"/>
<circle cx="515.0" cy="335.7" r="0.45" fill="#3545ff" fill-opacity="0.45"/>
<circle cx="518.0" cy="330.2" r="0.45" fill="#3545ff" fill-opacity="0.45"/>
<circle cx="519.0" cy="329.3" r="0.45" fill="#3545ff" fill-opacity="0.45"/>
<circle cx="518.6" cy="337.7" r="0.45" fill="#3545ff" fill-opacity="0.45"/>
<circle cx="517.7" cy="347.6" r="0.45" fill="#3545ff" fill-opacity="0.45"/>
<circle cx="515.8" cy="334.2" r="0.45" fill="#3545ff" fill-opacity="0.45"/>
<circle cx="517.7" cy="340.2" r="0.45" fill="#3545ff" fill-opacity="0.45"/>
<circle cx="513.2" cy="336.8" r="0.45" fill="#3545ff" fill-opacity="0.45"/>
<circle cx="514.6" cy="338.8" r="0.45" fill="#3545ff" fill-opacity="0.45"/>
<circle cx="519.9" cy="335.5" r="0.45" fill="#3545ff" fill-opacity="0.45"/>
<circle cx="516.2" cy="336.3" r="0.45" fill="#3545ff" fill-opacity="0.45"/>
<circle cx="517.9" cy="336.1" r="0.45" fill="#3545ff" fill-opacity="0.45"/>
<circle cx="515.5" cy="331.0" r="0.45" fill="#3545ff" fill-opacity="0.45"/>
<circle cx="516.1" cy="342.2" r="0.45" fill="#3545ff" fill-opacity="0.45"/>
<circle cx="516.2" cy="343.0" r="0.45" fill="#3545ff" fill-opacity="0.45"/>
<circle cx="517.2" cy="335.1" r="0.45" fill="#3545ff" fill-opacity="0.45"/>
<circle cx="512.4" cy="331.4" r="0.45" fill="#3545ff" fill-opacity="0.45"/>
<circle cx="519.6" cy="327.8" r="0.45" fill="#3545ff" fill-opacity="0.45"/>
<circle cx="514.0" cy="328.9" r="0.45" fill="#3545ff" fill-opacity="0.45"/>
<circle cx="515.1" cy="338.9" r="0.45" fill="#3545ff" fill-opacity="0.45"/>
<circle cx="518.0" cy="323.5" r="0.45" fill="#3545ff" fill-opacity="0.45"/>
<circle cx="520.1" cy="331.8" r="0.45" fill="#3545ff" fill-opacity="0.45"/>
<circle cx="515.0" cy="344.8" r="0.45" fill="#3545ff" fill-opacity="0.45"/>
<circle cx="516.3" cy="328.1" r="0.45" fill="#3545ff" fill-opacity="0.45"/>
<circle cx="514.9" cy="331.0" r="0.45" fill="#3545ff" fill-opacity="0.45"/>
<circle cx="514.0" cy="333.3" r="0.45" fill="#3545ff" fill-opacity="0.45"/>
<circle cx="518.7" cy="337.2" r="0.45" fill="#3545ff" fill-opacity="0.45"/>
<circle cx="514.0" cy="335.9" r="0.45" fill="#3545ff" fill-opacity="0.45"/>
<circle cx="516.6" cy="339.6" r="0.45" fill="#3545ff" fill-opacity="0.45"/>
<circle cx="515.7" cy="337.8" r="0.45" fill="#3545ff" fill-opacity="0.45"/>
<circle cx="521.8" cy="335.8" r="0.45" fill="#3545ff" fill-opacity="0.45"/>
<circle cx="513.8" cy="337.1" r="0.45" fill="#3545ff" fill-opacity="0.45"/>
<circle cx="514.5" cy="333.1" r="0.45" fill="#3545ff" fill-opacity="0.45"/>
<circle cx="517.0" cy="337.1" r="0.45" fill="#3545ff" fill-opacity="0.45"/>
<circle cx="515.8" cy="340.1" r="0.45" fill="#3545ff" fill-opacity="0.45"/>
<circle cx="516.0" cy="327.7" r="0.45" fill="#3545ff" fill-opacity="0.45"/>
<circle cx="518.7" cy="333.1" r="0.45" fill="#3545ff" fill-opacity="0.45"/>
<circle cx="519.5" cy="331.4" r="0.45" fill="#3545ff" fill-opacity="0.45"/>
<circle cx="517.9" cy="337.0" r="0.45" fill="#3545ff" fill-opacity="0.45"/>
<circle cx="513.7" cy="343.3" r="0.45" fill="#3545ff" fill-opacity="0.45"/>
<circle cx="511.8" cy="340.5" r="0.45" fill="#3545ff" fill-opacity="0.45"/>
<circle cx="519.2" cy="338.1" r="0.45" fill="#3545ff" fill-opacity="0.45"/>
<circle cx="518.2" cy="332.3" r="0.45" fill="#3545ff" fill-opacity="0.45"/>
<circle cx="516.5" cy="336.5" r="0.45" fill="#3545ff" fill-opacity="0.45"/>
<circle cx="517.6" cy="339.3" r="0.45" fill="#3545ff" fill-opacity="0.45"/>
<circle cx="516.0" cy="331.2" r="0.45" fill="#3545ff" fill-opacity="0.45"/>
<circle cx="515.1" cy="337.6" r="0.45" fill="#3545ff" fill-opacity="0.45"/>
<circle cx="512.4" cy="328.0" r="0.45" fill="#3545ff" fill-opacity="0.45"/>
<circle cx="515.5" cy="332.0" r="0.45" fill="#3545ff" fill-opacity="0.45"/>
<circle cx="515.8" cy="319.9" r="0.45" fill="#3545ff" fill-opacity="0.45"/>
<circle cx="515.6" cy="333.8" r="0.45" fill="#3545ff" fill-opacity="0.45"/>
<circle cx="518.4" cy="323.8" r="0.45" fill="#3545ff" fill-opacity="0.45"/>
<circle cx="515.7" cy="337.9" r="0.45" fill="#3545ff" fill-opacity="0.45"/>
<circle cx="517.7" cy="342.1" r="0.45" fill="#3545ff" fill-opacity="0.45"/>
<circle cx="519.1" cy="329.2" r="0.45" fill="#3545ff" fill-opacity="0.45"/>
<circle cx="518.1" cy="333.3" r="0.45" fill="#3545ff" fill-opacity="0.45"/>
<circle cx="514.5" cy="344.0" r="0.45" fill="#3545ff" fill-opacity="0.45"/>
<circle cx="514.9" cy="330.3" r="0.45" fill="#3545ff" fill-opacity="0.45"/>
<circle cx="515.5" cy="330.3" r="0.45" fill="#3545ff" fill-opacity="0.45"/>
<circle cx="519.0" cy="337.4" r="0.45" fill="#3545ff" fill-opacity="0.45"/>
<circle cx="520.0" cy="337.6" r="0.45" fill="#3545ff" fill-opacity="0.45"/>
<circle cx="515.0" cy="341.2" r="0.45" fill="#3545ff" fill-opacity="0.45"/>
<circle cx="514.9" cy="332.5" r="0.45" fill="#3545ff" fill-opacity="0.45"/>
<circle cx="516.1" cy="335.4" r="0.45" fill="#3545ff" fill-opacity="0.45"/>
<circle cx="519.5" cy="331.7" r="0.45" fill="#3545ff" fill-opacity="0.45"/>
<circle cx="517.4" cy="335.0" r="0.45" fill="#3545ff" fill-opacity="0.45"/>
<circle cx="532.8" cy="323.5" r="0.45" fill="#3545ff" fill-opacity="0.4"/>
<circle cx="522.5" cy="338.3" r="0.45" fill="#3545ff" fill-opacity="0.4"/>
<circle cx="540.5" cy="324.8" r="0.45" fill="#3545ff" fill-opacity="0.4"/>
<circle cx="525.8" cy="329.1" r="0.45" fill="#3545ff" fill-opacity="0.4"/>
<circle cx="530.0" cy="324.2" r="0.45" fill="#3545ff" fill-opacity="0.4"/>
<circle cx="526.9" cy="330.0" r="0.45" fill="#3545ff" fill-opacity="0.4"/>
<circle cx="535.7" cy="319.2" r="0.45" fill="#3545ff" fill-opacity="0.4"/>
<circle cx="527.5" cy="325.6" r="0.45" fill="#3545ff" fill-opacity="0.4"/>
<circle cx="529.1" cy="332.2" r="0.45" fill="#3545ff" fill-opacity="0.4"/>
<circle cx="540.6" cy="318.7" r="0.45" fill="#3545ff" fill-opacity="0.4"/>
<circle cx="527.8" cy="325.2" r="0.45" fill="#3545ff" fill-opacity="0.4"/>
<circle cx="529.5" cy="331.1" r="0.45" fill="#3545ff" fill-opacity="0.4"/>
<circle cx="536.8" cy="322.9" r="0.45" fill="#3545ff" fill-opacity="0.4"/>
<circle cx="525.4" cy="337.3" r="0.45" fill="#3545ff" fill-opacity="0.4"/>
<circle cx="534.4" cy="332.4" r="0.45" fill="#3545ff" fill-opacity="0.4"/>
<circle cx="528.7" cy="332.4" r="0.45" fill="#3545ff" fill-opacity="0.4"/>
<circle cx="537.2" cy="322.3" r="0.45" fill="#3545ff" fill-opacity="0.4"/>
<circle cx="520.7" cy="336.7" r="0.45" fill="#3545ff" fill-opacity="0.4"/>
<circle cx="537.8" cy="317.6" r="0.45" fill="#3545ff" fill-opacity="0.4"/>
<circle cx="528.1" cy="329.0" r="0.45" fill="#3545ff" fill-opacity="0.4"/>
<circle cx="527.8" cy="331.4" r="0.45" fill="#3545ff" fill-opacity="0.4"/>
<circle cx="539.1" cy="324.5" r="0.45" fill="#3545ff" fill-opacity="0.4"/>
<circle cx="529.1" cy="329.7" r="0.45" fill="#3545ff" fill-opacity="0.4"/>
<circle cx="527.4" cy="329.8" r="0.45" fill="#3545ff" fill-opacity="0.4"/>
<circle cx="539.2" cy="317.1" r="0.45" fill="#3545ff" fill-opacity="0.4"/>
<circle cx="525.0" cy="336.3" r="0.45" fill="#3545ff" fill-opacity="0.4"/>
<circle cx="526.0" cy="338.1" r="0.45" fill="#3545ff" fill-opacity="0.4"/>
<circle cx="531.4" cy="332.7" r="0.45" fill="#3545ff" fill-opacity="0.4"/>
<circle cx="523.1" cy="333.8" r="0.45" fill="#3545ff" fill-opacity="0.4"/>
<circle cx="540.0" cy="318.8" r="0.45" fill="#3545ff" fill-opacity="0.4"/>
<circle cx="537.1" cy="320.8" r="0.45" fill="#3545ff" fill-opacity="0.4"/>
<circle cx="521.8" cy="332.4" r="0.45" fill="#3545ff" fill-opacity="0.4"/>
<circle cx="521.9" cy="332.6" r="0.45" fill="#3545ff" fill-opacity="0.4"/>
<circle cx="525.1" cy="326.8" r="0.45" fill="#3545ff" fill-opacity="0.4"/>
<circle cx="526.1" cy="333.0" r="0.45" fill="#3545ff" fill-opacity="0.4"/>
<circle cx="537.9" cy="320.8" r="0.45" fill="#3545ff" fill-opacity="0.4"/>
<circle cx="540.8" cy="320.1" r="0.45" fill="#3545ff" fill-opacity="0.4"/>
<circle cx="525.4" cy="343.0" r="0.45" fill="#3545ff" fill-opacity="0.4"/>
<circle cx="521.1" cy="338.2" r="0.45" fill="#3545ff" fill-opacity="0.4"/>
<circle cx="537.1" cy="323.9" r="0.45" fill="#3545ff" fill-opacity="0.4"/>
<circle cx="536.6" cy="325.4" r="0.45" fill="#3545ff" fill-opacity="0.4"/>
<circle cx="538.8" cy="313.9" r="0.45" fill="#3545ff" fill-opacity="0.4"/>
<circle cx="543.0" cy="318.0" r="0.45" fill="#3545ff" fill-opacity="0.4"/>
<circle cx="536.9" cy="321.1" r="0.45" fill="#3545ff" fill-opacity="0.4"/>
<circle cx="531.1" cy="330.7" r="0.45" fill="#3545ff" fill-opacity="0.4"/>
<circle cx="529.6" cy="337.8" r="0.45" fill="#3545ff" fill-opacity="0.4"/>
<circle cx="527.6" cy="331.4" r="0.45" fill="#3545ff" fill-opacity="0.4"/>
<circle cx="532.2" cy="330.5" r="0.45" fill="#3545ff" fill-opacity="0.4"/>
<circle cx="523.1" cy="334.0" r="0.45" fill="#3545ff" fill-opacity="0.4"/>
<circle cx="534.7" cy="323.0" r="0.45" fill="#3545ff" fill-opacity="0.4"/>
<circle cx="521.9" cy="331.6" r="0.45" fill="#3545ff" fill-opacity="0.4"/>
<circle cx="528.8" cy="337.9" r="0.45" fill="#3545ff" fill-opacity="0.4"/>
<circle cx="538.9" cy="317.8" r="0.45" fill="#3545ff" fill-opacity="0.4"/>
<circle cx="523.5" cy="336.2" r="0.45" fill="#3545ff" fill-opacity="0.4"/>
<circle cx="518.1" cy="338.1" r="0.45" fill="#3545ff" fill-opacity="0.4"/>
<circle cx="531.7" cy="327.2" r="0.45" fill="#3545ff" fill-opacity="0.4"/>
<circle cx="533.0" cy="321.5" r="0.45" fill="#3545ff" fill-opacity="0.4"/>
<circle cx="529.2" cy="320.5" r="0.45" fill="#3545ff" fill-opacity="0.4"/>
<circle cx="538.4" cy="317.5" r="0.45" fill="#3545ff" fill-opacity="0.4"/>
<circle cx="520.8" cy="335.5" r="0.45" fill="#3545ff" fill-opacity="0.4"/>
<circle cx="526.3" cy="332.4" r="0.45" fill="#3545ff" fill-opacity="0.4"/>
<circle cx="523.1" cy="336.1" r="0.45" fill="#3545ff" fill-opacity="0.4"/>
<circle cx="534.8" cy="325.0" r="0.45" fill="#3545ff" fill-opacity="0.4"/>
<circle cx="531.8" cy="327.1" r="0.45" fill="#3545ff" fill-opacity="0.4"/>
<circle cx="527.7" cy="338.0" r="0.45" fill="#3545ff" fill-opacity="0.4"/>
<circle cx="537.6" cy="321.5" r="0.45" fill="#3545ff" fill-opacity="0.4"/>
<circle cx="533.3" cy="327.1" r="0.45" fill="#3545ff" fill-opacity="0.4"/>
<circle cx="529.1" cy="333.2" r="0.45" fill="#3545ff" fill-opacity="0.4"/>
<circle cx="519.6" cy="334.3" r="0.45" fill="#3545ff" fill-opacity="0.4"/>
<circle cx="524.1" cy="323.5" r="0.45" fill="#3545ff" fill-opacity="0.4"/>
<circle cx="522.0" cy="331.0" r="0.45" fill="#3545ff" fill-opacity="0.4"/>
<circle cx="527.4" cy="328.4" r="0.45" fill="#3545ff" fill-opacity="0.4"/>
<circle cx="528.4" cy="325.2" r="0.45" fill="#3545ff" fill-opacity="0.4"/>
<circle cx="524.6" cy="329.8" r="0.45" fill="#3545ff" fill-opacity="0.4"/>
<circle cx="523.1" cy="333.0" r="0.45" fill="#3545ff" fill-opacity="0.4"/>
<circle cx="535.8" cy="319.9" r="0.45" fill="#3545ff" fill-opacity="0.4"/>
<circle cx="529.4" cy="328.0" r="0.45" fill="#3545ff" fill-opacity="0.4"/>
<circle cx="525.6" cy="334.7" r="0.45" fill="#3545ff" fill-opacity="0.4"/>
<circle cx="526.7" cy="326.9" r="0.45" fill="#3545ff" fill-opacity="0.4"/>
<circle cx="527.1" cy="338.1" r="0.45" fill="#3545ff" fill-opacity="0.4"/>
<circle cx="526.9" cy="325.5" r="0.45" fill="#3545ff" fill-opacity="0.4"/>
<circle cx="539.9" cy="319.0" r="0.45" fill="#3545ff" fill-opacity="0.4"/>
<circle cx="530.4" cy="326.8" r="0.45" fill="#3545ff" fill-opacity="0.4"/>
<circle cx="523.5" cy="338.1" r="0.45" fill="#3545ff" fill-opacity="0.4"/>
<circle cx="519.2" cy="340.5" r="0.45" fill="#3545ff" fill-opacity="0.4"/>
<circle cx="530.1" cy="328.0" r="0.45" fill="#3545ff" fill-opacity="0.4"/>
<circle cx="532.3" cy="330.4" r="0.45" fill="#3545ff" fill-opacity="0.4"/>
<circle cx="525.2" cy="329.9" r="0.45" fill="#3545ff" fill-opacity="0.4"/>
<circle cx="538.6" cy="325.6" r="0.45" fill="#3545ff" fill-opacity="0.4"/>
<circle cx="525.9" cy="330.9" r="0.45" fill="#3545ff" fill-opacity="0.4"/>
<circle cx="526.5" cy="333.1" r="0.45" fill="#3545ff" fill-opacity="0.4"/>
<circle cx="521.1" cy="341.9" r="0.45" fill="#3545ff" fill-opacity="0.4"/>
<circle cx="522.7" cy="341.5" r="0.45" fill="#3545ff" fill-opacity="0.4"/>
<circle cx="524.9" cy="334.8" r="0.45" fill="#3545ff" fill-opacity="0.4"/>
<circle cx="541.0" cy="322.8" r="0.45" fill="#3545ff" fill-opacity="0.4"/>
<circle cx="539.4" cy="322.8" r="0.45" fill="#3545ff" fill-opacity="0.4"/>
<circle cx="535.4" cy="320.1" r="0.45" fill="#3545ff" fill-opacity="0.4"/>
<circle cx="518.4" cy="339.1" r="0.45" fill="#3545ff" fill-opacity="0.4"/>
<circle cx="534.7" cy="326.0" r="0.45" fill="#3545ff" fill-opacity="0.4"/>
<circle cx="534.8" cy="322.8" r="0.45" fill="#3545ff" fill-opacity="0.4"/>
<circle cx="523.2" cy="328.0" r="0.45" fill="#3545ff" fill-opacity="0.4"/>
<circle cx="527.8" cy="334.3" r="0.45" fill="#3545ff" fill-opacity="0.4"/>
<circle cx="526.8" cy="329.1" r="0.45" fill="#3545ff" fill-opacity="0.4"/>
<circle cx="521.3" cy="335.2" r="0.45" fill="#3545ff" fill-opacity="0.4"/>
<circle cx="525.9" cy="327.7" r="0.45" fill="#3545ff" fill-opacity="0.4"/>
<circle cx="539.7" cy="323.1" r="0.45" fill="#3545ff" fill-opacity="0.4"/>
<circle cx="525.2" cy="330.1" r="0.45" fill="#3545ff" fill-opacity="0.4"/>
<circle cx="523.6" cy="330.9" r="0.45" fill="#3545ff" fill-opacity="0.4"/>
<circle cx="526.4" cy="329.7" r="0.45" fill="#3545ff" fill-opacity="0.4"/>
<circle cx="535.9" cy="317.5" r="0.45" fill="#3545ff" fill-opacity="0.4"/>
<ellipse cx="516.6" cy="335.2" rx="5.0" ry="10.0" fill="url(#blueblob)"/>
<ellipse cx="523.9" cy="326.8" rx="1.6" ry="2.2" fill="url(#blueblob)" transform="rotate(30 523.9 326.8)"/>
<ellipse cx="516.5" cy="340.2" rx="4.7" ry="6.0" fill="url(#blob)"/>
<rect x="521.80" y="310.30" width="32.80" height="19.60" fill="none" stroke="#222" stroke-width="1.1" />
<text x="554.00" y="317.90" font-size="6.6" text-anchor="end" font-weight="normal" font-style="normal" fill="#222" stroke="#222" >0.87</text>
<line x1="437.20" y1="249.80" x2="437.20" y2="351.40" stroke="#000" stroke-width="1.6"/>
<line x1="504.20" y1="249.80" x2="504.20" y2="351.70" stroke="#000" stroke-width="1.6"/>
<line x1="485.60" y1="277.40" x2="499.00" y2="277.40" stroke="#000" stroke-width="1.3"/>
<path d="M502.2 277.4 L497.6 275.29999999999995 L497.6 279.5 Z" fill="#000"/>
<line x1="485.60" y1="334.70" x2="499.00" y2="334.70" stroke="#000" stroke-width="1.3"/>
<path d="M502.2 334.7 L497.6 332.59999999999997 L497.6 336.8 Z" fill="#000"/>
<text transform="translate(434.40,300.40) rotate(-90)" font-size="10.2" text-anchor="middle" fill="#111" stroke="#111">CD45/CD11b/Gr1</text>
<text transform="translate(501.60,300.20) rotate(-90)" font-size="10.2" text-anchor="middle" fill="#111" stroke="#111">CD44</text>
<text x="463.90" y="363.60" font-size="10.3" text-anchor="middle" font-weight="normal" font-style="normal" fill="#111" stroke="#111" >Ter119</text>
<text x="531.30" y="363.60" font-size="10.3" text-anchor="middle" font-weight="normal" font-style="normal" fill="#111" stroke="#111" >FSC-A</text>
<text x="384.30" y="274.40" font-size="11" text-anchor="start" font-weight="normal" font-style="italic" fill="#111" stroke="#111" >EpoR<tspan dy="-4.2" font-size="7.6">Cre</tspan><tspan dy="4.2"></tspan></text>
<text x="384.30" y="325.50" font-size="11" text-anchor="start" font-weight="normal" font-style="italic" fill="#111" stroke="#111" >Pim1<tspan dy="-4.2" font-size="7.0">fl/fl</tspan><tspan dy="4.2"></tspan></text>
<text x="384.30" y="339.20" font-size="11" text-anchor="start" font-weight="normal" font-style="italic" fill="#111" stroke="#111" >EpoR<tspan dy="-4.2" font-size="7.6">Cre</tspan><tspan dy="4.2"></tspan></text>
<rect x="629.80" y="287.50" width="18.10" height="50.40" fill="#fff" stroke="#111" stroke-width="1.25" />
<rect x="653.40" y="279.30" width="17.90" height="58.60" fill="#fff" stroke="#111" stroke-width="1.25" />
<circle cx="639.00" cy="265.40" r="2.25" fill="#0a0af5"/>
<circle cx="639.00" cy="269.90" r="2.25" fill="#0a0af5"/>
<circle cx="639.00" cy="278.40" r="2.25" fill="#0a0af5"/>
<circle cx="639.00" cy="292.90" r="2.25" fill="#0a0af5"/>
<circle cx="639.00" cy="299.70" r="2.25" fill="#0a0af5"/>
<circle cx="639.00" cy="313.60" r="2.25" fill="#0a0af5"/>
<circle cx="662.50" cy="256.00" r="2.25" fill="#f50a0a"/>
<circle cx="662.50" cy="264.80" r="2.25" fill="#f50a0a"/>
<circle cx="662.50" cy="281.10" r="2.25" fill="#f50a0a"/>
<circle cx="658.20" cy="286.10" r="2.25" fill="#f50a0a"/>
<circle cx="666.80" cy="288.00" r="2.25" fill="#f50a0a"/>
<circle cx="662.50" cy="294.70" r="2.25" fill="#f50a0a"/>
<line x1="638.85" y1="279.20" x2="638.85" y2="287.50" stroke="#111" stroke-width="1.25"/>
<line x1="634.15" y1="279.20" x2="643.55" y2="279.20" stroke="#111" stroke-width="1.25"/>
<line x1="662.35" y1="272.40" x2="662.35" y2="279.30" stroke="#111" stroke-width="1.25"/>
<line x1="658.05" y1="272.40" x2="666.65" y2="272.40" stroke="#111" stroke-width="1.25"/>
<line x1="625.20" y1="234.07" x2="625.20" y2="338.52" stroke="#111" stroke-width="1.25"/>
<line x1="621.00" y1="337.90" x2="625.20" y2="337.90" stroke="#111" stroke-width="1.25"/>
<text x="619.70" y="341.48" font-size="10" text-anchor="end" font-weight="normal" font-style="normal" fill="#111" stroke="#111" >0.0</text>
<line x1="621.00" y1="320.70" x2="625.20" y2="320.70" stroke="#111" stroke-width="1.25"/>
<text x="619.70" y="324.28" font-size="10" text-anchor="end" font-weight="normal" font-style="normal" fill="#111" stroke="#111" >0.2</text>
<line x1="621.00" y1="303.50" x2="625.20" y2="303.50" stroke="#111" stroke-width="1.25"/>
<text x="619.70" y="307.08" font-size="10" text-anchor="end" font-weight="normal" font-style="normal" fill="#111" stroke="#111" >0.4</text>
<line x1="621.00" y1="286.30" x2="625.20" y2="286.30" stroke="#111" stroke-width="1.25"/>
<text x="619.70" y="289.88" font-size="10" text-anchor="end" font-weight="normal" font-style="normal" fill="#111" stroke="#111" >0.6</text>
<line x1="621.00" y1="269.10" x2="625.20" y2="269.10" stroke="#111" stroke-width="1.25"/>
<text x="619.70" y="272.68" font-size="10" text-anchor="end" font-weight="normal" font-style="normal" fill="#111" stroke="#111" >0.8</text>
<line x1="621.00" y1="251.90" x2="625.20" y2="251.90" stroke="#111" stroke-width="1.25"/>
<text x="619.70" y="255.48" font-size="10" text-anchor="end" font-weight="normal" font-style="normal" fill="#111" stroke="#111" >1.0</text>
<line x1="621.00" y1="234.70" x2="625.20" y2="234.70" stroke="#111" stroke-width="1.25"/>
<text x="619.70" y="238.28" font-size="10" text-anchor="end" font-weight="normal" font-style="normal" fill="#111" stroke="#111" >1.2</text>
<line x1="621.00" y1="337.90" x2="677.10" y2="337.90" stroke="#111" stroke-width="1.25"/>
<line x1="638.90" y1="337.90" x2="638.90" y2="341.90" stroke="#111" stroke-width="1.25"/>
<line x1="662.40" y1="337.90" x2="662.40" y2="341.90" stroke="#111" stroke-width="1.25"/>
<line x1="639.80" y1="248.40" x2="661.70" y2="248.40" stroke="#111" stroke-width="1.6"/>
<text x="650.75" y="243.80" font-size="7.2" text-anchor="middle" font-weight="normal" font-style="normal" fill="#111" stroke="#111" >N.S.</text>
<text transform="translate(642.50,350.70) rotate(-45)" font-size="10.5" font-style="italic" text-anchor="end" fill="#111" stroke="#111">EpoR<tspan dy="-4.20" font-size="7.5">Cre</tspan></text>
<text transform="translate(666.00,350.70) rotate(-45)" font-size="10.5" font-style="italic" text-anchor="end" fill="#111" stroke="#111">Pim1<tspan dy="-4.20" font-size="7.0">fl/fl</tspan><tspan dy="4.20" dx="1.2">EpoR</tspan><tspan dy="-4.20" font-size="7.5">Cre</tspan></text>
<text transform="translate(583.80,284.60) rotate(-90)" font-size="11.7" text-anchor="middle" fill="#111" stroke="#111">Erythroblast number</text>
<text transform="translate(598.80,284.50) rotate(-90)" font-size="11.7" text-anchor="middle" fill="#111" stroke="#111">in spleen (10<tspan dy="-4.2" font-size="8.2">6</tspan><tspan dy="4.2">)</tspan></text>
<text x="0.00" y="433.20" font-size="16" text-anchor="start" font-weight="bold" font-style="normal" fill="#000" stroke="#000" >E</text>
<rect x="62.50" y="446.20" width="51.20" height="51.20" fill="#fff" stroke="#b8b8b8" stroke-width="0.9" />
<line x1="61.30" y1="450.20" x2="63.10" y2="450.20" stroke="#777" stroke-width="0.6"/>
<line x1="61.30" y1="461.00" x2="63.10" y2="461.00" stroke="#777" stroke-width="0.6"/>
<line x1="61.30" y1="471.80" x2="63.10" y2="471.80" stroke="#777" stroke-width="0.6"/>
<line x1="61.30" y1="482.60" x2="63.10" y2="482.60" stroke="#777" stroke-width="0.6"/>
<line x1="61.30" y1="493.40" x2="63.10" y2="493.40" stroke="#777" stroke-width="0.6"/>
<line x1="66.50" y1="496.80" x2="66.50" y2="498.60" stroke="#777" stroke-width="0.6"/>
<line x1="77.30" y1="496.80" x2="77.30" y2="498.60" stroke="#777" stroke-width="0.6"/>
<line x1="88.10" y1="496.80" x2="88.10" y2="498.60" stroke="#777" stroke-width="0.6"/>
<line x1="98.90" y1="496.80" x2="98.90" y2="498.60" stroke="#777" stroke-width="0.6"/>
<line x1="109.70" y1="496.80" x2="109.70" y2="498.60" stroke="#777" stroke-width="0.6"/>
<path d="M71.0 476.7 C77.0 478.7 85.0 480.7 86.0 484.2 C86.0 486.7 77.0 489.2 72.0 489.2 C69.0 485.7 69.5 480.7 71.0 476.7Z" fill="#bbb" fill-opacity="0.12" stroke="#888" stroke-opacity="0.3" stroke-width="0.6"/>
<path d="M71.0 476.7 C75.8 478.3 82.2 479.9 83.0 482.7 C83.0 484.7 75.8 489.2 72.0 489.2 C69.0 485.7 69.5 480.7 71.0 476.7Z" fill="#bbb" fill-opacity="0.12" stroke="#888" stroke-opacity="0.4" stroke-width="0.6"/>
<path d="M71.0 476.7 C74.6 477.9 79.4 479.1 80.0 481.2 C80.0 482.7 74.6 489.2 72.0 489.2 C69.0 485.7 69.5 480.7 71.0 476.7Z" fill="#bbb" fill-opacity="0.12" stroke="#888" stroke-opacity="0.5" stroke-width="0.6"/>
<path d="M71.0 476.7 C73.5 477.5 76.9 478.4 77.3 479.8 C77.3 480.9 73.5 489.2 72.0 489.2 C69.0 485.7 69.5 480.7 71.0 476.7Z" fill="#bbb" fill-opacity="0.12" stroke="#888" stroke-opacity="0.55" stroke-width="0.6"/>
<ellipse cx="71.1" cy="488.2" rx="2.9" ry="2.0" fill="none" stroke="#1a1a1a" stroke-width="1.3"/>
<path d="M68.5 474.7 C68.3 467.7 72.5 464.4 79.0 464.4 L88.5 464.4 C92.5 464.4 94.0 466.0 94.0 468.4 C94.0 471.0 92.5 472.2 88.5 472.2 L79.5 472.2 C76.5 472.2 74.0 473.0 73.5 475.2 Z" fill="#a4a4a4" stroke="#505050" stroke-width="0.85"/>
<path d="M70.8 474.7 C70.8 469.7 74.0 467.4 79.5 467.4 L88.5 467.4 C91.0 467.4 91.5 468.2 91.5 468.6 C91.5 469.2 90.5 469.4 88.5 469.4 L79.5 469.4 C75.7 469.4 72.5 470.8 72.1 475.0" fill="#cfcfcf" stroke="#6a6a6a" stroke-width="0.6"/>
<rect x="65.70" y="463.00" width="12.30" height="12.50" fill="none" stroke="#555" stroke-width="0.8" />
<rect x="78.00" y="462.20" width="4.80" height="11.40" fill="none" stroke="#555" stroke-width="0.8" />
<rect x="82.80" y="461.30" width="12.90" height="13.00" fill="none" stroke="#555" stroke-width="0.8" />
<text x="61.00" y="462.60" font-size="5.9" text-anchor="start" font-weight="normal" font-style="normal" fill="#ff1010" stroke="#ff1010" >BFU-E</text>
<text x="83.00" y="460.40" font-size="5.9" text-anchor="start" font-weight="normal" font-style="normal" fill="#ff1010" stroke="#ff1010" >CFU-E</text>
<rect x="62.50" y="500.00" width="51.20" height="51.20" fill="#fff" stroke="#b8b8b8" stroke-width="0.9" />
<line x1="61.30" y1="504.00" x2="63.10" y2="504.00" stroke="#777" stroke-width="0.6"/>
<line x1="61.30" y1="514.80" x2="63.10" y2="514.80" stroke="#777" stroke-width="0.6"/>
<line x1="61.30" y1="525.60" x2="63.10" y2="525.60" stroke="#777" stroke-width="0.6"/>
<line x1="61.30" y1="536.40" x2="63.10" y2="536.40" stroke="#777" stroke-width="0.6"/>
<line x1="61.30" y1="547.20" x2="63.10" y2="547.20" stroke="#777" stroke-width="0.6"/>
<line x1="66.50" y1="550.60" x2="66.50" y2="552.40" stroke="#777" stroke-width="0.6"/>
<line x1="77.30" y1="550.60" x2="77.30" y2="552.40" stroke="#777" stroke-width="0.6"/>
<line x1="88.10" y1="550.60" x2="88.10" y2="552.40" stroke="#777" stroke-width="0.6"/>
<line x1="98.90" y1="550.60" x2="98.90" y2="552.40" stroke="#777" stroke-width="0.6"/>
<line x1="109.70" y1="550.60" x2="109.70" y2="552.40" stroke="#777" stroke-width="0.6"/>
<path d="M72.6 530.5 C78.6 532.5 86.6 534.5 87.6 538.0 C87.6 540.5 78.6 543.0 73.6 543.0 C70.6 539.5 71.1 534.5 72.6 530.5Z" fill="#bbb" fill-opacity="0.12" stroke="#888" stroke-opacity="0.3" stroke-width="0.6"/>
<path d="M72.6 530.5 C77.4 532.1 83.8 533.7 84.6 536.5 C84.6 538.5 77.4 543.0 73.6 543.0 C70.6 539.5 71.1 534.5 72.6 530.5Z" fill="#bbb" fill-opacity="0.12" stroke="#888" stroke-opacity="0.4" stroke-width="0.6"/>
<path d="M72.6 530.5 C76.2 531.7 81.0 532.9 81.6 535.0 C81.6 536.5 76.2 543.0 73.6 543.0 C70.6 539.5 71.1 534.5 72.6 530.5Z" fill="#bbb" fill-opacity="0.12" stroke="#888" stroke-opacity="0.5" stroke-width="0.6"/>
<path d="M72.6 530.5 C75.1 531.3 78.5 532.2 78.9 533.6 C78.9 534.7 75.1 543.0 73.6 543.0 C70.6 539.5 71.1 534.5 72.6 530.5Z" fill="#bbb" fill-opacity="0.12" stroke="#888" stroke-opacity="0.55" stroke-width="0.6"/>
<ellipse cx="72.7" cy="542.0" rx="2.9" ry="2.0" fill="none" stroke="#1a1a1a" stroke-width="1.3"/>
<path d="M70.1 528.5 C69.9 521.5 74.1 518.2 80.6 518.2 L90.1 518.2 C94.1 518.2 95.6 519.8 95.6 522.2 C95.6 524.8 94.1 526.0 90.1 526.0 L81.1 526.0 C78.1 526.0 75.6 526.8 75.1 529.0 Z" fill="#a4a4a4" stroke="#505050" stroke-width="0.85"/>
<path d="M72.4 528.5 C72.4 523.5 75.6 521.2 81.1 521.2 L90.1 521.2 C92.6 521.2 93.1 522.0 93.1 522.4 C93.1 523.0 92.1 523.2 90.1 523.2 L81.1 523.2 C77.3 523.2 74.1 524.6 73.7 528.8" fill="#cfcfcf" stroke="#6a6a6a" stroke-width="0.6"/>
<rect x="68.00" y="517.30" width="11.70" height="12.20" fill="none" stroke="#555" stroke-width="0.8" />
<rect x="80.40" y="516.30" width="4.20" height="9.90" fill="none" stroke="#555" stroke-width="0.8" />
<rect x="85.10" y="515.20" width="12.70" height="15.30" fill="none" stroke="#555" stroke-width="0.8" />
<line x1="58.90" y1="448.30" x2="58.90" y2="550.20" stroke="#000" stroke-width="1.6"/>
<text transform="translate(56.60,499.30) rotate(-90)" font-size="10.3" text-anchor="middle" fill="#111" stroke="#111">c-Kit</text>
<text x="88.20" y="563.00" font-size="10.8" text-anchor="middle" font-weight="normal" font-style="normal" fill="#111" stroke="#111" >CD71</text>
<text x="13.40" y="476.90" font-size="11.3" text-anchor="start" font-weight="normal" font-style="italic" fill="#111" stroke="#111" >EpoR<tspan dy="-4.2" font-size="7.6">Cre</tspan><tspan dy="4.2"></tspan></text>
<text x="13.40" y="524.40" font-size="11.3" text-anchor="start" font-weight="normal" font-style="italic" fill="#111" stroke="#111" >Pim1<tspan dy="-4.2" font-size="7.0">fl/fl</tspan><tspan dy="4.2"></tspan></text>
<text x="13.40" y="538.50" font-size="11.3" text-anchor="start" font-weight="normal" font-style="italic" fill="#111" stroke="#111" >EpoR<tspan dy="-4.2" font-size="7.6">Cre</tspan><tspan dy="4.2"></tspan></text>
<rect x="164.00" y="487.30" width="17.60" height="75.50" fill="#fff" stroke="#111" stroke-width="1.25" />
<rect x="187.60" y="483.00" width="17.90" height="79.80" fill="#fff" stroke="#111" stroke-width="1.25" />
<circle cx="165.60" cy="476.70" r="2.25" fill="#0a0af5"/>
<circle cx="180.10" cy="476.70" r="2.25" fill="#0a0af5"/>
<circle cx="172.80" cy="480.20" r="2.25" fill="#0a0af5"/>
<circle cx="172.80" cy="490.50" r="2.25" fill="#0a0af5"/>
<circle cx="176.40" cy="497.50" r="2.25" fill="#0a0af5"/>
<circle cx="169.20" cy="500.90" r="2.25" fill="#0a0af5"/>
<circle cx="196.30" cy="466.30" r="2.25" fill="#f50a0a"/>
<circle cx="192.20" cy="473.20" r="2.25" fill="#f50a0a"/>
<circle cx="200.70" cy="476.70" r="2.25" fill="#f50a0a"/>
<circle cx="196.30" cy="487.10" r="2.25" fill="#f50a0a"/>
<circle cx="200.70" cy="494.00" r="2.25" fill="#f50a0a"/>
<circle cx="192.20" cy="497.50" r="2.25" fill="#f50a0a"/>
<line x1="172.80" y1="482.60" x2="172.80" y2="487.30" stroke="#111" stroke-width="1.25"/>
<line x1="168.40" y1="482.60" x2="177.20" y2="482.60" stroke="#111" stroke-width="1.25"/>
<line x1="196.55" y1="477.50" x2="196.55" y2="483.00" stroke="#111" stroke-width="1.25"/>
<line x1="192.35" y1="477.50" x2="200.75" y2="477.50" stroke="#111" stroke-width="1.25"/>
<line x1="159.00" y1="459.18" x2="159.00" y2="563.42" stroke="#111" stroke-width="1.25"/>
<line x1="154.80" y1="562.80" x2="159.00" y2="562.80" stroke="#111" stroke-width="1.25"/>
<text x="153.50" y="566.38" font-size="10" text-anchor="end" font-weight="normal" font-style="normal" fill="#111" stroke="#111" >0.0</text>
<line x1="154.80" y1="528.47" x2="159.00" y2="528.47" stroke="#111" stroke-width="1.25"/>
<text x="153.50" y="532.05" font-size="10" text-anchor="end" font-weight="normal" font-style="normal" fill="#111" stroke="#111" >0.1</text>
<line x1="154.80" y1="494.13" x2="159.00" y2="494.13" stroke="#111" stroke-width="1.25"/>
<text x="153.50" y="497.71" font-size="10" text-anchor="end" font-weight="normal" font-style="normal" fill="#111" stroke="#111" >0.2</text>
<line x1="154.80" y1="459.80" x2="159.00" y2="459.80" stroke="#111" stroke-width="1.25"/>
<text x="153.50" y="463.38" font-size="10" text-anchor="end" font-weight="normal" font-style="normal" fill="#111" stroke="#111" >0.3</text>
<line x1="154.80" y1="562.80" x2="210.70" y2="562.80" stroke="#111" stroke-width="1.25"/>
<line x1="172.60" y1="562.80" x2="172.60" y2="566.80" stroke="#111" stroke-width="1.25"/>
<line x1="196.60" y1="562.80" x2="196.60" y2="566.80" stroke="#111" stroke-width="1.25"/>
<line x1="173.60" y1="461.40" x2="195.80" y2="461.40" stroke="#111" stroke-width="1.6"/>
<text x="184.70" y="457.00" font-size="7.2" text-anchor="middle" font-weight="normal" font-style="normal" fill="#111" stroke="#111" >N.S.</text>
<text transform="translate(176.20,575.60) rotate(-45)" font-size="10.5" font-style="italic" text-anchor="end" fill="#111" stroke="#111">EpoR<tspan dy="-4.20" font-size="7.5">Cre</tspan></text>
<text transform="translate(200.20,575.60) rotate(-45)" font-size="10.5" font-style="italic" text-anchor="end" fill="#111" stroke="#111">Pim1<tspan dy="-4.20" font-size="7.0">fl/fl</tspan><tspan dy="4.20" dx="1.2">EpoR</tspan><tspan dy="-4.20" font-size="7.5">Cre</tspan></text>
<text x="184.60" y="443.50" font-size="13" text-anchor="middle" font-weight="normal" font-style="normal" fill="#111" stroke="#111" >BFU-E</text>
<text transform="translate(134.80,509.90) rotate(-90)" font-size="11.6" text-anchor="middle" fill="#111" stroke="#111">BFU-E number in BM (10<tspan dy="-4.2" font-size="8.2">4</tspan><tspan dy="4.2">)</tspan></text>
<rect x="259.00" y="511.40" width="17.70" height="51.40" fill="#fff" stroke="#111" stroke-width="1.25" />
<rect x="282.60" y="505.10" width="17.90" height="57.70" fill="#fff" stroke="#111" stroke-width="1.25" />
<circle cx="263.60" cy="501.20" r="2.25" fill="#0a0af5"/>
<circle cx="272.00" cy="498.40" r="2.25" fill="#0a0af5"/>
<circle cx="272.00" cy="511.40" r="2.25" fill="#0a0af5"/>
<circle cx="263.60" cy="513.90" r="2.25" fill="#0a0af5"/>
<circle cx="272.00" cy="518.60" r="2.25" fill="#0a0af5"/>
<circle cx="263.60" cy="521.70" r="2.25" fill="#0a0af5"/>
<circle cx="291.60" cy="488.20" r="2.25" fill="#f50a0a"/>
<circle cx="291.60" cy="498.40" r="2.25" fill="#f50a0a"/>
<circle cx="295.70" cy="503.50" r="2.25" fill="#f50a0a"/>
<circle cx="287.30" cy="506.30" r="2.25" fill="#f50a0a"/>
<circle cx="295.70" cy="513.90" r="2.25" fill="#f50a0a"/>
<circle cx="287.30" cy="516.70" r="2.25" fill="#f50a0a"/>
<line x1="267.85" y1="507.10" x2="267.85" y2="511.40" stroke="#111" stroke-width="1.25"/>
<line x1="263.45" y1="507.10" x2="272.25" y2="507.10" stroke="#111" stroke-width="1.25"/>
<line x1="291.55" y1="500.40" x2="291.55" y2="505.10" stroke="#111" stroke-width="1.25"/>
<line x1="287.35" y1="500.40" x2="295.75" y2="500.40" stroke="#111" stroke-width="1.25"/>
<line x1="254.10" y1="459.57" x2="254.10" y2="563.42" stroke="#111" stroke-width="1.25"/>
<line x1="249.90" y1="562.80" x2="254.10" y2="562.80" stroke="#111" stroke-width="1.25"/>
<text x="248.60" y="566.38" font-size="10" text-anchor="end" font-weight="normal" font-style="normal" fill="#111" stroke="#111" >0.0</text>
<line x1="249.90" y1="537.15" x2="254.10" y2="537.15" stroke="#111" stroke-width="1.25"/>
<text x="248.60" y="540.73" font-size="10" text-anchor="end" font-weight="normal" font-style="normal" fill="#111" stroke="#111" >0.1</text>
<line x1="249.90" y1="511.50" x2="254.10" y2="511.50" stroke="#111" stroke-width="1.25"/>
<text x="248.60" y="515.08" font-size="10" text-anchor="end" font-weight="normal" font-style="normal" fill="#111" stroke="#111" >0.2</text>
<line x1="249.90" y1="485.85" x2="254.10" y2="485.85" stroke="#111" stroke-width="1.25"/>
<text x="248.60" y="489.43" font-size="10" text-anchor="end" font-weight="normal" font-style="normal" fill="#111" stroke="#111" >0.3</text>
<line x1="249.90" y1="460.20" x2="254.10" y2="460.20" stroke="#111" stroke-width="1.25"/>
<text x="248.60" y="463.78" font-size="10" text-anchor="end" font-weight="normal" font-style="normal" fill="#111" stroke="#111" >0.4</text>
<line x1="249.90" y1="562.80" x2="305.70" y2="562.80" stroke="#111" stroke-width="1.25"/>
<line x1="267.80" y1="562.80" x2="267.80" y2="566.80" stroke="#111" stroke-width="1.25"/>
<line x1="291.30" y1="562.80" x2="291.30" y2="566.80" stroke="#111" stroke-width="1.25"/>
<line x1="268.70" y1="480.00" x2="290.80" y2="480.00" stroke="#111" stroke-width="1.6"/>
<text x="279.75" y="475.60" font-size="7.2" text-anchor="middle" font-weight="normal" font-style="normal" fill="#111" stroke="#111" >N.S.</text>
<text transform="translate(271.40,575.60) rotate(-45)" font-size="10.5" font-style="italic" text-anchor="end" fill="#111" stroke="#111">EpoR<tspan dy="-4.20" font-size="7.5">Cre</tspan></text>
<text transform="translate(294.90,575.60) rotate(-45)" font-size="10.5" font-style="italic" text-anchor="end" fill="#111" stroke="#111">Pim1<tspan dy="-4.20" font-size="7.0">fl/fl</tspan><tspan dy="4.20" dx="1.2">EpoR</tspan><tspan dy="-4.20" font-size="7.5">Cre</tspan></text>
<text x="279.55" y="443.50" font-size="13" text-anchor="middle" font-weight="normal" font-style="normal" fill="#111" stroke="#111" >CFU-E</text>
<text transform="translate(229.80,509.90) rotate(-90)" font-size="11.6" text-anchor="middle" fill="#111" stroke="#111">CFU-E number in BM (10<tspan dy="-4.2" font-size="8.2">4</tspan><tspan dy="4.2">)</tspan></text>
<text x="330.50" y="433.10" font-size="16" text-anchor="start" font-weight="bold" font-style="normal" fill="#000" stroke="#000" >F</text>
<rect x="388.50" y="505.20" width="18.00" height="57.80" fill="#fff" stroke="#111" stroke-width="1.25" />
<rect x="411.80" y="504.40" width="18.00" height="58.60" fill="#fff" stroke="#111" stroke-width="1.25" />
<circle cx="397.30" cy="485.70" r="2.25" fill="#0a0af5"/>
<circle cx="393.10" cy="501.00" r="2.25" fill="#0a0af5"/>
<circle cx="401.50" cy="501.00" r="2.25" fill="#0a0af5"/>
<circle cx="393.10" cy="511.60" r="2.25" fill="#0a0af5"/>
<circle cx="401.50" cy="511.60" r="2.25" fill="#0a0af5"/>
<circle cx="397.30" cy="516.80" r="2.25" fill="#0a0af5"/>
<circle cx="420.90" cy="480.40" r="2.25" fill="#f50a0a"/>
<circle cx="420.90" cy="501.00" r="2.25" fill="#f50a0a"/>
<circle cx="416.60" cy="506.50" r="2.25" fill="#f50a0a"/>
<circle cx="425.00" cy="506.50" r="2.25" fill="#f50a0a"/>
<circle cx="420.90" cy="511.60" r="2.25" fill="#f50a0a"/>
<circle cx="420.90" cy="516.80" r="2.25" fill="#f50a0a"/>
<line x1="397.50" y1="500.30" x2="397.50" y2="505.20" stroke="#111" stroke-width="1.25"/>
<line x1="393.00" y1="500.30" x2="402.00" y2="500.30" stroke="#111" stroke-width="1.25"/>
<line x1="420.80" y1="498.60" x2="420.80" y2="504.40" stroke="#111" stroke-width="1.25"/>
<line x1="416.10" y1="498.60" x2="425.50" y2="498.60" stroke="#111" stroke-width="1.25"/>
<line x1="382.40" y1="459.07" x2="382.40" y2="563.62" stroke="#111" stroke-width="1.25"/>
<line x1="378.20" y1="563.00" x2="382.40" y2="563.00" stroke="#111" stroke-width="1.25"/>
<text x="376.90" y="566.58" font-size="10" text-anchor="end" font-weight="normal" font-style="normal" fill="#111" stroke="#111" >0</text>
<line x1="378.20" y1="537.17" x2="382.40" y2="537.17" stroke="#111" stroke-width="1.25"/>
<text x="376.90" y="540.75" font-size="10" text-anchor="end" font-weight="normal" font-style="normal" fill="#111" stroke="#111" >5</text>
<line x1="378.20" y1="511.35" x2="382.40" y2="511.35" stroke="#111" stroke-width="1.25"/>
<text x="376.90" y="514.93" font-size="10" text-anchor="end" font-weight="normal" font-style="normal" fill="#111" stroke="#111" >10</text>
<line x1="378.20" y1="485.52" x2="382.40" y2="485.52" stroke="#111" stroke-width="1.25"/>
<text x="376.90" y="489.10" font-size="10" text-anchor="end" font-weight="normal" font-style="normal" fill="#111" stroke="#111" >15</text>
<line x1="378.20" y1="459.70" x2="382.40" y2="459.70" stroke="#111" stroke-width="1.25"/>
<text x="376.90" y="463.28" font-size="10" text-anchor="end" font-weight="normal" font-style="normal" fill="#111" stroke="#111" >20</text>
<line x1="378.20" y1="563.00" x2="434.60" y2="563.00" stroke="#111" stroke-width="1.25"/>
<line x1="397.60" y1="563.00" x2="397.60" y2="567.00" stroke="#111" stroke-width="1.25"/>
<line x1="421.20" y1="563.00" x2="421.20" y2="567.00" stroke="#111" stroke-width="1.25"/>
<line x1="398.00" y1="473.50" x2="420.10" y2="473.50" stroke="#111" stroke-width="1.6"/>
<text x="409.05" y="469.00" font-size="7.2" text-anchor="middle" font-weight="normal" font-style="normal" fill="#111" stroke="#111" >N.S.</text>
<text transform="translate(401.20,575.80) rotate(-45)" font-size="10.5" font-style="italic" text-anchor="end" fill="#111" stroke="#111">EpoR<tspan dy="-4.20" font-size="7.5">Cre</tspan></text>
<text transform="translate(424.80,575.80) rotate(-45)" font-size="10.5" font-style="italic" text-anchor="end" fill="#111" stroke="#111">Pim1<tspan dy="-4.20" font-size="7.0">fl/fl</tspan><tspan dy="4.20" dx="1.2">EpoR</tspan><tspan dy="-4.20" font-size="7.5">Cre</tspan></text>
<text x="409.40" y="444.60" font-size="13" text-anchor="middle" font-weight="normal" font-style="normal" fill="#111" stroke="#111" >BFU-E</text>
<text transform="translate(346.80,509.50) rotate(-90)" font-size="11.6" text-anchor="middle" fill="#111" stroke="#111">BFU-E colony number in</text>
<text transform="translate(362.50,510.60) rotate(-90)" font-size="11.6" text-anchor="middle" fill="#111" stroke="#111">5×10<tspan dy="-4.2" font-size="8.2">4</tspan><tspan dy="4.2"> BM cells</tspan></text>
<rect x="498.50" y="496.50" width="18.00" height="66.50" fill="#fff" stroke="#111" stroke-width="1.25" />
<rect x="522.40" y="492.70" width="18.10" height="70.30" fill="#fff" stroke="#111" stroke-width="1.25" />
<circle cx="507.70" cy="483.50" r="2.25" fill="#0a0af5"/>
<circle cx="507.70" cy="491.50" r="2.25" fill="#0a0af5"/>
<circle cx="507.70" cy="496.20" r="2.25" fill="#0a0af5"/>
<circle cx="507.70" cy="501.00" r="2.25" fill="#0a0af5"/>
<circle cx="514.80" cy="501.00" r="2.25" fill="#0a0af5"/>
<circle cx="500.40" cy="503.70" r="2.25" fill="#0a0af5"/>
<circle cx="531.30" cy="481.50" r="2.25" fill="#f50a0a"/>
<circle cx="524.00" cy="489.80" r="2.25" fill="#f50a0a"/>
<circle cx="531.30" cy="492.10" r="2.25" fill="#f50a0a"/>
<circle cx="531.30" cy="496.50" r="2.25" fill="#f50a0a"/>
<circle cx="538.50" cy="496.50" r="2.25" fill="#f50a0a"/>
<circle cx="524.00" cy="498.60" r="2.25" fill="#f50a0a"/>
<line x1="507.50" y1="493.30" x2="507.50" y2="496.50" stroke="#111" stroke-width="1.25"/>
<line x1="503.20" y1="493.30" x2="511.80" y2="493.30" stroke="#111" stroke-width="1.25"/>
<line x1="531.45" y1="489.60" x2="531.45" y2="492.70" stroke="#111" stroke-width="1.25"/>
<line x1="527.15" y1="489.60" x2="535.75" y2="489.60" stroke="#111" stroke-width="1.25"/>
<line x1="493.70" y1="458.38" x2="493.70" y2="563.62" stroke="#111" stroke-width="1.25"/>
<line x1="489.50" y1="563.00" x2="493.70" y2="563.00" stroke="#111" stroke-width="1.25"/>
<text x="488.20" y="566.58" font-size="10" text-anchor="end" font-weight="normal" font-style="normal" fill="#111" stroke="#111" >0</text>
<line x1="489.50" y1="537.00" x2="493.70" y2="537.00" stroke="#111" stroke-width="1.25"/>
<text x="488.20" y="540.58" font-size="10" text-anchor="end" font-weight="normal" font-style="normal" fill="#111" stroke="#111" >50</text>
<line x1="489.50" y1="511.00" x2="493.70" y2="511.00" stroke="#111" stroke-width="1.25"/>
<text x="488.20" y="514.58" font-size="10" text-anchor="end" font-weight="normal" font-style="normal" fill="#111" stroke="#111" >100</text>
<line x1="489.50" y1="485.00" x2="493.70" y2="485.00" stroke="#111" stroke-width="1.25"/>
<text x="488.20" y="488.58" font-size="10" text-anchor="end" font-weight="normal" font-style="normal" fill="#111" stroke="#111" >150</text>
<line x1="489.50" y1="459.00" x2="493.70" y2="459.00" stroke="#111" stroke-width="1.25"/>
<text x="488.20" y="462.58" font-size="10" text-anchor="end" font-weight="normal" font-style="normal" fill="#111" stroke="#111" >200</text>
<line x1="489.50" y1="563.00" x2="545.60" y2="563.00" stroke="#111" stroke-width="1.25"/>
<line x1="507.60" y1="563.00" x2="507.60" y2="567.00" stroke="#111" stroke-width="1.25"/>
<line x1="531.20" y1="563.00" x2="531.20" y2="567.00" stroke="#111" stroke-width="1.25"/>
<line x1="508.20" y1="474.00" x2="530.60" y2="474.00" stroke="#111" stroke-width="1.6"/>
<text x="519.40" y="469.50" font-size="7.2" text-anchor="middle" font-weight="normal" font-style="normal" fill="#111" stroke="#111" >N.S.</text>
<text transform="translate(511.20,575.80) rotate(-45)" font-size="10.5" font-style="italic" text-anchor="end" fill="#111" stroke="#111">EpoR<tspan dy="-4.20" font-size="7.5">Cre</tspan></text>
<text transform="translate(534.80,575.80) rotate(-45)" font-size="10.5" font-style="italic" text-anchor="end" fill="#111" stroke="#111">Pim1<tspan dy="-4.20" font-size="7.0">fl/fl</tspan><tspan dy="4.20" dx="1.2">EpoR</tspan><tspan dy="-4.20" font-size="7.5">Cre</tspan></text>
<text x="519.40" y="444.60" font-size="13" text-anchor="middle" font-weight="normal" font-style="normal" fill="#111" stroke="#111" >CFU-E</text>
<text transform="translate(450.60,509.50) rotate(-90)" font-size="11.6" text-anchor="middle" fill="#111" stroke="#111">CFU-E colony number in</text>
<text transform="translate(466.00,510.60) rotate(-90)" font-size="11.6" text-anchor="middle" fill="#111" stroke="#111">5×10<tspan dy="-4.2" font-size="8.2">4</tspan><tspan dy="4.2"> BM cells</tspan></text>
<text x="566.30" y="432.80" font-size="16" text-anchor="start" font-weight="bold" font-style="normal" fill="#000" stroke="#000" >G</text>
<rect x="629.00" y="500.60" width="18.00" height="62.40" fill="#fff" stroke="#111" stroke-width="1.25" />
<rect x="652.40" y="500.60" width="18.30" height="62.40" fill="#fff" stroke="#111" stroke-width="1.25" />
<circle cx="633.80" cy="489.80" r="2.25" fill="#0a0af5"/>
<circle cx="642.10" cy="490.90" r="2.25" fill="#0a0af5"/>
<circle cx="638.00" cy="497.30" r="2.25" fill="#0a0af5"/>
<circle cx="633.80" cy="503.80" r="2.25" fill="#0a0af5"/>
<circle cx="642.10" cy="507.60" r="2.25" fill="#0a0af5"/>
<circle cx="633.80" cy="510.90" r="2.25" fill="#0a0af5"/>
<circle cx="661.50" cy="487.00" r="2.25" fill="#f50a0a"/>
<circle cx="661.50" cy="495.80" r="2.25" fill="#f50a0a"/>
<circle cx="657.30" cy="501.70" r="2.25" fill="#f50a0a"/>
<circle cx="665.60" cy="501.50" r="2.25" fill="#f50a0a"/>
<circle cx="665.60" cy="506.30" r="2.25" fill="#f50a0a"/>
<circle cx="657.30" cy="508.20" r="2.25" fill="#f50a0a"/>
<line x1="638.00" y1="496.20" x2="638.00" y2="500.60" stroke="#111" stroke-width="1.25"/>
<line x1="633.30" y1="496.20" x2="642.70" y2="496.20" stroke="#111" stroke-width="1.25"/>
<line x1="661.55" y1="496.80" x2="661.55" y2="500.60" stroke="#111" stroke-width="1.25"/>
<line x1="657.05" y1="496.80" x2="666.05" y2="496.80" stroke="#111" stroke-width="1.25"/>
<line x1="623.00" y1="458.77" x2="623.00" y2="563.62" stroke="#111" stroke-width="1.25"/>
<line x1="618.80" y1="563.00" x2="623.00" y2="563.00" stroke="#111" stroke-width="1.25"/>
<text x="617.50" y="566.58" font-size="10" text-anchor="end" font-weight="normal" font-style="normal" fill="#111" stroke="#111" >0</text>
<line x1="618.80" y1="542.28" x2="623.00" y2="542.28" stroke="#111" stroke-width="1.25"/>
<text x="617.50" y="545.86" font-size="10" text-anchor="end" font-weight="normal" font-style="normal" fill="#111" stroke="#111" >5</text>
<line x1="618.80" y1="521.56" x2="623.00" y2="521.56" stroke="#111" stroke-width="1.25"/>
<text x="617.50" y="525.14" font-size="10" text-anchor="end" font-weight="normal" font-style="normal" fill="#111" stroke="#111" >10</text>
<line x1="618.80" y1="500.84" x2="623.00" y2="500.84" stroke="#111" stroke-width="1.25"/>
<text x="617.50" y="504.42" font-size="10" text-anchor="end" font-weight="normal" font-style="normal" fill="#111" stroke="#111" >15</text>
<line x1="618.80" y1="480.12" x2="623.00" y2="480.12" stroke="#111" stroke-width="1.25"/>
<text x="617.50" y="483.70" font-size="10" text-anchor="end" font-weight="normal" font-style="normal" fill="#111" stroke="#111" >20</text>
<line x1="618.80" y1="459.40" x2="623.00" y2="459.40" stroke="#111" stroke-width="1.25"/>
<text x="617.50" y="462.98" font-size="10" text-anchor="end" font-weight="normal" font-style="normal" fill="#111" stroke="#111" >25</text>
<line x1="618.80" y1="563.00" x2="675.70" y2="563.00" stroke="#111" stroke-width="1.25"/>
<line x1="637.70" y1="563.00" x2="637.70" y2="567.00" stroke="#111" stroke-width="1.25"/>
<line x1="661.40" y1="563.00" x2="661.40" y2="567.00" stroke="#111" stroke-width="1.25"/>
<line x1="638.60" y1="478.60" x2="660.90" y2="478.60" stroke="#111" stroke-width="1.6"/>
<text x="649.75" y="474.40" font-size="7.2" text-anchor="middle" font-weight="normal" font-style="normal" fill="#111" stroke="#111" >N.S.</text>
<text transform="translate(641.30,575.80) rotate(-45)" font-size="10.5" font-style="italic" text-anchor="end" fill="#111" stroke="#111">EpoR<tspan dy="-4.20" font-size="7.5">Cre</tspan></text>
<text transform="translate(665.00,575.80) rotate(-45)" font-size="10.5" font-style="italic" text-anchor="end" fill="#111" stroke="#111">Pim1<tspan dy="-4.20" font-size="7.0">fl/fl</tspan><tspan dy="4.20" dx="1.2">EpoR</tspan><tspan dy="-4.20" font-size="7.5">Cre</tspan></text>
<text x="650.00" y="443.50" font-size="13" text-anchor="middle" font-weight="normal" font-style="normal" fill="#111" stroke="#111" >Erythroblast</text>
<text transform="translate(587.60,510.00) rotate(-90)" font-size="11.6" text-anchor="middle" fill="#111" stroke="#111">Erythroblast number</text>
<text transform="translate(602.00,511.30) rotate(-90)" font-size="11.6" text-anchor="middle" fill="#111" stroke="#111">in BM (10<tspan dy="-4.2" font-size="8.2">6</tspan><tspan dy="4.2">)</tspan></text>
</svg>
</body></html>
